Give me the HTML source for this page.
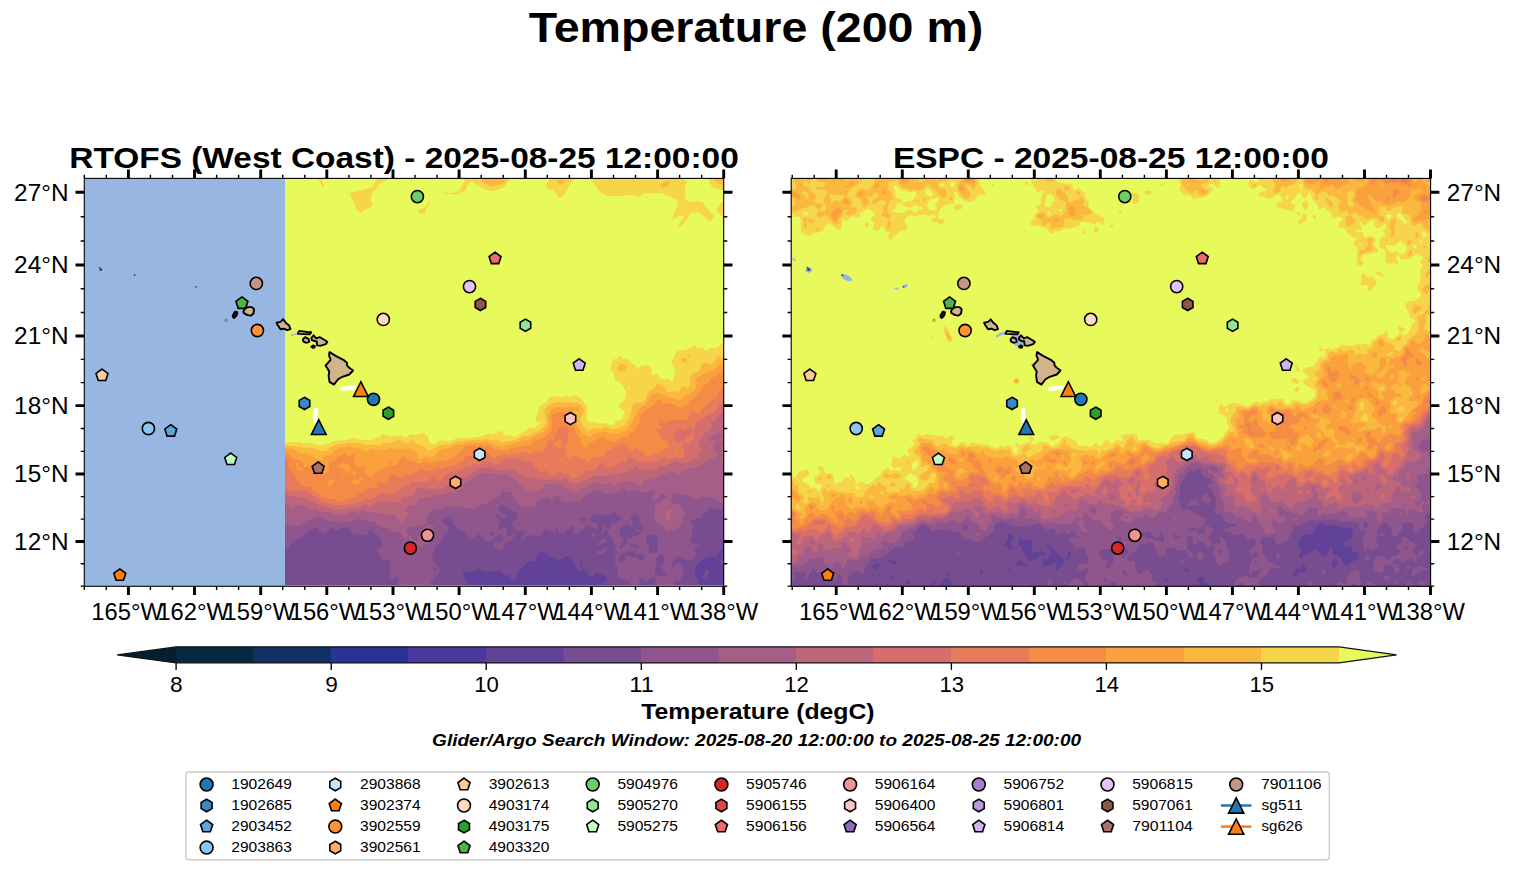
<!DOCTYPE html>
<html><head><meta charset="utf-8"><title>Temperature (200 m)</title>
<style>html,body{margin:0;padding:0;background:#fff;overflow:hidden}svg{display:block}text{font-family:"Liberation Sans",sans-serif}</style></head>
<body>
<svg width="1514" height="889" viewBox="0 0 1514 889" font-family="Liberation Sans, sans-serif">
<rect width="1514" height="889" fill="#fff"/>
<text x="756.0" y="42.1" font-size="42" text-anchor="middle" font-weight="bold" font-style="normal" fill="#000" textLength="454.7" lengthAdjust="spacingAndGlyphs">Temperature (200 m)</text>
<g>
<clipPath id="clipL"><rect x="84.3" y="178.4" width="639.4" height="407.9"/></clipPath>
<g clip-path="url(#clipL)">
<rect x="84.3" y="178.4" width="639.4" height="407.9" fill="#97b6e1"/>
<rect x="285" y="178.4" width="438.70000000000005" height="405.6" fill="#4a389f"/>
<path fill="#624198" d="M285 178.5l439.5 0 0 406.5-439.5 0z"/>
<path fill="#784c90" d="M285 178.5l439.5 0 0 371-3 0.5-1 0.5-0.5 1.5-2 1.5-2.5 3.5-4.5-0.5-6 2-6 4-3 3-0.5 4.5-1 3 0 1.5 1.5 3 2.5 1.5 0 1.5-0.5 3 0.5 1.5-87 0-1-1.5-1.5 1.5-5.5 0-0.5-3.5 3 0 1-2.5-0.5-1.5-3.5-3-3 0.5-3-2-1.5 0-3 3.5-1.5 0.5-1.5-1-3-4.5-3-3-1.5 1-1.5 1.5-1.5 0.5-3.5-3-1-1.5-0.5-3-2.5-5-3.5-2.5-2.5-0.5-2 2-1 0.5-1.5 0-3 2-1.5-0.5-1.5-2-1.5-1-3 0-4.5-3.5-3-1-3-0.5-3 3-0.5 1.5 0 3-1 1.5-3 1-1.5-1-1.5-0.5-2 2-1 1.5-5 3-5 7.5 0.5 3-2.5 2.5-1.5 0.5-1.5-1.5-2-3-2.5-1-3 0-1-0.5-1-1.5-2.5-2-1.5 0-4.5 1-3-1-1.5 0.5-4.5 0.5-1.5-0.5-3-2.5-1.5 0-4.5 1.5-1.5 0.5-4.5 1-1.5 0.5-3-0.5-0.5 1 0.5 3 3 3 0 3 0.5 3-182 0zM580.5 562l-0.5 5 0.5 0.5 1.5-0.5-1-1.5 0-1.5 1 0 0.5-1.5-0.5-1zM722.5 558l1.5 0 0 3 0.5 0.5 0 4-1.5 0-1.5-1.5-1.5-3 0.5-1.5zM706.5 570l2.5 0 0 1.5-1 7.5-1.5 0.5-4.5-2 0-1.5 3-4.5z"/>
<path fill="#8e568c" d="M285 178.5l439.5 0 0 331-9 0-4.5-2-1.5 0-1.5 2.5-1.5 1.5-3 1.5-1 1.5 0 1.5-0.5 1.5-3 1.5-3-0.5-4.5 2-0.5 1.5 0.5 1 2 2 0.5 1.5-2 3 0.5 3-0.5 3-0.5 3-1.5 3 3 2 4.5 0.5 1.5-0.5 1.5 1-3 0.5-3 2.5-0.5 1.5 1.5 3 0.5 3-1.5 2.5-1.5 2-4.5 0.5-1.5-0.5-4.5-0.5-1.5-2-1.5-1-3 1-1.5 1-1.5 3.5-1.5 1.5-0.5 2.5 0.5 1.5 1.5 0.5 0.5-0.5 1-3 1.5-0.5 1.5 0 3.5 2 1 1.5 0 1.5 1.5 1.5 0 1.5-1.5 1.5-0.5 1.5-1 4.5-1.5 1.5-1.5 0.5-3-0.5-2 1.5 2 3-20 0 0-3 1-3-0.5-0.5-1.5-1-3 0-3 2-1.5 2.5-1.5-0.5-3-4.5-1.5 0.5-0.5 1.5-1.5 6-8 0-0.5-3-1.5-1.5-1.5 0-3-1.5-3 0-1.5-1-1-2-1.5-4.5 0-1.5 1-1.5 0-1.5-3-3 0.5-4.5-1.5-3 1.5-1.5 2.5-1.5-0.5-1.5-1-1.5-1.5-1.5-0.5-1.5 0.5-3-1.5-2-0.5-1 0-3-4.5-4.5-1-4.5-1.5 0-2 1.5-1 1.5 0 2-2-0.5 0-1.5 3.5-7.5 2 1.5 1 2.5 1.5 0 1.5-1.5 0.5-1-0.5-1.5 3-2 3 0.5 2-3 2-1.5 0.5-1.5-0.5-1.5-1-1-1.5 0.5-1.5-0.5-1.5-2-1.5-1.5-3 2.5-3 0.5-3 1-4.5-1.5-5 0.5-2.5 1-1 2-2.5 1.5 3.5 4 3 0 1.5 1 0.5 2.5-1 3-1 0-1.5-0.5-3-3-1.5-1-3 1-1.5 1-6 6.5-3 0.5-1.5-0.5-1.5-1 0.5-1.5 1.5-3-2-1.5-1.5 0-3 2.5-3 0.5-0.5 3-2.5 1-3.5-1-1-1.5-0.5 0 0.5-1.5-1.5-1.5-2 1.5 2 1.5 0.5 1.5-2 0.5-7.5-3-3-0.5-3 4.5-1.5 1-1.5 0.5-4.5 0.5-3-1.5-3 1.5-3 0.5-1 3.5-0.5 0-2.5-1.5 0-1.5 2.5-1.5 1-1.5 0-1.5-1-1.5-1.5-0.5-3 1-6-3.5-1-4.5 0.5-1.5 3-3 0.5-1.5 1.5-3-0.5-1.5-2.5-1.5-7-1.5-0.5-1.5-3.5-3-1-1-1.5 0.5-2 2 0 1.5 0.5 2 1.5 1.5 5 2.5 0.5 1.5-1 1.5-3 1-1.5 0-1.5-3-1.5-1-2 1.5 0 1.5 5 3 0 1.5-1.5 1-1 5-1 1.5 2 0.5 1.5-2 4.5-1.5 2 4.5-1.5 3 0.5 1.5 0.5 0.5 3 0.5 3-4 1.5-0.5 0.5 0.5 0.5 1.5-1 2.5-2.5 2-0.5 3-3-0.5-3.5 2-1 1.5-1 4.5-0.5 1-1.5 0.5-5.5-3-2.5-3 0.5-1.5 1.5-1 4.5 1 1.5-0.5 1-1 1-3-0.5-1.5-1.5-2.5-5.5 2.5-2.5 3-5.5 2-3-1-1-1-0.5-3-1-1.5-2-1-3 0.5-1.5 2 0 1 1.5 0.5 2 1.5-0.5 0-2 0-1-1.5-1.5-1-4.5 2.5-1.5-1.5-0.5-3-2.5-3-1.5-1-3-1-1.5 0-2-1-1-3-3-2-0.5-1 0.5-3-1.5-3-1.5-1-3 0.5-3 2.5-1.5 0.5-0.5 2 2 1 2.5 3.5 2 0.5 0.5 1-0.5 3-1.5 1.5-1.5 0.5-1.5 1.5-1.5 7-4.5 2.5-3.5 5-1 3-0.5 3-1 3 1.5 4 2.5 2 4 6-1 3-1 1.5-2 1.5-2.5 4-3 2 0 1.5 0.5 1.5-33 0-0.5-1.5 0-1.5 1.5-2 0-1-0.5-1.5-1-1-1.5 0-1.5 1.5-1.5 2-1.5-0.5-2.5-5 0-1.5 1.5-3 0-1.5-1-1.5 0-1.5 1-1.5 0.5-1.5-1-1.5-1.5-1-3-0.5-3 1-1.5-4-2-1.5-2-4.5 0.5-1.5 0.5-0.5 4-2.5 0.5-3-0.5-1.5-2.5-5-1.5-1.5-3-1-2.5-3-2-1.5-1.5 0-1 1.5-0.5 4-1.5 1-1.5-0.5-4.5-1.5-3 0-4.5-0.5-1.5-2-0.5-2-1-1-3-0.5-4.5 0-4.5 2-4.5-2-1.5 0-7.5 5.5-3.5-1-1-1.5-1.5-3-1.5-0.5-6 1.5-1.5 1-1.5 3.5-3 1-4.5 4-3 0.5-2 1-1 1.5-3 2-1 2.5-2 2.5-3-1zM492 531.5l-1.5 1-0.5 1.5 0.5 1.5 1.5 0.5 1.5-1 1.5-2.5-1.5-1zM582 517l-1.5 0.5-1 1.5 1 1.5 3 1 1.5 0 0.5-1 0.5-1.5-1-1zM631.5 516l-1 1.5 0 1.5 1 1.5 2 1.5 0 1.5-1 3-1 0.5-1.5-0.5-3-3-3 3-3 1-1.5 1.5 0 1 1 2.5-1.5 3 1 1.5 2.5 1.5 0.5 1.5-1.5 4.5-2 1.5 0 1.5 1.5 1 1.5 0 1.5-3.5 3.5-2 0-1.5-1-1.5 0.5-1.5 3-0.5 6-2.5 3 0 1-1.5 0-1.5-1-1.5-1.5 0.5-3-2-0.5-1.5 2 0.5 3 2 3 0 0.5-1 0.5-1.5-0.5-1.5-3.5-3 0.5-4.5-2-4-1.5 0zM649.5 535l-3 1-0.5 1 0.5 1.5 0.5 4.5 1.5 3 0.5 1.5 0 4.5 0.5 1 3-0.5 3 0.5 1.5-1 0.5-1.5 1-3-1.5-3-0.5-1.5 2-3-2-4.5-1-1zM660 554.5l-3.5 3.5-1 1.5 1.5 4.5-0.5 1.5-2 3 1 6.5 4.5 2 6-1.5 1-1 0-1.5-4-2-1-2.5 1-4.5 2-3 0-3-0.5-1-3-2.5zM433.5 568l0 2 1.5 1.5 2-1.5 0-1.5-0.5-1-1.5-0.5zM627 551.5l-1.5 1-4 1-2 1 0 2-1.5 3 0.5 1.5 2.5 1.5 1.5-0.5 2-1 1.5-1.5-1-3 2-2 3 2.5 6 0 1.5 0.5 1.5 2.5 3 1 1.5-1 1-2 0-1.5-2.5-3-1.5-0.5-3 1.5-1.5-0.5-1.5-3-3 0.5zM631.5 544l-0.5 0.5-0.5 1.5 1 1.5 3-0.5 1.5 2 3-0.5 1-1-2.5-2.5zM507 522l1 1.5-1 2-0.5-0.5zM591.5 532.5l1-0.5 3 2 0.5 1.5-0.5 1-1.5 0.5-1.5-1-1-2zM603 538.5l1.5-1.5 2 4.5-2 1-3 0.5-2 1.5-1 1.5-0.5-1.5 1.5-3 0.5-1.5zM488.5 544.5l0.5-0.5 0.5 0.5 0.5 1.5-1 0.5-0.5-0.5zM603 549l1.5-1.5 1.5 0.5 0.5 2.5-2.5 1.5-1 1.5-3 1-2.5-1-1-1.5 0.5-2 3 1 1.5-0.5z"/>
<path fill="#a55e87" d="M285 178.5l439.5 0 0 319-0.5 0.5 0.5 0 0 5-3 0.5-1.5-0.5-4.5-3.5-4.5-2-3 0-4.5-1-1.5 0.5-2 2.5-2.5 0.5-4.5-1.5-3-2-1.5-1-4.5-1-3 0-3-1-1.5 0-3-0.5-1.5 2 0 3-1 1.5-0.5 1.5 1.5 1.5 3 1 4.5 0.5 1.5 0.5 4.5 10-0.5 1.5-2 1.5-0.5 1.5 0 3-2 3-5 6-2 0-1.5-0.5-3 1-1.5 0-3-2.5-3-4-4.5-2.5-2.5-2-0.5-1.5 0-1.5 1.5-7.5-0.5-1.5-1-3 0.5-1.5 1-0.5 6-2 2-2 4-1.5 0-1.5-4.5-3-1.5 0-4.5 6-1.5 0.5-3 1-1-1.5 0-1.5 1.5-3 2-3-2.5-2-6 2.5-3 0.5-9-2.5-3 1-4.5 0-3-3-1.5 0-1.5 2-4.5 2.5-6 0.5-3 0.5-1.5 0-3-1.5-4.5-1.5-3-0.5-3.5 1.5-2.5 2-4.5 1-4.5 5.5-1.5 1-7.5-0.5-3 1.5-6-1-1.5-1-1-1-0.5-3-1.5-0.5-4.5 0.5-1 1.5 0 1.5 0.5 1.5-1 0.5-1-0.5-0.5-1.5-1.5-1.5-3-1-7.5 3.5-1.5 1.5-1 3.5-5 2-3-0.5-4.5 0-3-1-4-3.5-2.5-4.5-2.5-3 0-3.5-1.5-0.5-3 1.5-2.5-0.5-2-2.5-0.5 2.5-2.5 4-3 2-4.5 1.5-3 3.5-3 2-3-1.5-1.5 0.5-1.5 1.5-5 3-2.5 0.5-9-1-3-1.5-9 1-4.5-1.5-1.5 0-6 4-1.5 0-3-0.5-1.5 1-5 4-1.5 1.5 0.5 1.5-1 3 0.5 3-1 0.5-3 0.5-3 1.5-3 0-1.5 0-3 1-4.5 0.5-2 3.5 0 1.5 2 2 4 2.5 2.5 3 2.5 1 1.5-0.5 0.5-0.5-1.5-3 2.5-1.5 1.5 0.5 1 1 0.5 2 1.5 0.5 1-1-3.5-7.5 0-1.5 4-3.5 3-1.5 3 1 2 1-0.5 1.5-1 1.5 0.5 1.5 1.5 1.5-0.5 1.5-2 2.5-1.5 0.5-0.5 1.5 0 3-1 2.5-1.5 0.5-3-0.5-1 0.5-2 2.5-1.5-1-1.5 0.5-0.5 1 0 1.5 1 3-0.5 1-1.5 0.5-1.5-1-3-4.5-3.5-2 0.5-1.5 1.5 0.5 1.5-0.5-1.5-1-1.5 0.5-2-1 2-2.5 0-2.5-1.5 0-1 0.5-0.5 1.5 0.5 1.5-0.5 0.5 0-2-1.5-0.5-0.5-1-2-1.5-1-3-1-1.5-1.5-0.5-3 0.5-7.5-4-9-2-2.5-1.5-2-3-1.5-0.5-4.5 0-2.5-1 0.5-1.5-1-0.5-0.5 0.5 0 1.5-1 0.5-1.5 0-3-2-1.5 0-7.5 2.5-12 1-3-1-1.5-0.5-3 0.5-6-1.5-1.5-1.5-1.5-0.5-4.5-1-9 3-6 3-3 2.5-1.5 0.5-3 0-4.5-1.5-6 1zM288 521.5l-0.5 0.5 0.5 2 0.5-2z"/>
<path fill="#bd667b" d="M285 178.5l439.5 0 0 261.5-3 1.5-1.5-0.5 0-1.5 1.5-1.5 0.5-1.5-1-3-1-0.5-1.5 0-3 1-5 4-1.5 1.5 0 1.5 0.5 0.5 1.5 0 1.5-1 1.5-0.5 1.5 1 1 1.5-3 3-0.5 3 1 2 2.5 2.5 0.5 1.5 0 1.5-10.5 6-9 4.5-1.5 1.5-1.5 0.5-4.5-0.5-4.5 3-3 0-1.5 1-3 3-1.5-0.5-2-2-2.5-1.5-4.5 2-3 0.5-1.5 0.5-3 2-3 0.5-3 2.5-3 0-3 1.5-1.5 0-3-1 0 3.5-0.5 1.5-1 0.5-1.5 0-3-0.5-2-1.5-1-1.5-6-1-4.5 0.5-6 2-3 2-1.5 0.5-1.5-0.5-1.5-2-1.5-0.5-1.5 0.5-3 1.5-1.5 0-3-0.5-4.5-2-1.5 0-6 3.5-3 2-4 1.5-3.5 4-6-1.5-1.5-0.5-4-2-2.5-3-1-0.5-9-1.5-6 0-1.5 0.5-6 4.5-3.5 1.5-2.5 2-3-1.5-1.5-0.5-3 0.5-1.5-1-1.5-2.5-4.5-4-3-3.5-3-1.5-1.5-1.5-4.5-2.5-3 0.5-3-0.5-4.5 0-12-2-5 1.5-4 3.5-10.5 5.5-1.5 1.5-0.5 3-1.5 1.5-4 2-6 1.5-3 0-3 2-6 0.5-4.5 0-6 2.5-3 0-8 2-0.5 1.5 0 1.5-1.5 1.5-3.5 2.5-1.5-1.5-1.5 0.5-4 3-1 1.5 0.5 0.5 3 1.5 0.5 1 0.5 1.5-1 1.5-4.5 6.5-1.5 1-1.5-1-1.5-3-2.5-2-0.5-2-1.5-1-7.5-0.5-3 0.5-3-1.5-3 0-3-1-3 0.5-4.5-0.5-1.5 0-3-2-1.5 0.5-3 2-7.5-1-1.5 0.5-3 2.5-4.5 0.5-4.5-1-3 1-4.5-2.5-4.5-0.5-4.5 0.5-4.5-3.5-1.5-0.5-6 0.5-4.5-3.5-7.5-0.5-1.5 0.5-1.5 2-1.5 1-4-1.5-3.5-3.5zM721.5 447l1.5-1 1.5-0.5 0 19-3-1 0.5-4.5 2-3-2-1.5-0.5-1.5 0.5-4.5zM668 510l3 0 0.5 1.5-1.5 4.5 0.5 3-0.5 1.5-1 0.5-1.5-0.5-1.5-2-0.5-2.5 0-1.5 1.5-3z"/>
<path fill="#d56e6c" d="M285 178.5l439.5 0 0 235-3 0.5-1.5 0.5-3.5 4 0 1.5-1 1-4.5 1 0 1 1 3-0.5 1.5-3.5 4-1.5 0.5-1.5 0-1 1.5-0.5 3-3 3-2 4.5 0.5 1.5 3 3 0.5 1.5-3.5 3-0.5 1.5 0 3-1 1-4.5 0.5-5.5 3-3.5 1-3-0.5-4.5-1.5-1.5 0-6 3.5-3 1-1.5 1-3-1-1.5 0.5-3 3-7.5 1.5-4.5 0-4.5-1.5-4.5-2.5-1.5 0.5-2 2.5-5.5 2.5-3 0-3 1.5-3-0.5-3 2.5-4.5-1.5-4.5 1.5-3 0-3 0.5-4.5 0-3 1-3 2-7.5 2-7.5 3-1.5 0-3-1.5-4.5-4-1.5 0-3 2-1.5 0-6-1.5-4.5 1-10.5-0.5-3-2.5-1.5-0.5-1.5 0-3 1.5-1.5 0-1.5 0-3-2-1.5-0.5-3-1-3.5-3.5-2.5-1.5-1.5-0.5-7.5 1.5-3-0.5-3 0.5-7.5-3-6-0.5-9 3-1.5 1-2.5 3-6.5 4-1.5 0-3-1.5-1.5 0-2.5 0.5-2 6-1.5 2-1.5 1-4.5-1-2 1-2.5 3-1.5 0.5-6 0-3-0.5-3 0-4.5-1-6 0-2 1-1.5 3-1.5 1.5-0.5 1.5-1.5 1.5-3.5 0.5-4.5 0-1.5 1-1.5 3-1.5 1-4.5 0.5-7.5-1-4.5 1-3-1.5-1.5 0-4.5 4-3 1-1.5 0-4.5-0.5-3 0.5-3 1.5-4.5 0-10.5 2-9 0-12-3-11-5.5-4-0.5-1.5-1-1.5-2.5-1.5 0-4.5 0.5-6-2-4.5 0-3-0.5zM617 475.5l1-0.5 1.5 0.5-1.5 1z"/>
<path fill="#e87b59" d="M285 178.5l439.5 0 0 221.5-2.5 2-3.5 4.5-0.5 1.5-4 5.5-3 1-1.5-0.5-1.5 0.5-4.5 4-4.5 1.5-2 1.5-2.5 7.5-1.5 1.5 0.5 3-0.5 3 0.5 1.5-0.5 1.5-4.5 5.5-1.5-2.5-1.5-0.5-1.5 0.5-1.5 1.5-0.5 1.5 0.5 1.5 2 3 0 1.5 0 4.5-0.5 1-1.5 0.5-3 0.5-4.5-0.5-6 2.5-3-2-3-1-3 1-3 4-1.5 0-4.5-0.5-3 1-4.5-1-3 0-6-1-3-3.5-1.5 0-1.5 0.5-3 4.5-1.5 0.5-1.5 0-1.5-0.5-1.5 0-1.5 2-6 3.5-6-0.5-1.5-2-1.5-1-1.5-0.5-1.5 0-2 1.5-1 3-1 1.5-6.5 1.5-3-0.5-1.5 0.5-0.5 1.5-1.5 1.5-5.5 2.5-3 2.5-1.5 0-1.5-0.5-1.5-1.5-1.5-3-1.5-0.5-2 0.5-2.5-1-3-0.5-1.5 0.5-3 2-3 0.5-3.5-1.5-1.5-3-1-0.5-3 1-3-0.5-2-1.5-1-3-1.5 0.5-1.5-1.5-1.5-4-9 0-1.5-0.5-1.5-2-1.5-0.5-3 1-3 0-3-1-4.5 1.5-1.5-0.5-1.5 1-3 3-4.5 1.5-4-3-3.5-1.5-3 1-4.5 2.5-1.5 0.5-4.5 0-3 1.5-4.5 0.5-3 2-9 3-3 0-4.5 2.5-4.5 4.5-1.5 2.5-1 0.5-2 0-4.5-4.5-3 1.5-1.5 2-1.5 1-4.5-0.5-4.5 1.5-1.5 0-3-1-1.5-0.5-4.5 4.5-1.5 0.5-3 0.5-4.5 3-3 3.5-7.5 1-6-2-3 1.5-3.5 3-7 3.5-3-0.5-7.5 3.5-6 1-3 0-10.5 1.5-3 0-9-3-6-0.5-3-2.5-3-3-3-1-6-4-1.5-0.5-3 0.5-6-1-4.5 0.5-3-2-1.5-0.5-1.5 0zM690 428l-4.5 2.5-1.5 0.5-3-2-1.5 0.5-3 2.5-1.5 0.5-1.5 1 0 1.5 1.5 5 1.5 1 3 0.5 3 0 1-0.5 2-3 1.5-1.5 1.5-0.5 2-1 1-3 1.5-1.5-1.5-1.5z"/>
<path fill="#f58c46" d="M285 178.5l439.5 0 0 209-4.5 2-3.5 8-2.5 2-3 1-1.5 1-1.5 3-4.5 2.5-1.5 2-1 3.5-0.5 0.5-1.5 0.5-3 0-1.5-0.5-2.5-2-1 0-1 0.5-0.5 4-1.5 3-1 0.5-4.5 1.5-3-1-3 0.5-3-1-1.5 0.5-3 1-3 2.5-1.5 0.5-1-0.5 0-1.5-0.5-1-1.5-0.5-2 1.5-0.5 1.5 0.5 1.5 0.5 1.5 1.5-0.5 0.5 0.5 0 1.5-0.5 1.5-1.5 0.5-1.5-1-1.5 0-1 2 2.5 3.5 1.5 0 2.5 7 0.5 0 1.5-1 1.5 0.5 3 5-0.5 1.5-7 4-4.5 2-9 0 3 0 0.5 1.5-0.5 1.5-1.5 0.5-1.5 0-1.5-0.5-3-3.5-3-1.5-3-3-1.5-0.5-3 2.5-2 0-2-1.5-1-3-2.5-1-3-0.5-1.5 0-4.5 2.5-3 1-3 2.5-3-0.5-1.5 2.5-1 4-0.5 0.5-10.5 0.5-2.5 2-2 2.5-1.5 0-1-1-6.5-2.5-6-2-2.5 0-2 2-4-2-0.5-1.5 2-4.5-3-1.5 1-3 1-1.5 1.5-1.5 0.5-1.5-1-3 0.5-3 1.5-3 0-1.5-0.5-1.5-1.5-1.5-5-1.5-4 1.5-0.5 1.5 1 1.5-0.5 1.5-2.5 1.5-1 1.5 0.5 3 0 1.5-2 0.5-1.5-0.5-4.5 1.5-1.5 7.5-1.5 1.5-3 1.5-7.5 0.5-4.5 2-1.5-0.5-6-2-2.5 1.5-3.5 1-4.5 0.5-3 1-1.5 0-3-1.5-1.5 0-3 1-4.5 3-3-1-1.5-1-1.5-2.5-1.5-0.5-3 0.5-3 0-3 3.5-3 1-1.5 0-3-2.5-3 0-1.5 0.5-1.5 1.5-1.5 3-1.5 1-4.5 1.5-2.5 2-2 1-4.5 0-3 1.5-4.5 1-3-1-3 0.5-1.5 1-1.5 2-1.5 0.5-4.5-0.5-4.5-2.5-1.5 0.5-1.5 2-7.5 3.5-4.5 0.5-6 2.5-1.5-0.5-2.5-1.5-2-0.5-6 0.5 0 1.5 1 1.5-1.5 3-2 1.5-2 0.5-3-1.5-2.5 1 0 3-1 1.5-2.5 1-3 0-3-1-1.5 1-7.5 5-1.5 0-2 3-2.5 1.5-6 0-5 3-2.5 0.5-6-2.5-1.5-0.5-3 1-1.5-0.5-1.5-1-4.5-0.5-1.5-1-3-3-5-3-4-4-3 0.5-1.5 0-4.5-4-1.5-2-2.5-2.5-1.5-3-3.5-4.5-3-2.5-0.5-2 1.5-4.5-3-4.5-1-0.5zM646.5 446.5l0 1.5 1.5 0 1-1-1-1zM558 439.5l1.5-1.5 1.5 0.5 0.5 1-0.5 1.5 0.5 3-0.5 3-1.5 1-6-2.5-0.5-1.5 2-2.5 1.5 0.5 1.5 0 0.5-1zM675 448.5l1.5 0.5 0.5 1-0.5 1.5-2-1.5zM562.5 457.5l1.5 0.5 0.5 1-0.5 1.5-2 0-1.5-1.5z"/>
<path fill="#faa03c" d="M285 178.5l439.5 0 0 193.5-3 0.5-2.5 1-2.5 1.5-0.5 1.5-0.5 0.5-3 0-1.5 0.5-1 3.5-4.5 3-5 7-2.5 2-3.5 5-1.5 1.5-3 0.5-2 3.5-5.5 4-4.5 0-2.5-2.5-3.5-1.5-6-0.5-3 0.5-1 0-1-3-1-1-4 1-2 4.5-4.5 2-4.5 4-3 1.5-1 1.5-1.5 4.5 1 1.5 0.5 1.5-3.5 3.5-3 5.5-1.5 1.5-3.5 1.5-1.5 3-1 0.5-3-0.5-1.5 0.5-3 1.5-4.5 3-3 0-1.5-0.5-4-1.5-3.5-2.5-1.5-0.5-6 4-3 1-7.5 6-1.5-1.5-1.5-2-0.5-4.5-1-1.5-5-6-0.5-3-1.5-3-2-2-4.5-1.5-1-1-0.5-1.5 0.5-3-0.5-4-1.5-1-4.5 0-6 2-1 1.5-1 3 1.5 4.5-4 10.5-1.5 1.5-6 3.5-7.5 3-4.5 4-10.5 1.5-3 0-7.5 3-3 0.5-7.5-0.5-9-4-1.5 0-3 0.5-4.5-1-3 0.5-4.5-1-1.5 0-6 2-3.5 3-1 2.5-3 1-3 4-1.5 0.5-7.5 2.5-3 0.5-6 0.5-4.5 1-4.5 0-3-1-1.5 0.5-3 1.5-1.5 0-6-3-6-0.5-1.5-3.5-1.5-0.5-4.5 4.5-1.5 4.5-4.5 1-2.5-1 0-3-0.5-1.5-2 1.5 2 3-1 1.5-2 1-6 1-1.5 2-1.5 1-1.5 0.5-3 2.5-4.5 1.5-1.5 0-1.5-2-1.5-1.5-0.5-1.5 1-1.5 0.5-1.5-1-2-1.5-0.5-1.5 0-1.5 2-1.5 0.5-1.5-0.5-1-1-1.5-3 0.5-3-1-1.5 0.5-3-0.5-1.5-1.5-0.5-2 2-2.5 0-3-2.5-1.5-0.5-1.5 2-4.5 2-3 3.5-5.5 1.5 0.5 6-2 4.5-2 1-3-1-1.5 0-1.5 1.5-0.5-1.5-1-0.5-1.5-2.5-4.5-2.5-4.5-0.5-3 1-1.5-4-1.5-2-4.5-2-3 0-2.5-2-2-3.5-4.5-1zM343 462l0.5-0.5 1 0.5 0.5 2.5 1.5 0.5 1.5-1 1.5 0.5 1.5 6.5 1.5 0.5 3 0 2 1-2 1-1.5 3-2-2.5-1-3-3.5 1.5-0.5 1.5 1 1.5-1.5 0.5 0-2-3-5.5-3.5-0.5-2.5-1.5 1.5-1.5 2.5-1.5zM296.5 463.5l0.5-1 1.5 0 0.5 1-0.5 3 5 1.5 0 1.5-5 1-1.5-1-1-4.5zM342 477l3.5 0-2 1.5-1.5 0.5-0.5-0.5zM370 477l0.5-1.5 1.5 0 0.5 1.5 0 1.5-2 0zM353.5 478.5l0.5-1 2 2.5 1 0.5 4.5-3.5 1 1.5-0.5 1.5-3.5 4-1.5 0.5-3-0.5-1.5-1.5-0.5-1 0.5-1.5zM330 480l1.5-1 1.5 0 2 1-0.5 1.5-1.5 1.5-3 2-1.5 2.5-1.5-1.5 0-1.5 1.5-1.5z"/>
<path fill="#fab83f" d="M285 178.5l439.5 0 0 184.5-4.5 1-1.5 2-9 6-7.5 2.5-1.5 1-5 2.5-1 1.5 2.5 3-1 4.5-1.5 3.5-1.5 1.5-1.5 0.5-3 2-3 0-4.5 5.5-1.5 0.5-1.5-0.5-7-2.5-5-1-3-1.5-4.5-2-6 1.5-1.5 1-6 9.5-3 1.5-4.5 4.5-5.5 12-5 7-1.5 1-7.5 2.5-4.5 0-3-0.5-3 0-3-1.5-10 2-3.5 3-3 0.5-5-3.5-3.5-4.5-2.5-4.5-4-3.5-1.5-2.5 0.5-4.5 1-2 1.5-2 3 1.5 1.5-0.5 0.5-1.5-0.5-1.5-1.5-1-1.5 0-1.5 1-3-1.5-1.5 0-9 1-6 0-1.5 0.5-1.5 1-2.5 3.5-1.5 4.5 1 6-1.5 4.5-1 1.5-3.5 3-4.5 2.5-4.5 2-5 3-4 1-3 0-18 6-4.5-0.5-13.5-4-6 0.5-4.5 0.5-4.5-0.5-4.5 0.5-4.5 2-4.5-0.5-1.5 0.5-3 2-3 1-10.5 2-2 1.5-2.5 4-3 2-3 0-3-1.5-4.5 3-1.5 0.5-1.5-0.5-1-4.5-3.5-4-3-1-6-1-6 1-9-1.5-4.5 1.5-6 1-6-1-1.5-1-1.5 0.5-3 2-1.5 0.5-3-1-3-2-1.5-0.5-4.5 0-3-1.5-1.5-0.5-4.5 1.5-3 0-7.5 3-1.5 1-1.5 3-1.5 1-4.5-0.5-1.5 1-1.5 3.5-1.5 0-6-1.5-5-2-2-1.5-0.5-1.5-6 1-7.5-4.5-4.5-0.5-4.5-0.5z"/>
<path fill="#f6d54a" d="M285 178.5l439.5 0 0 179-3 0-3-2-2.5 1.5-0.5 3-1 1.5-2 2-1.5 1-1.5 0-3-2-4.5 1-1 1 0 3-3.5 4.5-4.5 1-1.5 1.5-1 2 0 6-1 4.5-1 1-1.5 0-3-1.5-3 0-1 3.5-2 2.5-1.5 0-1.5-1.5-4.5 1-3 0-1.5-0.5-1.5-4.5-1-1.5-5-2-1.5 0-1.5 3.5-1.5 1.5-3 1-2.5 2-3 7.5-2 2.5-4.5 1.5-3 0-1.5 0.5-1.5 1.5-1.5 4.5-0.5 3-1 4.5-4.5 8-4.5 2-3 1.5-2 0.5-4 0.5-6-2.5-1.5 0-4.5 2-1.5 0-6-1-3 3-1.5 0-1.5-2.5-3-1.5-1-1-2-5.5-1-0.5 2-3 2.5-7.5-0.5-1.5-1-1.5-5-4-1.5 0-3 0.5-4.5-1-4.5 0.5-7.5-0.5-7.5 3-2.5 1.5-1 1.5-1 3 0 1.5 0.5 6 1.5 3-0.5 1.5-1.5 2.5-6 5.5-1.5 1-3 0.5-6 3-6 1-3 2-6 2-9 2-1.5 0-1.5-0.5-3-2-1.5-0.5-3 1-7.5-1.5-9 1-12 0.5-4.5 1-4.5 0.5-6 2.5-4.5 0-7.5 1.5-3 2-4.5 2.5-3-0.5-1.5-1-3-3-7.5-2.5-3-3-1.5-0.5-2 2.5-2.5 0.5-3-0.5-4.5-2.5-1.5 0-3 1-6 2-6 0-1.5 1-1.5 2-7.5-1.5-4.5 1-1.5 0-4.5-2-4.5-1-3 0.5-4.5-0.5-4.5 1.5-7.5 0-1.5 0.5-3 2-3 1-3 3-3 0.5-4.5-0.5-7.5-3-7.5 1-4.5-1.5-3 0-3-1-4.5 0-4.5-0.5zM621 364l-2.5 2-1 1.5 0 1.5 0.5 1 1.5 1 3 0.5 1.5 0 2-1 0.5-1.5-1-5-1.5-0.5zM682.5 358l-1 0.5 0 1.5 0.5 1.5 3.5 1.5 1.5-0.5-0.5-2.5-1-1.5-1.5-0.5zM688.5 355l-0.5 2 0.5 0.5 1.5-0.5 0-2z"/>
<path fill="#e8fa5b" d="M285 178.5l439.5 0 0 168-1-1.5-2-1-1.5 1.5-2 1-2.5 2-4.5-1-2 2-2.5 1-1.5-0.5-3-2.5-1.5 0-1.5 1-1.5 0-1.5-2-1.5-1.5-1.5 0-1.5 3-3 0.5-3 1.5-3 0-5 1-2.5 3-2 4.5-1.5 3 0 1.5 2.5 4.5 1 4.5 0 1.5-1.5 1.5 0.5 3 0 1.5-2 1.5-1.5-0.5-1.5-1.5-4.5 0.5-3-0.5-2-1-1.5-3-1-1-4.5 1.5-1.5-0.5 0-1.5 1.5-3-3-4-3-1.5-1.5 0-4.5 1.5-2 1 0 1.5-1 0-3-4.5-1.5-1-3-0.5-1.5-3.5-1.5-1-4.5 0-0.5-1.5-1-1-1.5 0.5-3 3-3-0.5-1 1-1 3-1 6 0.5 1.5 3 3 0 3 1.5 4.5 4.5 1.5 4.5 6 2 3-2 6 1 1.5 0.5 0-0.5 0-1 1.5-5.5 3-0.5 1.5 1 2 4.5 4 0.5 1.5-1.5 3-0.5 3-1.5 1.5-1.5 0.5-3 0-1 1-1 3-1 0.5-3 0-6-2-4.5 0.5-6-1.5-6-0.5-0.5-1.5-1-6 1-4.5-0.5-3-5.5-7.5-2.5-2-3-1.5-1.5 0-3 1.5-6-1-4.5 1.5-3-1-6-0.5-3 2-2 4-6 3-2.5 3 0 4.5-3 5.5 0 1.5 1.5 3 1.5-0.5 1.5 0 0 1.5-3 2-1.5 2-1.5 0.5-4.5 0-1.5 1-3 2-3 1.5-3 2.5-3 1.5-3 0-6-1.5-3 0.5-1.5-4.5-1.5-0.5-2 1.5-2.5 0.5-3 2-6-0.5-6 2.5-12 1.5-9-0.5-4.5 1-3 1.5-4.5 1-4.5-0.5-4.5 0-1.5 0.5-3 2.5-1.5 1-4-2-1-3-0.5-3-3.5-3-1.5-0.5-3 0.5-6 1.5-3-1-4.5 3-1.5 0.5-3-2-4.5 0.5-3-0.5-6 0.5-6-2-1.5 1 0 2-3 0-6 3-3 0-9-0.5-3-1-3-0.5-9 2-10.5 1-6 2.5-6 2-6-0.5-3-1.5-3-0.5-7.5 0-4.5-1.5-3 1-4.5-0.5-4.5 0.5-1.5-0.5zM627.5 388.5l1-1 0.5 1 0 1.5-1.5 0z"/>
<polygon fill="#f6d54a" points="349.7,193.2 360.6,190.3 372.2,187.4 375.8,181.5 378.0,178.4 388.2,178.4 385.3,181.5 379.4,183.7 375.8,188.8 372.2,193.9 370.7,199.0 372.9,205.5 366.4,209.1 360.6,212.8 356.9,209.9 353.3,201.2 351.1,196.8"/>
<polygon fill="#f6d54a" points="318.4,178.4 322.1,180.1 323.5,184.4 325.0,186.3 322.1,185.9 319.9,182.3"/>
<polygon fill="#f6d54a" points="417.2,210.6 424.5,207.7 428.1,203.3 430.3,201.9 430.3,203.3 426.7,207.7 424.5,213.5 420.1,213.5"/>
<polygon fill="#f6d54a" points="441.2,192.1 452.1,193.2 459.4,190.3 463.0,183.7 465.2,180.8 463.0,178.4 510.8,178.4 507.9,182.3 505.0,185.9 500.1,188.8 491.3,191.7 484.1,188.8 476.8,185.2 472.4,181.5 468.1,183.7 465.9,189.5 459.4,194.6 452.1,194.6 443.4,193.6"/>
<polygon fill="#f6d54a" points="545.0,184.4 551.5,178.4 574.7,178.4 568.9,186.6 563.1,196.8 558.8,197.5 554.4,191.7 551.5,189.5 547.9,189.5"/>
<polygon fill="#f6d54a" points="590.0,178.4 595.1,185.2 599.5,191.7 606.7,196.1 624.2,196.1 628.5,194.6 638.7,196.8 644.5,193.2 661.9,193.2 670.7,196.8 677.9,200.4 677.2,206.2 674.3,212.1 672.1,220.0 677.2,217.1 683.0,215.0 684.5,217.1 679.4,223.0 677.2,228.0 682.3,225.1 686.6,220.0 690.3,213.5 698.3,212.1 704.1,216.4 709.9,222.2 714.2,215.7 710.6,212.1 706.2,207.7 702.6,201.9 698.3,201.2 688.1,201.9 685.2,198.2 685.2,185.2 687.4,181.5 681.5,178.4"/>
<polygon fill="#f6d54a" points="709.2,178.4 723.7,178.4 723.7,190.3 718.6,189.5 712.8,187.4 709.9,183.7"/>
<polygon fill="#f6d54a" points="723.7,201.2 720.1,204.1 716.4,209.1 720.1,214.2 723.7,217.1"/>
<polygon fill="#fab83f" points="478.3,178.4 505.0,178.4 505.0,183.7 498.6,185.2 491.3,186.6 485.5,183.7"/>
<polygon fill="#fab83f" points="556.6,180.1 564.6,180.1 563.8,183.0 560.9,184.9 558.0,182.3"/>
<polygon fill="#fab83f" points="659.8,185.2 666.3,180.8 669.9,181.5 667.7,185.9 663.4,187.8"/>
<polygon fill="#fab83f" points="714.2,178.4 723.7,178.4 723.7,185.2 718.6,183.7 715.0,181.5"/>
<path d="M291.7,335.3L297.6,333.2" stroke="#97b6e1" stroke-width="1.6" stroke-linecap="round"/>
<path d="M303.5,342.8L309.4,341.0" stroke="#97b6e1" stroke-width="1.3" stroke-linecap="round"/>
<path d="M310.5,347.6L314.0,346.0" stroke="#97b6e1" stroke-width="1.3" stroke-linecap="round"/>
<path d="M329.8,351.6L332.0,353.0" stroke="#97b6e1" stroke-width="1.2" stroke-linecap="round"/>
<polygon points="329.5,352.1 335.7,355.9 343.4,359.8 346.9,362.8 347.1,365.6 349.3,367.7 353.1,370.5 349.3,374.5 342.3,376.8 337.9,379.5 333.9,384.6 329.5,381.9 328.6,375.6 329.3,371.4 325.5,365.6 327.9,362.8 330.6,359.8 329.0,355.4" fill="#d2b48c" stroke="#000" stroke-width="1.9" stroke-linejoin="round"/>
<polygon points="311.4,337.9 313.6,335.3 316.2,338.4 319.6,337.2 324.6,340.0 327.3,341.9 325.7,344.2 320.2,345.8 317.1,345.4 316.7,341.2 314.7,341.2 311.8,340.0" fill="#d2b48c" stroke="#000" stroke-width="1.9" stroke-linejoin="round"/>
<polygon points="297.9,333.7 299.3,330.9 304.8,331.6 307.4,332.0 311.2,332.3 309.6,334.4 303.7,334.1 299.3,333.9" fill="#d2b48c" stroke="#000" stroke-width="1.9" stroke-linejoin="round"/>
<polygon points="303.0,339.3 305.2,337.2 308.5,338.8 309.2,341.9 305.9,342.8 303.2,341.2" fill="#d2b48c" stroke="#000" stroke-width="1.9" stroke-linejoin="round"/>
<polygon points="311.4,346.5 313.2,345.4 314.9,346.1 314.5,347.5 312.5,347.7" fill="#d2b48c" stroke="#000" stroke-width="1.9" stroke-linejoin="round"/>
<polygon points="276.6,322.6 280.5,321.9 283.2,319.3 286.0,323.1 288.9,325.2 290.5,329.0 287.1,330.2 283.8,328.7 280.5,329.2 277.7,325.0" fill="#d2b48c" stroke="#000" stroke-width="1.9" stroke-linejoin="round"/>
<polygon points="243.3,311.6 244.8,308.7 247.9,307.1 251.9,307.1 254.1,309.2 253.4,313.5 251.0,315.6 247.5,315.1 243.9,313.2" fill="#d2b48c" stroke="#000" stroke-width="1.9" stroke-linejoin="round"/>
<polygon points="233.1,315.3 235.1,312.0 237.1,312.5 236.4,315.3 234.2,317.7 233.1,316.8" fill="#d2b48c" stroke="#000" stroke-width="2.4" stroke-linejoin="round"/>
<circle cx="100.8" cy="269.4" r="1.5" fill="#333" fill-opacity="0.85"/>
<circle cx="99.6" cy="267.6" r="0.9" fill="#333" fill-opacity="0.85"/>
<circle cx="134.6" cy="275.0" r="0.9" fill="#333" fill-opacity="0.85"/>
<circle cx="195.8" cy="286.8" r="0.9" fill="#333" fill-opacity="0.85"/>
<circle cx="226.2" cy="320.3" r="1.2" fill="none" stroke="#444" stroke-width="0.6"/>
<path d="M340.8,389.2 Q348.0,387.6 356.0,387.8" stroke="#fff" stroke-width="4.2" fill="none"/>
<path d="M316.3,408.3 Q315.0,415 315.6,423" stroke="#fff" stroke-width="4.2" fill="none"/>
<circle cx="373.5" cy="399.3" r="6.1" fill="#1f77b4" stroke="#000" stroke-width="1.6"/>
<polygon points="304.50,397.30 309.78,400.35 309.78,406.45 304.50,409.50 299.22,406.45 299.22,400.35" fill="#3a89c5" stroke="#000" stroke-width="1.6" stroke-linejoin="miter"/>
<polygon points="170.80,424.70 176.79,429.05 174.50,436.10 167.10,436.10 164.81,429.05" fill="#5fa5d9" stroke="#000" stroke-width="1.6" stroke-linejoin="miter"/>
<circle cx="148.4" cy="428.5" r="6.1" fill="#8fc5ee" stroke="#000" stroke-width="1.6"/>
<polygon points="479.60,448.30 484.88,451.35 484.88,457.45 479.60,460.50 474.32,457.45 474.32,451.35" fill="#c3e6fc" stroke="#000" stroke-width="1.6" stroke-linejoin="miter"/>
<polygon points="119.80,568.90 125.79,573.25 123.50,580.30 116.10,580.30 113.81,573.25" fill="#ff7f0e" stroke="#000" stroke-width="1.6" stroke-linejoin="miter"/>
<circle cx="257.4" cy="330.5" r="6.1" fill="#ff9232" stroke="#000" stroke-width="1.6"/>
<polygon points="455.50,476.30 460.78,479.35 460.78,485.45 455.50,488.50 450.22,485.45 450.22,479.35" fill="#ffad66" stroke="#000" stroke-width="1.6" stroke-linejoin="miter"/>
<polygon points="102.00,369.10 107.99,373.45 105.70,380.50 98.30,380.50 96.01,373.45" fill="#ffc999" stroke="#000" stroke-width="1.6" stroke-linejoin="miter"/>
<circle cx="383.3" cy="319.4" r="6.1" fill="#ffdcc3" stroke="#000" stroke-width="1.6"/>
<polygon points="388.35,407.05 393.63,410.10 393.63,416.20 388.35,419.25 383.07,416.20 383.07,410.10" fill="#2ca02c" stroke="#000" stroke-width="1.6" stroke-linejoin="miter"/>
<polygon points="241.90,296.95 247.89,301.30 245.60,308.35 238.20,308.35 235.91,301.30" fill="#49b649" stroke="#000" stroke-width="1.6" stroke-linejoin="miter"/>
<circle cx="417.4" cy="196.6" r="6.1" fill="#6ccd6c" stroke="#000" stroke-width="1.6"/>
<polygon points="525.45,319.15 530.73,322.20 530.73,328.30 525.45,331.35 520.17,328.30 520.17,322.20" fill="#92e692" stroke="#000" stroke-width="1.6" stroke-linejoin="miter"/>
<polygon points="230.75,453.10 236.74,457.45 234.45,464.50 227.05,464.50 224.76,457.45" fill="#c2fcc2" stroke="#000" stroke-width="1.6" stroke-linejoin="miter"/>
<circle cx="410.4" cy="548.1" r="6.1" fill="#d62728" stroke="#000" stroke-width="1.6"/>
<polygon points="495.05,252.20 501.04,256.55 498.75,263.60 491.35,263.60 489.06,256.55" fill="#ea6b6b" stroke="#000" stroke-width="1.6" stroke-linejoin="miter"/>
<circle cx="427.5" cy="535.3" r="6.1" fill="#f29493" stroke="#000" stroke-width="1.6"/>
<polygon points="570.40,412.45 575.68,415.50 575.68,421.60 570.40,424.65 565.12,421.60 565.12,415.50" fill="#fcc3c3" stroke="#000" stroke-width="1.6" stroke-linejoin="miter"/>
<polygon points="579.20,358.80 585.19,363.15 582.90,370.20 575.50,370.20 573.21,363.15" fill="#d2b2f3" stroke="#000" stroke-width="1.6" stroke-linejoin="miter"/>
<circle cx="469.5" cy="286.6" r="6.1" fill="#e4c3fb" stroke="#000" stroke-width="1.6"/>
<polygon points="480.45,298.30 485.73,301.35 485.73,307.45 480.45,310.50 475.17,307.45 475.17,301.35" fill="#8c564b" stroke="#000" stroke-width="1.6" stroke-linejoin="miter"/>
<polygon points="318.15,461.90 324.14,466.25 321.85,473.30 314.45,473.30 312.16,466.25" fill="#a97268" stroke="#000" stroke-width="1.6" stroke-linejoin="miter"/>
<circle cx="256.3" cy="283.4" r="6.1" fill="#c49585" stroke="#000" stroke-width="1.6"/>
<polygon points="318.75,419.75 311.40,434.45 326.10,434.45" fill="#1f77b4" stroke="#000" stroke-width="1.6" stroke-linejoin="miter"/>
<polygon points="360.90,381.75 353.55,396.45 368.25,396.45" fill="#ff7f0e" stroke="#000" stroke-width="1.6" stroke-linejoin="miter"/>
</g>
<rect x="84.3" y="178.4" width="639.4" height="407.9" fill="none" stroke="#000" stroke-width="1.1"/>
<path d="M84.3,178.4v-3.6M84.3,586.3v3.6" stroke="#000" stroke-width="1.4"/>
<path d="M106.3,178.4v-3.6M106.3,586.3v3.6" stroke="#000" stroke-width="1.4"/>
<path d="M128.4,178.4v-8.8M128.4,586.3v8.8" stroke="#000" stroke-width="2.9"/>
<text x="127.1" y="619.7" font-size="23.4" text-anchor="middle" font-weight="normal" font-style="normal" fill="#000" textLength="71.6" lengthAdjust="spacingAndGlyphs">165°W</text>
<path d="M150.4,178.4v-3.6M150.4,586.3v3.6" stroke="#000" stroke-width="1.4"/>
<path d="M172.5,178.4v-3.6M172.5,586.3v3.6" stroke="#000" stroke-width="1.4"/>
<path d="M194.5,178.4v-8.8M194.5,586.3v8.8" stroke="#000" stroke-width="2.9"/>
<text x="193.2" y="619.7" font-size="23.4" text-anchor="middle" font-weight="normal" font-style="normal" fill="#000" textLength="71.6" lengthAdjust="spacingAndGlyphs">162°W</text>
<path d="M216.6,178.4v-3.6M216.6,586.3v3.6" stroke="#000" stroke-width="1.4"/>
<path d="M238.6,178.4v-3.6M238.6,586.3v3.6" stroke="#000" stroke-width="1.4"/>
<path d="M260.7,178.4v-8.8M260.7,586.3v8.8" stroke="#000" stroke-width="2.9"/>
<text x="259.4" y="619.7" font-size="23.4" text-anchor="middle" font-weight="normal" font-style="normal" fill="#000" textLength="71.6" lengthAdjust="spacingAndGlyphs">159°W</text>
<path d="M282.7,178.4v-3.6M282.7,586.3v3.6" stroke="#000" stroke-width="1.4"/>
<path d="M304.8,178.4v-3.6M304.8,586.3v3.6" stroke="#000" stroke-width="1.4"/>
<path d="M326.8,178.4v-8.8M326.8,586.3v8.8" stroke="#000" stroke-width="2.9"/>
<text x="325.5" y="619.7" font-size="23.4" text-anchor="middle" font-weight="normal" font-style="normal" fill="#000" textLength="71.6" lengthAdjust="spacingAndGlyphs">156°W</text>
<path d="M348.9,178.4v-3.6M348.9,586.3v3.6" stroke="#000" stroke-width="1.4"/>
<path d="M370.9,178.4v-3.6M370.9,586.3v3.6" stroke="#000" stroke-width="1.4"/>
<path d="M393.0,178.4v-8.8M393.0,586.3v8.8" stroke="#000" stroke-width="2.9"/>
<text x="391.7" y="619.7" font-size="23.4" text-anchor="middle" font-weight="normal" font-style="normal" fill="#000" textLength="71.6" lengthAdjust="spacingAndGlyphs">153°W</text>
<path d="M415.0,178.4v-3.6M415.0,586.3v3.6" stroke="#000" stroke-width="1.4"/>
<path d="M437.1,178.4v-3.6M437.1,586.3v3.6" stroke="#000" stroke-width="1.4"/>
<path d="M459.1,178.4v-8.8M459.1,586.3v8.8" stroke="#000" stroke-width="2.9"/>
<text x="457.8" y="619.7" font-size="23.4" text-anchor="middle" font-weight="normal" font-style="normal" fill="#000" textLength="71.6" lengthAdjust="spacingAndGlyphs">150°W</text>
<path d="M481.2,178.4v-3.6M481.2,586.3v3.6" stroke="#000" stroke-width="1.4"/>
<path d="M503.2,178.4v-3.6M503.2,586.3v3.6" stroke="#000" stroke-width="1.4"/>
<path d="M525.3,178.4v-8.8M525.3,586.3v8.8" stroke="#000" stroke-width="2.9"/>
<text x="524.0" y="619.7" font-size="23.4" text-anchor="middle" font-weight="normal" font-style="normal" fill="#000" textLength="71.6" lengthAdjust="spacingAndGlyphs">147°W</text>
<path d="M547.3,178.4v-3.6M547.3,586.3v3.6" stroke="#000" stroke-width="1.4"/>
<path d="M569.4,178.4v-3.6M569.4,586.3v3.6" stroke="#000" stroke-width="1.4"/>
<path d="M591.4,178.4v-8.8M591.4,586.3v8.8" stroke="#000" stroke-width="2.9"/>
<text x="590.1" y="619.7" font-size="23.4" text-anchor="middle" font-weight="normal" font-style="normal" fill="#000" textLength="71.6" lengthAdjust="spacingAndGlyphs">144°W</text>
<path d="M613.5,178.4v-3.6M613.5,586.3v3.6" stroke="#000" stroke-width="1.4"/>
<path d="M635.5,178.4v-3.6M635.5,586.3v3.6" stroke="#000" stroke-width="1.4"/>
<path d="M657.6,178.4v-8.8M657.6,586.3v8.8" stroke="#000" stroke-width="2.9"/>
<text x="656.3" y="619.7" font-size="23.4" text-anchor="middle" font-weight="normal" font-style="normal" fill="#000" textLength="71.6" lengthAdjust="spacingAndGlyphs">141°W</text>
<path d="M679.6,178.4v-3.6M679.6,586.3v3.6" stroke="#000" stroke-width="1.4"/>
<path d="M701.7,178.4v-3.6M701.7,586.3v3.6" stroke="#000" stroke-width="1.4"/>
<path d="M723.7,178.4v-8.8M723.7,586.3v8.8" stroke="#000" stroke-width="2.9"/>
<text x="722.4" y="619.7" font-size="23.4" text-anchor="middle" font-weight="normal" font-style="normal" fill="#000" textLength="71.6" lengthAdjust="spacingAndGlyphs">138°W</text>
<path d="M84.3,586.1h-3.6M723.7,586.1h3.6" stroke="#000" stroke-width="1.4"/>
<path d="M84.3,563.8h-3.6M723.7,563.8h3.6" stroke="#000" stroke-width="1.4"/>
<path d="M84.3,541.5h-8.8M723.7,541.5h8.8" stroke="#000" stroke-width="2.9"/>
<text x="68.5" y="549.9" font-size="23.4" text-anchor="end" font-weight="normal" font-style="normal" fill="#000" textLength="54.4" lengthAdjust="spacingAndGlyphs">12°N</text>
<path d="M84.3,519.1h-3.6M723.7,519.1h3.6" stroke="#000" stroke-width="1.4"/>
<path d="M84.3,496.6h-3.6M723.7,496.6h3.6" stroke="#000" stroke-width="1.4"/>
<path d="M84.3,474.0h-8.8M723.7,474.0h8.8" stroke="#000" stroke-width="2.9"/>
<text x="68.5" y="482.4" font-size="23.4" text-anchor="end" font-weight="normal" font-style="normal" fill="#000" textLength="54.4" lengthAdjust="spacingAndGlyphs">15°N</text>
<path d="M84.3,451.4h-3.6M723.7,451.4h3.6" stroke="#000" stroke-width="1.4"/>
<path d="M84.3,428.5h-3.6M723.7,428.5h3.6" stroke="#000" stroke-width="1.4"/>
<path d="M84.3,405.6h-8.8M723.7,405.6h8.8" stroke="#000" stroke-width="2.9"/>
<text x="68.5" y="414.0" font-size="23.4" text-anchor="end" font-weight="normal" font-style="normal" fill="#000" textLength="54.4" lengthAdjust="spacingAndGlyphs">18°N</text>
<path d="M84.3,382.6h-3.6M723.7,382.6h3.6" stroke="#000" stroke-width="1.4"/>
<path d="M84.3,359.4h-3.6M723.7,359.4h3.6" stroke="#000" stroke-width="1.4"/>
<path d="M84.3,336.0h-8.8M723.7,336.0h8.8" stroke="#000" stroke-width="2.9"/>
<text x="68.5" y="344.4" font-size="23.4" text-anchor="end" font-weight="normal" font-style="normal" fill="#000" textLength="54.4" lengthAdjust="spacingAndGlyphs">21°N</text>
<path d="M84.3,312.5h-3.6M723.7,312.5h3.6" stroke="#000" stroke-width="1.4"/>
<path d="M84.3,288.8h-3.6M723.7,288.8h3.6" stroke="#000" stroke-width="1.4"/>
<path d="M84.3,265.0h-8.8M723.7,265.0h8.8" stroke="#000" stroke-width="2.9"/>
<text x="68.5" y="273.4" font-size="23.4" text-anchor="end" font-weight="normal" font-style="normal" fill="#000" textLength="54.4" lengthAdjust="spacingAndGlyphs">24°N</text>
<path d="M84.3,241.0h-3.6M723.7,241.0h3.6" stroke="#000" stroke-width="1.4"/>
<path d="M84.3,216.7h-3.6M723.7,216.7h3.6" stroke="#000" stroke-width="1.4"/>
<path d="M84.3,192.3h-8.8M723.7,192.3h8.8" stroke="#000" stroke-width="2.9"/>
<text x="68.5" y="200.7" font-size="23.4" text-anchor="end" font-weight="normal" font-style="normal" fill="#000" textLength="54.4" lengthAdjust="spacingAndGlyphs">27°N</text>
<text x="404.0" y="167.6" font-size="29.4" text-anchor="middle" font-weight="bold" font-style="normal" fill="#000" textLength="669.5" lengthAdjust="spacingAndGlyphs">RTOFS (West Coast) - 2025-08-25 12:00:00</text>
</g>
<g>
<clipPath id="clipR"><rect x="791.2" y="178.4" width="639.4" height="407.9"/></clipPath>
<g clip-path="url(#clipR)">
<rect x="791.2" y="178.4" width="639.4" height="407.9" fill="#97b6e1"/>
<rect x="791.2" y="178.4" width="639.3" height="407.9" fill="#2a3296"/>
<path fill="#4a389f" d="M791 178.5l640.5 0 0 408-640.5 0z"/>
<path fill="#624198" d="M791 178.5l640.5 0 0 408-640.5 0z"/>
<path fill="#784c90" d="M791 178.5l640.5 0 0 408-99 0-1.5-2.5-1.5 2.5-46.5 0-1.5-2-2 2-70.5 0-1-1.5-4-3 0-3-0.5-1.5-3-1-4 2.5 2 3 0 4.5-246.5 0-1.5-6-3.5-4-0.5 1-4.5 3-1.5 6-7.5 0 2-3 0-2-1.5-0.5-0.5 1-1 2.5-2.5 2-12 0-2-1 0 1-25.5 0-1.5-2-1.5 0-1.5 0.5-1.5 1.5-93 0zM876.5 564l-3.5 1.5-1 1.5 3 2 3.5-0.5 1-1.5 0.5-3zM888.5 559l0 2 4 3 2 0.5 3-0.5 0-1.5-3-1.5-3 0-1.5-1.5zM906.5 580l-1 2 0 1.5 1 0.5 3.5-0.5 0.5-1.5-1-1-1.5-1zM948.5 571.5l-1.5 1.5 0 2.5 1.5-0.5 1.5-2zM980 571l-0.5 2 0.5 1 1.5 0 1.5-1 0-1.5-1.5-1zM999.5 542l-0.5 1 0.5 1 1.5 1 1-0.5zM1008.5 533l-1 1 0.5 4.5-4 6.5-1.5 1 3 0 6 4 1-1-2.5-6 0-1.5 1.5-2 3-1-0.5-1.5-4-3.5zM1020.5 536.5l-2 5-0.5 3 1 1.5 1.5 0 3 6 4 4.5 0.5 4.5 1.5 0.5 4.5-1 3.5-2.5 2-3 3.5 0.5 2-0.5 1.5-1.5-3.5-2-4.5-0.5-1.5 0.5-3 2-1.5-1.5-0.5-3 0.5-7.5-1.5-1.5-7.5 0-2-1.5zM1047.5 543l-1 1.5 0.5 1.5 2 3.5 2 1 0 1.5-2 3 0 3-1.5 2.5-1.5 0-1.5-2-1.5 0-1 1 1 3-0.5 3 2 1 1.5 0 4.5-1.5 4.5-2 1.5 0.5-0.5 5 0.5 2 1.5-1 4.5-4.5 1.5-2.5 0-1.5-1.5-1.5-1-3-3.5-2.5zM1068.5 551.5l-0.5 2-0.5 3-1.5 3 1 0.5 1.5-0.5 2.5-6-1-1.5zM1164.5 578l0 2.5 1.5 2 1.5 0.5 1-1 0-1.5-2.5-2zM1184 568.5l-1 1.5 1 1.5 3 0.5 2.5-0.5 0-1.5-1.5-1.5zM1320.5 524l-5.5 4-0.5 1.5-0.5 3-4 1.5-1.5 1-1.5 0.5-1.5-1-3 0.5-2 5-3 3 0.5 3.5 3 2 1 2-2.5 4 0 2 1 1.5 0.5 0.5 3-3.5 4.5-1.5 6-4 1.5 0.5 1.5 0.5 3 4 4.5 2 1.5-0.5 1-1 1-3 1-4.5 1.5 0 2.5 1.5-1.5 4.5 0.5 1 6 1 2.5 2.5 1 4.5 2.5 1.5 3 1 4.5-3.5 4.5-1.5 3-5-1.5-2.5-1.5-1-1.5 0.5-2 0-1-1.5 0-3-3-2-4.5 0.5-2.5-1.5 1-1.5 4.5-1.5 0-3 3 0.5 1.5-1.5 1-6.5-1-2-3-1.5-7.5 0-4.5-2-6-1-4.5 1.5-4.5-2.5zM872 575l0 1 2 1.5 0.5-1.5-1-1zM890 576.5l-0.5 1 0.5 1 1.5 1 1.5-2-1.5-1.5zM1008.5 569.5l0 2.5 1.5-0.5 1.5-1.5-1.5-1zM1019 560.5l-1.5 0.5-1 1.5-0.5 1.5 1 1.5 6.5 0.5 3.5 2.5 0.5-1.5-1-2.5-5-3.5zM1040 578.5l-0.5 0.5 0.5 0.5 1.5 0 0.5-0.5-0.5-1zM1304 565l-1.5 0.5-1.5 2.5-1.5 1-3-0.5-1.5 0.5-1.5 4-1.5 1.5 4.5 2 1.5-2 3-3 3 1.5 1.5-2.5 0.5-2-0.5-2zM1334 558.5l-2 5.5 0.5 3 1.5 0.5 3-1.5 1-2-1-4.5-1.5-1zM1306 538.5l1-0.5 0.5 2z"/>
<path fill="#8e568c" d="M791 178.5l640.5 0 0 334.5-3 0-3.5 3 0 1.5 2.5 3-0.5 2.5-4.5 5-3 1.5-2 3-4 1-1-1 1.5-7.5-1.5-1.5-2-1-6 0-1.5 1-1 1.5 0.5 3-4.5 7.5-1 1-1.5 0.5-3.5-1.5-0.5-1.5 0-4.5-1.5-3-3.5-3-1.5-0.5-3 1-1.5 1-1.5 3-2.5 1.5-0.5 1.5 2.5 3 0 1.5-1 1-2 5 3 4.5-0.5 1.5-6.5 3-3-2.5-1.5 0.5-1 2-0.5 3-3-9 0.5-3-0.5-4.5 3-4.5-0.5-1.5-1-2 0 0.5-3 0.5-2-2-0.5-1.5 0.5-3-7-2-10.5 0.5-4.5-2-3-0.5-6 1-6-1-6 1.5-3-1.5-3 0.5-9 5-3 1-3-0.5-1.5 0.5-1 2 0 4.5-2.5 3-2.5 5.5-3 0.5-6 3.5-2.5-2-1.5-4.5-2-2-1.5 0-4.5 1.5-3-1-1.5 0-1.5 1.5 0 4.5 2 3-0.5 6 1 1.5 1.5 1.5 3.5 7 3 0.5 2.5 1.5 0.5 1 4.5 0.5 1.5 1.5-0.5 1.5-2.5 0.5-3-1.5-1.5 0-3 3-2 4-4 3-5 3-0.5 1.5 0.5 1.5 4.5 3-18.5 0-0.5-2-1.5-1-3-0.5-1.5 1.5 0 2-3.5 0-0.5-3 2.5-4.5 7-3 2-2 3 3 4.5 0.5 3 1 2.5-4 2.5-3 0-1.5-2-0.5-5.5 2-2 3-1.5-0.5-1.5-1 1-3-0.5-4.5 2-3 1.5-4.5 3.5-0.5 2.5-2.5 0-1.5-2.5-2-1.5 0.5-1.5 1-1.5 2.5-1.5-0.5-0.5-1.5 0.5-4.5 5.5-4.5 0.5-3-1.5-2.5-1.5-0.5-4.5 1-1.5-0.5-1.5-2-1.5-3-3 0-4.5 1.5-1.5 0-7.5-4-4.5-0.5 0.5-1.5 1-0.5 3-0.5 3-1.5 4.5 0 1-2-0.5-1.5-5 0-3-0.5-4-4-2-4-4.5-1.5-1.5-1-1-2.5 1.5-3 0-7.5-4-10.5-1-1-3-0.5-1.5-1.5 1.5-1.5 3.5 0 0.5-1.5-1-4.5-1.5-0.5-4.5 0.5-6-9.5-1.5-0.5-4.5 3-4.5 0.5-2.5 3.5-1 3-3.5 3-0.5 3-2 3 0 1.5 2 4.5-0.5 1.5-2.5 1.5-0.5 1.5 2 3 0.5 4.5 2 4.5 2 0.5 3-2 1.5 0.5 10.5 6.5 5 2 1.5 1.5 0.5 3-1 2-3 2-0.5 2-2.5 1-3 0.5-1.5-2.5-1.5 0-5 1 0 1.5 3.5 2.5 4.5-2.5 1.5 4 6 1 1.5-0.5-0.5-6 2-3 1.5 0.5 1.5 1 1.5 2 3 1-5 6-0.5 1.5 0 1.5 4 5.5 1.5-1 4.5 1 1.5-0.5 1-2-1.5-3 0.5-2 1.5 0 3 3 1.5 3 1 5 2 4.5 0.5 7.5-2 3-1.5 0.5-3 0.5-3 2-1.5 0-3-3-0.5-1.5 0-3-2-3-0.5-3.5 3-2.5-1.5-3-1.5-1.5-1.5 0.5-1.5 1.5-1.5 0.5-1.5-1-1.5-3-7.5-2.5-1 4-2 0.5-1.5-2-0.5-6-1-1-3.5 1-0.5 1.5-0.5 9 0 1 7 6.5 0 1.5-1.5 1.5-2.5 0.5-1.5-0.5 0-3-3-4.5-3-0.5-4.5 1.5-3-4-3 1-4.5-1-1.5 1.5 0.5 3-1 3-5.5 2-1.5-1-1.5-2.5-1.5-4-1-2-2-5.5-1.5 0-7.5 2-3-0.5-1.5 0.5 0 5-1.5 1.5-4.5 1-1.5 4-3-0.5-1.5 3 0.5 1.5 2.5 2 4.5-1 1.5 1.5-1 3.5 0 1.5 4 7.5 6-3 1.5-2 1.5 0.5 4 4.5-0.5 4.5 0.5 1.5 5 3 0.5 3-12.5 0-1.5-1.5-1 1.5-28.5 0 1.5-3-0.5-1-3-1-2 0.5 0.5 4.5-23.5 0 1.5-3-1-1.5-2-1.5 0-1.5 1-6 3-4.5-1.5-1-1.5 0.5-3 2.5-1.5 0-3-0.5-2-1.5 2-4 1.5-0.5 4.5 0 1.5-1 2.5-3.5 0-1.5-3-4.5 0-3-2.5-2.5-1.5-0.5-3 1-4.5-1-1.5-3-3.5-3 0.5-3 1.5-2 4.5 1.5 1.5-1-3.5-6-1-0.5-1.5 0-1.5 4-6-2.5-3 1-3 2-1.5-1-0.5-3-1-1.5-3-1-4.5 2-6.5-5.5-2.5-1-3 0-6 2-6 0-4.5 1-4.5-1-1 0.5 0 1.5-0.5 0.5 0-2-2-1.5-8.5-3.5-6 2-2.5 3 0.5 4.5-1 1-8 5-4 4.5-4.5 1-6-3-4.5 0.5-1.5-1-1.5-2-3-2-3-3.5-3 0.5-7.5-2.5-4.5 0-4.5 1-1.5-0.5-4.5 2-1.5-1-1.5-3-2-1.5-4-1.5-1.5 0-2 1.5-2 3-4.5 3-0.5 1.5 2 3-0.5 3-1.5 0.5-3-0.5-3 2-1.5 0-1.5-2.5 0 2 1 1.5 0 1.5-1 2-1.5 1.5-1.5 0-4.5-1.5-3 2.5-3 1-2 3.5-5.5 3.5-6 2-4.5-1-1.5 1-1.5 3.5-2.5 1.5-1 1.5 0 3-2.5 5-1.5 0.5-4.5-3-6 2-2 3-1.5 3 0.5 3 2 3 0 1.5-3 0-0.5-1.5-4.5-2-1-2.5 0.5-3-1-2.5-1.5-0.5-1 1.5-1 3-2.5 0.5-2.5-0.5 0-1.5 0.5-1.5-0.5-1.5-3.5-0.5-0.5 0.5-0.5 1.5 2 1.5 0.5 1.5-1.5 0.5-1.5 0 0-3.5-3-3-3-1-3 1-1 0-2-4.5-1.5-0.5-2 3.5-3 3 0.5 1.5 0 1.5-1.5 1.5-1.5 0.5-2-0.5 0-1.5 2.5-3-0.5-1.5-10.5-1-1 1 0.5 4.5-1.5 3-2.5 0.5zM965 524.5l-1.5 1.5 0 2 0.5 1.5 1 1 2-1 1-3-1.5-1.5zM1112 548.5l-3 1-6 0-3.5 2.5-0.5 1.5 1.5 4.5 1 1 4.5 0.5 1.5 1.5 0.5 3-3.5 3 3 1 1.5 0 1.5-1 0-1.5 2.5-3 0.5-9 1.5-3-1-1.5zM1118 538l-0.5 0.5 0 1.5 0.5 1 1.5 0.5 2-1.5 0.5-1.5-2.5-1zM1124 548.5l-1 0.5 0 3-1 1.5-0.5 1.5 1 2.5 2-1 1-2.5 1.5 0.5 1-2.5 0-1.5-0.5-1.5zM1140.5 531.5l-1.5 1-0.5 3 0.5 2 1.5 0.5 3-2 1.5 0.5 3 2.5 3-1 3 2.5 4.5-0.5 3 2 1.5 0 1.5-3.5 0-1.5-3-4.5-1.5 0.5 0 2.5-1.5 1.5-1.5 0.5-3-1-1-1-2-3-1.5-1-1.5 0-4.5 2zM1167.5 519l-1.5 1.5 0 1 3-1 1.5-1.5-1.5-1zM1173.5 535l0 2 1.5 2 4.5-0.5 1-1.5-4-2.5-1.5-0.5zM1365.5 522l-2.5 1.5 0 1.5 1 2.5 1.5 1 1.5-1.5 1-2-1-2.5zM1254.5 561l-0.5 1.5 0.5 0.5 1.5 0.5 1.5-0.5 0.5-0.5-2-2zM1185.5 516.5l-0.5 1 0.5 1.5 1.5 0 0-2zM1220 550l-1.5 2 0.5 1.5 1 0.5 2.5-2 0.5-1.5-1.5-1zM1104.5 578.5l-0.5 0.5 0 1.5 0.5 1 1.5 0.5 1.5 0 1-1.5-1-1.5zM1122.5 570.5l0 2 1 2 2.5 1.5 1-1.5-0.5-1.5-2.5-2.5zM1208 492l0.5 0-0.5 3 1 1.5 2.5 3-0.5 1.5-1.5 1.5-1.5 0.5-4.5-1-1.5-2.5 0-1.5 1-3zM1190 501l1.5-1 6 0.5 1.5 2-0.5 3-1 0.5-4.5-1-4.5 1-0.5-0.5 0.5-1.5zM1380 534l2-1 1.5 0.5 2 2-2 1-3-1zM1402.5 537l2 0 3 1 3 3 4.5 2 1 3-3.5 4.5 0.5 1.5 3.5 3 0 1 4.5-7 1.5 1.5 1 1.5-0.5 1.5-1.5 3-4 0-1 1.5 0 5.5-2.5-4-2-1-1.5 0-1 1-2 2-4.5 1-1.5 0-3-3-1.5-0.5-3.5 2-0.5 3 1 0.5 3 0 1.5 1 1 4.5-1 3-1.5 0.5-1.5-1-3-7-3-1-6 1-1 1.5 1 2.5 0 2-1.5 1.5-7.5-1-1.5-2.5 0-2.5 1-6 3-4.5 2-0.5 6 1 3 4 4.5-4.5 4.5-1.5 1.5-1.5 1-1.5 0-1.5-3.5-3 0.5-1.5 1.5-1.5 3-1.5 1-1.5-0.5-3zM1406 547l-1 2 1 1.5 2-1.5-0.5-1.5zM1431 537l0.5-1 0 13-3-3 1-3 0.5-4.5zM1283 550.5l1.5 0 0.5 1.5-2 0zM959 552l1.5 0 1.5 1.5-3 1-2-1zM1199 552l1.5-0.5 2 2 1 1.5-0.5 3-1 1.5-4.5 0.5-1-2 1-4.5zM1277 553.5l1.5 0 1.5 1.5 0 1.5-1.5 3.5-1.5-0.5-1.5-3 0.5-1.5zM1366 555l1-0.5 1.5 1 1 2.5-0.5 1.5-2 1-1.5-1-0.5-1.5zM1181 561l1.5-1.5 1.5 0.5 1 2.5-2.5 1-1.5-0.5-0.5-0.5zM1407.5 565.5l1.5-0.5 0.5 2-3 3-0.5 5-1.5-0.5 0-1.5 1.5-1.5 0-4.5zM1418 567l1.5-1 3 1.5 3 0 1.5 0.5 1 2-1 0.5-4.5-1-9 6-1.5 0.5 0-4.5 1-3 0.5-1zM1321.5 570l2-1 1.5 1 1 1.5-1 2-1.5 0.5-1.5 0-1.5-2.5zM1354.5 570l2-1 1.5 0.5 1.5 2 1 9 1 3-2 3-3 0-1-1.5-2-1-1.5 0-1 2.5-14.5 0 1-3 2.5-2 1.5 0.5 4.5 2 1-2 0-4.5 2.5-4.5zM1060.5 574.5l1 0 0 1.5-0.5 1-1.5 0 0-1zM1383.5 576l1.5-1 4.5 2 0.5 2-0.5 1.5-3 0.5-1.5-0.5zM1320 577.5l0.5-1 1 1 0 1.5-1 0.5-1.5-0.5zM1074 579l2-1 1.5 0.5 5.5 3.5 1 4.5-15 0-1.5-3 2.5-1zM1397 579l0.5 0 0 1.5-1 4.5 1 1.5-2 0 0-1.5-1-3zM1048 580.5l1-1 1.5 0.5 1.5 2-1.5 3-1.5 1-1.5-1 0-1.5zM1420.5 580.5l2 0 3 1.5 0 1.5-1.5 3-5 0-1-3 0.5-1.5zM1308.5 582l1.5-1.5 1.5 0.5 0.5 1 0.5 4.5-6.5 0 0.5-1.5zM1370 582l1.5 0.5 7 4-13.5 0-0.5-1.5 1-1.5zM1407.5 582l4.5 1.5 1 1.5 0 1.5-8.5 0 1.5-3.5zM1023.5 583.5l1.5-0.5 2 3.5-6.5 0zM1063.5 583.5l0.5-1.5 3 1.5-3 0.5zM995 586.5l1.5-1.5 1.5 1.5z"/>
<path fill="#a55e87" d="M791 178.5l640.5 0 0 260.5-1.5-2-3 3-4.5-0.5-1 1.5-2 3.5-0.5 4 0.5 1.5 1.5 1.5 4.5-1 2.5 1 2.5 4.5 0 4.5 1 1 0 7-3 0-1.5 1 0 1.5 1.5 1.5-1 1.5-3.5-0.5-3 1-3 0-1 1 0 1.5 1.5 4.5-0.5 1-3 1-1 1 6 6 1 6-0.5 1.5-2.5 4-3 2 0.5 1.5 2.5 1 1.5-1 0-1.5 1-1.5 2-1.5 1.5 1-0.5 2-2.5 3 2 3 0 1.5-2 1-10.5-3-1.5 0.5-1 1.5-0.5 3.5-1.5 0-0.5-0.5 1.5-3-7-3-4.5-0.5-4.5 2-3 3.5-1.5 0-3-2-1.5 1.5 1 3-1 4-1.5 1-1.5 0.5-1.5-1.5-2-7-2.5-2.5-1.5 0-3 0.5-1.5-1-0.5 1.5 0 4.5-1 1.5-1.5 0.5-3-1-4.5 0.5-7.5-0.5-2.5-1 1.5-3-5-2.5-6 3-4.5 0-4.5 1-4.5-1-3 2-1.5 0.5-1.5-1-0.5-2 1.5-4.5-8.5-1.5-4.5 6-3 2-3 1-3-3-4.5 0-3-1.5-3 0.5-1-0.5-3.5-5-3 0-1.5 0.5 1.5 3 0 4.5 1.5 1.5 1.5 1 3-0.5 1.5 1 0 1.5-2.5 3-3.5 1.5-1.5 0-4.5-3.5-1.5 0-1.5 0.5 0 1.5 2 3-0.5 3 3.5 3-1 1.5-4 0-2 1.5-2 0-2.5-3-1-4.5-3 0.5 1-2-0.5-1.5-3.5-3-1.5-5-1.5-0.5-1.5 1-1 1.5-0.5 4-1.5 1-4.5-2-3-4-1.5 0-4.5 1.5-1.5-0.5 0-3-1.5-1-4.5-2-3 0.5-1.5-1.5-1.5-3.5 1-3-2.5-6-1-6-2-6-4-6-0.5-4.5-1.5-1.5-3.5 0-1-1.5 0-3 1.5-0.5 4.5 4 2.5-0.5 1.5-1.5 0-1.5-1-1.5-3-2-3-0.5-3 0.5-1.5 1.5-1.5 0.5-1.5-0.5-3-3.5-4.5-1.5-1.5 0-7 4-1.5 1.5-2.5 4.5-1 1-3.5 0.5-1 0.5-0.5 8.5-2.5 4.5 0 1.5 1 3 0 1.5-3 3-0.5 1.5 0 4.5-5 6-1.5 3.5-6-0.5-2 1.5-2.5 4-1.5 1.5-6-1.5-1-1-0.5-2-1.5-0.5-3 5-3-1.5-3 0-4.5 5-1.5 1-10-2.5 1-3.5 3-3 0.5-1-0.5-1.5-4.5-2-6 1.5-2.5 2-0.5 1.5 1 3-2 3 0.5 1.5 3 3 0.5 1.5 0 1.5-1.5 2-3-0.5-3-2.5-3-1.5-2.5-5-5 0.5-2.5-0.5-6.5-7.5-1.5-0.5-1.5 1-1.5 4-1.5 1-4.5-2-0.5 1-1.5 3-3.5 3-2 0.5-7.5 0.5-3-1.5-4.5 0.5-4.5-1-4.5 1-10.5-4.5-10.5-0.5-1-1 4-4.5-1.5-3-1.5-1.5-1.5-0.5-1.5 3.5-0.5 4.5-4 3-1.5-0.5-3-2-1.5 0.5-1.5 2-3 0.5-9-2.5-4.5-2-1.5 0.5 0 2 2 3-0.5 1.5-1.5 1-1.5 0.5-3 7-1.5 1-4.5-3.5-3-4.5-6-2-1-1-2-4-1.5-0.5 0 1.5-4.5 4-1.5 1-1.5 0-4.5-2.5-9 3-1.5 0.5-6-2-3.5 3.5-2.5 0.5-7.5-3-3 0-3 1.5-4.5 3.5-4.5 1-7 2.5-1 4.5-2.5 4-7.5 4-2.5-0.5-1-1.5-2.5-1.5-4 1.5-1 1.5 3 4.5 0 1.5-1 0-4.5-1-3 1.5-3 0-3.5 7-1 0.5-1.5-0.5-3-2.5-6 6.5-6-1-3 0.5-1.5 1.5-1.5 5-1.5 1.5-1.5 0-2-5.5-1-1-1.5 0-4 1-1 6-1 0.5-1-3.5-5-1.5-1.5-1.5 0-5-1.5-0.5-3 0.5-3 0-3 1.5-1.5 0-1.5-2-2 4-1 0.5-3 0-1 2.5-2 1.5-1.5 0-4.5-0.5-4.5 2.5zM1089.5 508l-0.5 2 0.5 1.5 1.5 1.5 3 1 2.5-1 0.5-1.5 0-1.5-1.5-1.5-3-1.5-1.5 0zM1125.5 515.5l-1 2 1 1.5 1.5-0.5 1-1-0.5-1.5zM1404.5 504.5l-1 1 0.5 1.5 0.5 0.5 2-2zM1421 461l-0.5 1 0.5 1.5 2.5-1.5-1-1zM1430 498l1.5-1 0 9.5-3-1.5-2-2.5 0.5-1.5zM1401.5 513l1.5 1.5-1.5 1-1.5-0.5-0.5-0.5zM1294.5 519l0.5-1 1.5-0.5 1 1.5-2.5 1.5zM1080.5 520.5l1.5-1 3 2.5 0 1.5-3 3 1.5 1.5 3.5 1.5 0.5 1.5-1 1.5-5.5-1.5-0.5-4.5-3.5-3-0.5-1.5zM1134.5 531l0-0.5 1 2-0.5 1.5-2 0 0-1.5zM977 532.5l1.5 0 1.5 0.5 0.5 1-0.5 1.5-1.5 0.5-1.5-0.5-1.5-1.5zM1088 535.5l2 1.5-2 0.5zM1123 543l1-1.5 1.5 0 1 1.5-0.5 1.5-2 0z"/>
<path fill="#bd667b" d="M791 178.5l640.5 0 0 243.5-3-3-1.5 0.5-3.5 8-1.5 1.5-5.5 2.5-3 0-2 2-0.5 1.5 1.5 3-1 6 1.5 4.5 0.5 1 3 1 4.5 4 0 1.5-1 1.5-4.5 3-0.5 1.5-1.5 0.5-3-1-3 1-1 1-2 4.5-3 1-2 2-1.5 4.5-4.5 1.5-1 1.5 0.5 1.5 1 0.5 6 1 1.5 4.5 1.5 1 1.5 0.5 3-1 1.5 0.5 1.5 2 0.5 1.5-2 2.5-1.5-0.5-1.5-2-3 2.5-1.5-1.5-2-4-2.5-1-1.5 0.5-3 8-0.5 3 0.5 1.5 0 1.5-3 1.5-7.5 1.5-1.5 0.5-1 2.5-2 1-3-0.5-3-3-4.5-0.5-3 1-1.5 1.5-1.5 0.5-7.5-1-4.5 0.5-3-1-7.5 4.5-1.5-1 0-5-1.5-1-1.5 0-3 1.5-3 1-3 1.5-1.5 0-1-3-0.5-3-1.5-1.5-3 0.5-1-0.5 1.5-3 0.5-1.5-0.5-1.5-2.5-3-1-3.5-1.5-1.5-1.5 0.5-0.5 1.5 1.5 4.5 0.5 6-4.5 0.5-3 2-7.5 1.5-3 1.5-1.5 3-1.5 1-3-0.5-3-1.5-1.5-4-1.5-1-6 2-3 0-3-1-1.5-1-0.5-2.5-4-3.5-1.5-0.5-4.5 2.5 0 1.5 2 6 0.5 7.5 0.5 3-1.5 0-4.5-2.5-4.5 0.5-3.5-4-4-2.5-4.5 0-4.5 1-1-1.5 0.5-4.5-1-5-1.5-1-6 1-1.5-1 0-1.5 2-3 0.5-3-5.5-2.5-1.5-2-1.5-4.5 1.5-1 3 1 1.5-1.5-2-4.5 0.5-6-4.5-1-6-2-7.5-0.5-13.5-5-2 1-4 4.5-7.5 5-1.5 1.5-2 4-1 4.5 0 4.5-1.5 4.5-4.5 7.5-6.5 3-1 1.5 2.5 3-1 4.5-0.5 1.5-5.5 2.5-1.5-1 0-1.5-1.5-1-6 0.5-7.5 3.5-4.5-1-3 1.5-1.5-0.5-1.5-1.5-4.5-1.5-2.5-1.5-2-3-3 2-1.5-0.5-4.5-3.5-3 2.5-1.5 0-3-3-3-1.5-1.5 0.5-1.5 4-4.5-1-4 0.5-3.5-3-4.5-1.5-1 1.5-2 9-1.5 1-3 0-3-2.5-1.5 0-3 4.5-4.5 2.5-4.5 1-4.5 1.5-7.5 1-3-0.5-1.5-2.5 1.5-1.5-0.5-4.5-1-0.5-4.5 3.5-2-1.5-1-3-1.5-1-3 0.5-6-5-2 1-2.5 3-0.5 1.5 0.5 3-1.5 2-7.5-0.5-4.5 2-2.5-2-2-0.5-3 1-1.5 0-3-1-4.5 1-3 0-1.5-1.5-1.5-5.5-1.5 0-3 0.5-3-0.5-1.5 2 0 0.5 3 0.5 1 2 3 3-1 3-1.5 0.5-1.5-1-3-5.5-3-2.5-3-0.5-4.5 2.5-3 1-1.5 0-3-1.5-12 9-6-1.5-1.5 0-2 1-2.5 3-9-2-7.5 4-3 0-4.5 2-6 0-1.5 0-4 5-3.5 1-3 0-6 3.5-1.5 0-1.5-1-3-0.5 0 4.5-1.5 1.5-1.5-0.5-4.5-2-6 0-1 1 0 4.5-3 6 0 6-5 2.5-4.5-1-1-1.5-0.5-1.5 3.5-3 0.5-1.5-1-1.5-3-1-3-4-1.5-0.5-1.5 1 0 4.5-1.5 1.5-7.5-1-4.5 2.5-1.5 0-3-1.5-1.5-5-1.5-0.5-2.5 1-1.5 1.5 2.5 3-1 1.5-3.5 2-2-0.5-1-4-1.5-1.5-4.5-1.5-3.5 8.5-4 1.5-1 1.5-1 4.5-5.5 2.5zM812 539.5l-1.5 2 0 1.5 1.5 1.5 1.5 0 1-1.5-0.5-1.5zM1053.5 510.5l-1 1 0.5 1.5 2 0.5 1-0.5 0.5-1.5-1.5-1.5zM1062.5 505l0 0.5 0 1 1.5 0.5 4.5-1.5 1.5 1.5 1-1.5-1-1-3 0-1.5-0.5zM1112 494.5l-3.5 3.5 2 2.5 4.5-4-0.5-1.5zM1254.5 476l-1 2.5 0 1.5 1 1 2-2.5-0.5-1.5zM1355 477.5l-0.5 1 0.5 3 0 0.5 1.5 0.5 1.5-1 0-1.5zM1362.5 476.5l-1 2 0.5 1.5 2 1 1.5 0 1-1-0.5-1.5-2-2zM1367 488.5l-1 0.5-1 1.5 2 1.5 1.5-0.5 1.5-1-0.5-1.5zM1376 485.5l-1 2 0 1.5 1 0.5 1.5 0 3-2 0-1.5-1.5-1-1.5-0.5zM1410.5 451.5l-1.5 1.5 1.5 0.5 1-0.5 0.5-1.5zM1355 491.5l-4 3.5 1.5 4.5 0.5 3 0.5 1 1.5 0.5 7.5-4.5 1-1.5-2.5-3-1-3zM1406 474l1.5-1.5 1.5 0.5 1 1 0.5 1.5-1.5 1-1.5 0.5-1-1.5zM1410 496.5l0.5-1 3 0 2 1 0.5 1.5-1 0.5-4.5 0-0.5-0.5zM1270.5 510l0.5-0.5 2.5 2-0.5 1.5-3.5-1.5zM980 520.5l0-0.5 2 0.5 1.5 1.5-0.5 1.5-1.5 0z"/>
<path fill="#d56e6c" d="M791 178.5l640.5 0 0 234.5-2 1-4 3.5-4.5 8-1.5 1.5-6 0-1.5 0.5-1.5 1.5-2 6 0.5 4.5-1.5 5.5-2 0.5 0.5 1 1.5-1 1.5 3-2 3 0 4.5-1 1.5-4.5 4.5-1 1.5 0.5 1.5-5.5 4.5-2.5 4.5-3.5 1.5-1.5-1-2-3.5-6-4.5-1-3.5-1-1-2 0-3.5 6 1.5 4.5-1 1-1.5 0.5-2.5 0-0.5-1.5 0-1.5-1.5-1.5-9 4-9 2-1.5 1.5 4.5 3 0.5 3-1 1.5-2.5 0.5-1.5-0.5-1-1.5-0.5-3-1.5-1.5-3 0.5-0.5 1 2 4.5-4.5 2-0.5 2.5 0.5 3.5 3.5 2.5 0.5 3-1 1.5-3 1-2-1-1.5-3-2.5-1-4.5 2.5-1.5 2-1.5-0.5-0.5-3 1.5-1.5 2-4 3-2-1.5-2-1.5 0-1.5 1.5-3 0.5-1.5-1-3-4-12-1.5-4.5 4.5-6 0-1-1 1-1.5 0-3-1.5-2.5-1.5-0.5-1.5 0-3.5 1.5-5.5 10-1.5-0.5-1.5-1.5-1.5-3.5-6 3.5-1.5 4-1.5 0.5-1.5 0-1.5-2-1.5-9.5-1.5-1-3 0.5-1.5-0.5-0.5-4.5-2.5-2.5-1.5-0.5-1.5 1.5-3.5 7.5 2 3.5 2.5 1-2.5 1-1.5 2 1 3 4.5 6 1 3-2 1-3-1-3 1.5-1.5-0.5-2-2.5-2.5-5-1.5-1-3-0.5-3-2.5-2 0 1-1.5 1-1 1.5-1.5 2-3.5 0.5-1.5-1-1.5-5-4.5-2.5-3-3 0-1.5-1-0.5-2 1.5-3-1-2-1.5-1-6-0.5-9.5-2.5-0.5-1.5 0.5-3-1-0.5-3 0.5-3 2.5-3 0-1.5-1-0.5-3-1-0.5-7.5 3-6 5-3 0-3-1-4.5-5-1.5 1-1.5 2-2 1.5-1 1.5 1.5 3-0.5 3 0.5 3-1 1.5 0 1.5 1 4.5-1.5 1.5-1.5 0 0 0.5 1.5-0.5 0.5 1.5 2.5 1.5 0.5 1.5 0 1.5-2 1.5-1.5 0-3-1.5-4.5-1-3-2.5-2 0.5-0.5 1.5 3 3-0.5 3-1.5 1.5-6-0.5-1.5 0.5-3.5 6-0.5 3 1 3-4.5 2-1.5 0.5-0.5-1 0-3-1-3.5-1.5 0-3 2-3 5.5-1.5 0.5-1.5-0.5-0.5-1 0.5-3 0-1.5-5-3-0.5-4.5-1.5-3 0-1.5 1-1.5 3-3-0.5-1.5-4-4-1.5-0.5-2.5 3-2 1-1.5-0.5-1.5-2-1.5-1-3 1.5-4.5 5-1.5 3-3 2-1 1.5 1 1.5-0.5 1.5-1 0.5-3 0-3-2-1.5 0-3 2.5-3 0-3 1-3 3-1.5-0.5-7.5-7.5-1.5-1-1.5 0.5-2 2 0 1.5-1 0.5-3.5 2.5-3 6-2.5 2.5-4.5 0-3-1.5-4.5 0-1.5-1-1.5-3-1.5-0.5-1.5 2.5-1 1-2 0-1.5-0.5-3-4-1.5 0-9 4-1.5 0-3-2-1.5 1-2 3 0 1.5 1.5 3-2 1.5-3.5-1.5-3-3.5-1.5-0.5-3 1.5-4 1-2 1.5-1.5 0-0.5-3-4.5-4.5-1-2-1.5-1.5-3-1-3 2-3 0-1.5 1-1.5 2-4.5-2-4.5 2-3-1-1.5 0-1.5 2-2.5 7.5-5 3.5-3 1.5-1.5 0-4.5-0.5-9 1-3-1-6 1-1.5 1-3 3-16.5 3-2 1-2.5 3.5-7.5 2.5-1.5-0.5-2-2.5-2.5-1.5-4.5-1.5-1.5 0-3.5 6-2.5 1.5-1.5-1.5-1.5-3-1.5 0-2.5 4.5-2 2-1.5 0-3-2.5-4.5-1-1.5 1-1.5 3-1.5 1.5-9 4.5-1.5 0-2-1-1-4.5-1.5-3.5-1.5-1.5-1.5 0.5-1.5 1-1.5 3-3 0.5-1.5 1-1.5 3.5-1.5 0-1.5-1-3-4-7.5 2-2.5 1.5-0.5 4.5-1.5 1.5-2.5-1.5-1-1.5 0.5-1.5 2.5-1.5 0.5-1.5-0.5-3-4 0.5-4.5-2.5zM1071.5 490l-0.5 0.5 0.5 3 1.5 0.5 1.5-0.5 3-2.5 3 0 0.5-0.5-2-1.5-3 1zM1130 478.5l-2 3 0.5 1.5 1.5 0.5 4.5-2 1-1.5-1-2.5-1.5 0zM1136 472l-0.5 2 0.5 1.5 1.5 0 1.5-1 0.5-2-2-1.5zM1155.5 466l0.5 2 1 0.5 1.5-0.5 0-1.5zM1178 452.5l0.5 2 1 0.5 1.5-0.5 0-1.5-1.5-1.5zM1190 449.5l-1 0.5 0.5 1.5 2 0.5 1.5-2-1.5-1zM1200.5 452l-1 1 2.5 0.5 1-0.5zM1241 475l0 2 1.5 1 1.5 0 0.5-1-0.5-2-1.5-1zM1269.5 484.5l-1.5 1.5 1.5 0.5 1-0.5zM1283 476.5l-1 0.5-1 1.5 2 0.5 1.5-0.5-0.5-1.5zM1128.5 493l-0.5 2 0.5 1.5 1.5 1 1.5 0 1-1-1-1.5-1.5-1.5zM1137.5 481l-0.5 0.5 0.5 3-1.5 3-1 3 1 5 1.5 0.5 1.5-1 0.5-1.5-1-3 1-4.5 1.5-3-0.5-1.5-1.5-1zM1228.5 475.5l0.5-1 1.5 1 3 4.5 0 3-1.5 1.5-7.5-1.5 0.5-1.5 2.5-1.5zM1380.5 475.5l3-0.5 2 2 1.5 4.5-0.5 2-1.5 1-1.5-1-1.5-4.5-3-2zM1104.5 487.5l1.5-1 1.5 1 0 6-3 1.5-1.5-0.5-0.5-1 0-3zM1162 489l1-0.5 1.5 1.5 0.5 2-0.5 0.5-1.5-1.5zM1290 490.5l2-0.5 0.5 0.5-2 2zM1298 490.5l1.5-0.5 1.5 0.5 1 1.5-1 1.5-1.5 0.5-1.5-1-0.5-1zM1307 490.5l1.5 0 1 1.5-1 2-1.5 0-1.5-2zM1381.5 493.5l0.5-1 1.5 0 2 2.5-0.5 2-1.5 1.5-1.5-1-0.5-1zM1146.5 502.5l1.5-0.5 2 0.5 2.5 1.5-3 0.5-4.5-0.5zM850.5 538.5l2-0.5 1.5 2-1 1.5-2 1-1.5-0.5 0-0.5 0-1.5zM826.5 540l1 0-0.5 3zM791 549l0-1 4.5 3 1 1-1 2-1.5 0-3-2.5z"/>
<path fill="#e87b59" d="M791 178.5l611.5 0 0.5 1.5 1.5 0 1.5-1.5 25.5 0 0 231-3 1-2.5 2-1.5 3-3 3-0.5 3-1.5 2-1.5 0.5-4.5 0.5-6 3-2.5 6 0 1.5 2 3 0 1.5-1 1.5-5 4.5-0.5 1.5 1.5 3 2 3 0.5 1.5-1.5 2-3 1-0.5-3-1-1.5-3-0.5-1.5 0.5-2 3-2.5 7-2.5 3.5-2 0.5-1.5-0.5-1-1.5 0-1.5 2-6 0-1.5-2.5-3.5-1.5-0.5-1.5 5.5-1.5 1.5-4.5 2-4.5 1.5-1 1-1 3-2.5 1.5-6 2-6 3.5-9-3-2.5 0.5-2 1.5-1 9-2 2-1.5 0-0.5-3.5-1-1-6-1.5-6-2.5-3 0-2.5 2 0.5 3-0.5 1.5-3 0-2-1-1-0.5 0-1.5 1-2 3-1 0-1.5-1.5-3-1.5 0-6.5 3-0.5 1.5 2 3 0.5 1.5-3 3.5-1.5 1-1.5-1-3-6-5.5-2-2-1.5-1.5-0.5-6 1-4.5 0-3 1.5-2 2.5-2.5 0.5-3.5-2-0.5-1.5 4.5-4.5 0.5-3-1-1.5-4.5 0.5-3 2.5-1.5 0-3-2.5-1.5 0.5-1.5 2-3 1.5-1.5 1.5 0 3-1.5 2-1-3.5-5-3-1.5 0.5-3 2.5-1.5 0-3-5.5-3 0-0.5-0.5 1-1.5 0-1.5-2-1-2.5-2-2-5-3-1.5-3-2-6 0-6-1-12-6.5-4.5 0.5-4.5 0-4.5 2.5-3 0.5-3 1.5-3 0.5-1.5 0.5-3 3.5-3 0-3 1-3-0.5-1.5 1-1 5-6.5 3-1.5 4.5-2 1.5 0.5 1.5 3 0 1.5 3-4.5 5-1.5 0-1-0.5-1.5-4.5 1-4.5-3-2-3 0-3 1.5-3 4.5-4.5 3-1.5 0.5-1.5-2.5-3 1-4.5-2.5-6 0-10 4-0.5 3.5-3 4.5-1.5 1-4.5-1-1.5-0.5-1.5-2-1.5 0.5-3 3.5-4.5-2-4.5 1.5-4.5-1.5-3 1-4.5-0.5-3 3.5-4.5 2-3.5 0-4-2 0 2 1 6 1.5 3 0 1.5-1 0.5-3-0.5-3-5.5-3-4.5-1.5-1-1.5 0.5-1 3-2 1.5-3-0.5-4.5 1-6 0.5-3-1-3-2-1.5 0-7.5 7.5-1.5-0.5-4.5-5-3-0.5-2.5 0.5-1.5 3-2 1.5-2.5 0-3.5-2.5-1.5-5-1.5-2.5-1.5-0.5-3 0.5-3-0.5-1.5 2.5-1.5 0.5-6-0.5-4.5-2.5-1.5 1-0.5 2 1.5 4.5-1 1-3 0-4.5-3-1.5 0.5-1.5 1-4.5 0-2.5 2 0 1.5 1 1 4.5 2 2.5 3-1 3-2.5 3-2 0.5-4.5-0.5-6 1.5-3-1-3 0.5-4.5-1-1.5 0.5-4.5 1.5-6 4.5-6-0.5-6 2.5-4.5-1-4.5 5-4.5 1-7.5-3-7.5-6.5-7.5-2-1.5 1.5-3 6.5-3 2.5-1.5 1-4.5 0-4.5 1.5-3 4-4.5 2-1.5 2.5-1.5-0.5-1.5-2-1.5-3-0.5-4.5-1-1.5-1.5-0.5-4.5 6.5-1.5 1.5-1.5 0-1.5-0.5-4.5-3.5-3 1-4.5-0.5-4.5 4.5-1-2.5-2-1-3 1.5-1.5 0.5-4.5-1.5 0-15.5 1-0.5-1-1.5zM816.5 520.5l-1.5 0-1 1.5 0 1.5 1 1 4.5-0.5 3 0.5 2-1 0.5-1.5-1-1zM930.5 508.5l-1.5 1.5 0 1.5 1.5 1 1.5-2.5zM972.5 484l-1.5 2 1.5 0.5 1.5-0.5 0.5-1.5zM981.5 479.5l-0.5 0.5 0.5 1 2-1zM1088 480l0 2.5 1.5 0 1.5-1-1.5-1.5zM1275.5 466.5l-0.5 1.5 0.5 1.5 1.5 1.5 1.5-0.5 1.5-3-1.5-1.5zM1322 480l1.5-1 1.5 0 1.5 1 2 3-0.5 1.5-3 2-1.5 0-2-3.5zM1127 487.5l1.5-0.5 3 0.5 0 1.5-1.5 0.5-3-0.5zM1142 487.5l3 0 0.5 1.5-2 1.5-1.5 0.5-0.5-2z"/>
<path fill="#f58c46" d="M791 178.5l599.5 0 0.5 1.5 3 1 2.5-1 1-1.5 2.5 0 1 3 2 1 4.5-1 1.5-3 22.5 0 0 215-3 2.5 0 3.5-3 2.5 0 1.5 3-1.5 1.5 3-1.5 2-5 4-2.5 4.5-4 3-2 3-4.5 2.5-4.5-0.5-1.5 1-0.5 1.5 0 4.5-1.5 4.5 1.5 3-0.5 1.5-3.5 2-4.5 1.5-1 2.5-0.5 4.5-1.5 1.5-3 1-3 0.5-4.5-3.5-1.5-0.5-2 2.5-1 4.5-1 1.5-5 2-6-0.5-1.5 1-1 2-0.5 3-1.5 1.5-3 0-3-3.5-1.5-0.5-3 4-4.5-1.5-4.5 1-3-0.5-0.5 1 0.5 1.5-0.5 1.5-4 2-2 4-7-1.5-3-3-3 1-1.5-0.5-3-3-1.5-0.5-6 1.5-4.5-0.5-4.5 3.5-1.5 1-1.5 0-2.5-4-1-3-1-1.5-1.5-0.5-1.5 0.5 1 3-0.5 1.5-3.5 0.5-3 1.5 0-0.5 1.5-1.5 0-1.5-1.5-3-9-3-3 0.5-3 1-1.5 0-3-1.5-1.5 0.5-3 1.5-4.5 1.5-6-1-1.5 0.5-1.5 3-6 2-0.5-2-4-6-4.5-1 0-0.5-2.5-4.5 0-6-2-1.5-3 0-12 2.5-10.5-4-4.5-2.5-7.5 0-3 0.5-9 4-4.5 1-3 2-3 0-8 2.5-1.5 1.5-1 4.5-6 2-4.5 4-4.5-0.5-7.5 3-6 1.5-1.5-0.5-4-3.5-2-0.5-1.5 0.5-3 4.5-9 3.5-4.5 0-6 5-3-1-4.5-2.5-2 1-2.5 4-6-1-6 1.5-3 2.5-1.5 0.5-6-2-1.5 0-3 3-2.5-2.5-2 0-7.5 7.5-6-1.5-4.5 0.5-2-2-1-2.5-0.5 1-1 3-1.5 0.5-4.5-1.5-1.5 1 0 2 3.5 2.5-2 1-10.5-8-1.5 1-0.5 1.5-1 5.5-1 2-2 1-7.5-4.5-3 0.5-1.5-0.5-4.5-3.5-4.5 2-1.5-2.5 0-3 1.5-1 4.5 1 2 0-0.5-1.5-4.5-6-3-2.5-4.5-0.5-3 0.5-4.5-1-1.5 2 1.5 4.5-3 3-1.5 2.5-1.5 0-4.5-1.5-3 0.5-1 1.5-0.5 3-3 1.5-6 1-4.5-1.5-2 0.5-1.5 3-2.5 3 5 6-0.5 1.5-3 1.5-1.5 0-6-3.5-3 0-3-3-1.5 0-0.5 0.5 0 1.5 3.5 1.5 0.5 1.5-0.5 5-1.5 0-3-2.5-1.5 0.5-1.5 2.5-3-1-1.5 1-1.5 3.5-10.5-0.5-1.5 4.5-1.5 1-1.5 0-4.5-2.5-3-0.5-0.5 1 1 4.5-2 0.5-1.5 0-7.5-1.5-3-2-2-3 1-3-0.5-0.5-1.5-0.5-6 1.5-4.5-1.5-1.5 0-1.5 1-2 6-2.5 2-1.5 0.5-1.5 0-3-4-3 2.5-2.5 0.5 1 1.5-0.5 1.5-3.5 3-2 3-1.5-3-4.5-2-3-3-6-3.5-4.5 0.5-6 0-4 5-5 3-1.5 1-3 0-4.5 2-1.5-0.5-2-1-0.5-1.5 2-4.5-1.5-4.5 2.5-3-0.5-1.5-3-2zM839 516l1.5 2.5 3 1.5 0-1-1.5-3-1.5-1zM953 482l-0.5 1 0.5 2 1.5-0.5 0.5-1.5zM999.5 469.5l-1 1.5 1 1 2-1zM1131.5 459.5l-3 2.5-0.5 1.5 2 2 3-1 2.5-2.5 0-1.5-1-1-1.5-0.5zM1247 424l0.5 3.5 1 2 1.5 0.5 0.5-4-2-2zM1259 433.5l1.5 1 1.5-1-1.5-1zM1280 413l-0.5 1 0.5 1.5 3 3.5 1.5-0.5 1.5-4.5-1.5-1.5zM1337 394l-0.5 2 0.5 1 1.5-0.5 0.5-0.5-0.5-1zM1422.5 197.5l0.5 2 1 0 1.5 0 1-1.5-2.5-1zM1250 430.5l-0.5 1.5 0.5 1.5 3 1.5 2 0zM1349.5 468l1-1.5 1.5 1 1.5 2-1 1.5-2 0-1.5-1.5z"/>
<path fill="#faa03c" d="M791 178.5l174.5 0 0.5 1.5 0.5 0.5 3-0.5 2-1.5 351.5 0 2 4 1.5-0.5 3.5-3.5 40.5 0 1 3-1.5 3 1.5 0.5 3-0.5-0.5-1.5 3.5-4.5 2 0 4 2 3 3.5 1.5 0 1.5-1.5 4.5 1 3-1.5 1.5 0 3 2.5 4.5 0 3 2.5 1.5 0 1-1-1-3 0.5-4.5 20.5 0 0 17-7.5-0.5-3 1-2 2 1 1.5 2.5 2 3 0 4.5-1 1.5 1 0 1.5-1.5 2.5 0.5 1.5 1 1 0 154.5-2.5 2 0 3 0.5 1.5 2 0.5 0 7-1 1.5-1 3 0.5 1.5 1.5 0.5 0 8-3 1-3 2-4.5 11-6 4.5-0.5 1.5 0.5 1.5 1.5 0.5 1 1-4 1.5-1 1.5-0.5 3-1.5 1-6 1-4.5 4 0 1.5 2 3 0 1.5-2 3-1.5 1-1.5 0-6-3-2 0.5-10 8.5-1.5 0.5-1.5-3-6-3 1.5-3-0.5-1.5-2.5-1-2.5 1-1.5 1.5 0 1.5 2 3 0 3 2 3-0.5 3 0.5 2.5 1.5 0.5 1.5-0.5 3-4 2 0 1 1.5-2.5 9-1.5 1.5-2 0.5-4-2-3-3-3.5-1-2.5 4-9.5 7-1.5 0-6-4-1.5 0-1.5 1.5-4.5 1.5-6 3-3 0.5-1-0.5-0.5-1.5 2.5-3-2.5-1-3-2-6 4.5-2 3-4 1-1.5 0.5-4-1.5-3.5-3-2.5 6-2 0.5 0-2 0.5-3-2-1.5-4.5-0.5-4.5 1-1.5 0-1.5-3.5-1.5-1-4.5 1-1.5-0.5-3-3.5-3-1.5-3 1.5-3 0-3.5-2-1-4-6 2-4.5 5 1 1.5 2 1.5 6 0.5 1.5 1-0.5 1.5-1 0.5-6 0-4.5-1-1-1 0.5-3-2.5-1-1.5-2 0-3 1.5-3-1.5-0.5-4 0.5-3.5 1.5-3 0-1-1.5-0.5-2.5-1.5-0.5-9 1.5-6 2-3 0.5-9-3-7.5-5-3-0.5-15 6-9 2-7.5 3-4.5 0.5-6-5-3-1-2 2-1 3-1 1.5-5 2.5-3-0.5-4.5-3-1.5 1 0 1.5 4 1.5 0 1.5-4 3-3 3.5-1.5 0-9-3-3 0-1.5 1.5-1 4 3 3-1.5 1.5-2 0.5-3 0-1.5-1.5-1.5 0-4.5 3.5-3 0.5-0.5 0-0.5-3-2-2.5-3 1-3 3-6 2-4.5 4-3 1-4-1-2-3-1.5-1-1 2.5 0 1.5 2 1.5-1 0.5-1.5-0.5-0.5-1.5-3-1.5-1-1.5 1-3-2-1.5-1.5 0-1 1.5 1.5 3-0.5 1.5-2 1.5-4.5-1-1.5 0-0.5 4-1 1.5-1.5 0-1 1.5 0 1.5-0.5 1.5-1.5 0.5-4.5-1.5-3 0-1.5-4-1.5-1-1 0-2 0-1.5 1-1.5 2.5-1.5 0-1.5-3-1.5-1-1.5 0.5-1 1.5 0.5 1.5-1 2-1.5 0.5-4.5-4-3 0.5-0.5 1 0 3-1 2-1.5 1.5-3 1.5-0.5-0.5 0-4.5-2.5-5.5-4.5 2-2-1-7-7.5 0.5-3-3.5-3-3-7-1-2-2-1-3 1 0-1.5 1.5-1.5 0-1.5-1-1.5-2-1.5-3-1-1 1 0 3-1.5 3 0 1.5 1 1 3 0.5 1 1.5 1 3 4.5 3 1 1.5-0.5 1.5-1 0.5-1.5 0.5-3-2-1.5 1-3.5 3-1 3-1.5 0.5-3 0.5-3 1.5-1.5-0.5-3-2-2-3 0-1.5 1-1.5-0.5-2-4.5-1.5-3.5-2.5-0.5-1.5 1-3-0.5-1.5-2.5-3.5-1.5-1-3 1.5-2.5 3 1.5 3 0 4.5 1 2.5 1.5 1 4.5 0 3 1 1.5 1.5-3 0.5-1.5 1.5-1 4 4 1.5 1.5 1 2 6.5-3.5 1.5-6-1.5-1.5 0.5-4.5 5-1.5 0.5-3-2-1.5 0.5-3 3.5-4.5 1-6 3-2 0-2.5-3.5-1.5 0-2.5 0.5-0.5 1.5 1 1.5 4 3 0.5 1.5 0 3-1 1-1.5 1-6 0.5-4.5-1-1.5 1.5 1.5 3 0.5 1.5-2 1-3-2.5-3.5-1.5-1-1.5 2-4.5 0-1.5-2-0.5-3.5 2-5.5 8.5-3-4.5-6-2.5-3 2.5-1.5 0.5-4.5-2-6 1-0.5 1-1 2.5-3-2-3 0-3 4-1.5 0-3-5-1.5-1-4.5 2-1.5-1-1-2.5 0-1.5 1-1.5-1.5-0.5-2 5 1 1.5 2.5 1.5 1 1.5 0 3 2.5 3 0 1.5-3.5 0.5-1.5-3.5-4.5-2-3-3-4.5 0-2.5 2-2 0-2.5-1.5-2-2-1.5 0-2 2-5 9-2 1-1.5-0.5 0-2-1-1.5-2.5-1.5-1-1.5 1.5-3-0.5-1.5-5.5-3.5 0-13 2.5-1.5 0-1.5-2.5-1zM810.5 505l-1.5 2 1.5 2.5 1.5 0 1.5-2.5-0.5-1.5-1-0.5zM923 446.5l-0.5 2 0.5 1.5 3 1.5 3 4.5 1.5 0.5 1.5-0.5 3.5-1.5 0.5-1.5-1-2-4-1-2-2.5-1.5-0.5zM950 457l-1 0.5-0.5 1.5 0 1.5 0.5 1.5 5.5 2.5 1.5 0 0.5-2.5-2-3zM963.5 451.5l-1.5 0-0.5 1.5 0 1.5 0.5 1 1.5 0 1.5-2.5zM989 459.5l-0.5 1 0 1.5 0.5 1 1.5 0 1-1 0-1.5-1-1zM996.5 465.5l-1.5 5.5 5.5 4.5 0.5 3.5 1.5 0.5 1.5-1 1.5-3 6.5-3-0.5-4.5-1.5-2-1.5 0.5-1.5 2-1.5 1-3-3zM1013 475.5l-1.5 2.5 0 2 1.5 2 1.5 0 2-0.5-0.5-3-1.5-3zM1046 456.5l-0.5 1 0 1.5 6.5 4 1.5 0.5 3-3-0.5-1.5-5.5 0zM1055 452.5l-0.5 0.5 0.5 1.5 1.5 1 1.5 0 1.5-0.5 1.5-2-1.5-1.5zM1064 461.5l0 2 0 0.5 1.5-0.5 0-2zM1083.5 460l0 3 1.5 2 2-1.5 0-1.5-2-2zM1092.5 461l-1.5 2.5 0 1.5 1.5 1 3-2.5 0-1.5-1.5-1zM1113.5 452.5l-3 1.5-2.5 3.5 4-0.5 3-1 1.5-1.5-1.5-2zM1233.5 439l-1.5 2 1.5 1.5 2-1.5zM1253 408.5l-3 3-4.5-0.5-2 1.5 0 3 1 3 0 3-2 3.5-3 0-1.5 1 1.5 2 3.5 1 0.5 1.5-1 1.5 0.5 1.5 2.5 0.5 7.5 4 1.5 0.5 9-1.5 2.5-2 0.5-1.5-3-3.5-4.5-4-1-3-0.5-3-1.5-2.5-3.5 4-2.5 0-1.5-1.5 0-1.5 1.5-2 1.5-1 4.5-0.5 1-1 0.5-1.5-1-3-2-1zM1271 407.5l-1.5 2 0 1.5 1.5 1.5 3.5 1.5 2.5 6-2 4.5 0.5 6-3 1.5-3-0.5-2.5 2 3 1.5 2.5 4.5 7.5-1 6 0 4.5 5.5 1.5 1 3-1 2-3 0.5-3 2-3-0.5-1.5-1-0.5-4.5 0.5 0-3-1.5-2-2-1-0.5-1.5 1-1 4.5-0.5 3-1.5 2-1.5 0-3 2.5-2.5 1.5 0.5 1.5 1.5 2 0.5-0.5-5-1.5-0.5-3 0.5-3-1-1.5 1-1.5 2.5-1.5 1-2-1.5-2-4.5-2-1-12 0.5-1.5 0-3-3zM1308.5 419l-0.5 1 0.5 1 1.5 0.5 0.5-1.5zM1314.5 409l-2 2 0.5 1 1.5 0.5 2.5-1.5 0-1.5zM1322 380.5l-0.5 2 3.5 3.5 1.5 0.5 2-1-5-5.5zM1328 366.5l-1.5 1 0 1.5 1.5 3 0 5.5 4.5 6 5.5-4 0.5-1.5-0.5-4.5 1-3-2-1-3 2.5-1.5 0.5-1.5-2-1.5-3.5zM1350.5 374.5l-0.5 2 0.5 1.5 4 1.5 0.5 5 1.5 1 1.5-0.5 1.5-2.5-1-4.5-5.5-3zM1359.5 395.5l-0.5 0.5 2 0.5 2.5-0.5-1-1zM1382 406l-3.5 5-1.5 3 0.5 1.5 1.5 1 7-4 0.5-4.5-3-2.5zM1386.5 197.5l-1.5 3.5 1.5 0.5 1-0.5 1-3zM1394 188l-1 1 0 3-0.5 3 0 1.5 1.5 1.5 1.5-1.5 0.5-1.5 4.5-3-1-1.5zM1406 348l-1 1.5 1 4.5-5 4.5-0.5 1.5 2.5 4.5 3 3 1-1.5-0.5-4.5 0.5-1.5 3.5-2.5 3.5-0.5 0.5-1.5-1-1.5-2.5-1.5-2-3-1.5-1.5zM1416.5 358.5l-1 1.5 0 3 2.5 2 3.5-0.5 0.5-1.5-1-1.5-3-2.5zM1425.5 211l-1 0.5 0 1.5 1 2 1.5-2 0-1.5zM1259 444.5l-0.5 1 0.5 2 4.5 0.5 1.5-1-1.5-2zM1268 441.5l0 1 3 1 2-1-2-1zM1275.5 451l-1.5 2 0 1 1.5 0.5 3-1.5-1.5-2zM1287.5 445.5l-1 1.5 0.5 1.5 2 2 1.5-0.5 0.5-1.5-0.5-1.5-1.5-1.5zM1298 456l-0.5 1.5 0.5 1.5 1-1.5zM1304 427l0 1.5 1.5 1 1-2-1-1.5zM1325 404.5l-2.5 3.5 0 3 1 2 1.5 0.5 4.5-0.5 2-2 0-1.5-2-4-1.5-1zM1334 392.5l-1 2 0.5 3-1.5 3 0.5 1.5 3-1.5 7.5-1.5 0-1.5-3-5.5-4.5-0.5zM1350.5 404.5l-2 2-0.5 1.5 2.5 2 1.5 0 1-0.5 0.5-1.5-1.5-2.5zM1352 399l-1 1.5 0 1.5 1 1 3-1 0.5-1.5-0.5-2.5zM1358 438.5l-1 2.5 0.5 1.5 0.5 0.5 1.5 0 3-3.5-1.5-1zM1365.5 377l-0.5 1 2 2.5 1.5 0 1-1-0.5-1.5-2-1zM1416.5 377l-1 1-0.5 1.5 1.5 1 2-1-0.5-2zM1325 439l-3 2.5-3 1-1.5 4-1.5 1-1.5 0-0.5 1-1 1.5 0 2 2.5-0.5 2-2.5 3 0 2-0.5 1-1.5 0-3 3-2 1-1-1-2zM1338.5 427l-1 2 1 1.5 6 1.5 1.5 3 1.5 1 4.5-2.5-4-4.5-0.5-1.5-1.5-1-4.5-0.5zM1365.5 387l-0.5 1.5 2 2 1.5-2-0.5-1.5-1-1zM1418 395.5l-0.5 2 0.5 0 1 0 0-1.5zM1347.5 451l-0.5 0.5 0.5 0.5 3-0.5-1.5-0.5zM1367 393l0 1.5 4.5 3.5 1.5 0 1.5 1 1 1.5 0 3 0.5 1.5 1.5 0 3-1.5 0-1.5-2.5-1.5-2.5-3-2.5-0.5-4.5-5zM1282 426l1-1 1.5 0.5 0 2-1.5 0zM1390.5 442.5l0.5-0.5 1 0.5 0 1.5-1 4.5-1.5 1.5-3 0-1.5-1.5-0.5-1.5zM1145 454.5l1.5-0.5 1.5 1 1.5 2.5-0.5 1.5-4 3.5-1.5 1-1.5 0-1.5-1.5 0.5-1.5 1.5-4.5z"/>
<path fill="#fab83f" d="M791 178.5l6 0 0 0.5 1.5 0.5 1.5-1 18.5 0 1 1.5 1.5 0 3.5 0 2-1.5 6 0 0.5 2 1.5 0 3-1.5 4.5 2 1.5-2.5 9.5 0 1 0.5 3.5-0.5 42.5 0 0.5 3 3 3 6-4.5 0.5-1.5 54 0-0.5 3 1.5 1 4.5 0 3 1.5 2-1 0-4.5 305.5 0 1.5 2.5 1.5 0.5 4.5-0.5 1.5-1 0.5-1.5 15.5 0 0.5 3.5 1.5 1.5 1.5 0.5 6 0 4.5-3.5 1.5 2.5-1 4.5 0.5 1.5 0.5 0.5 1.5-0.5 3-2.5 1.5-0.5 1.5 1 1.5-0.5 1.5-2 1.5-0.5 2 3.5 1 1 3 0 4.5-3 6-2.5-0.5-4.5 5 0 1.5 1.5 6 1.5 3-1 3-1.5 1 1 0 1.5-4 5.5-7.5 2-1 1.5 1.5 4.5-2.5 4.5 0.5 1.5 7.5 5 3 3 4.5 2 3.5 0.5 1 2.5 0.5-1-0.5-4.5-3-3-1-4.5-2.5-3 0-1.5 0.5-2 1.5 0.5 3.5 3 2.5 3.5 4.5 0 3 2.5 6 1.5 7.5-4 1.5-0.5 3 2 1.5-0.5 7-6 1-6 4-0.5 3-2 1.5 0.5 3 3.5-6 2.5-2.5 2-0.5 1.5 3 2.5 3.5 2 1 1.5-0.5 3 0.5 3-2.5 4.5-4.5 3-1 1.5 0 1.5 2 1.5 1.5 0 3-2 4.5 0.5 3-1.5 4.5 0 0 117.5-2-0.5-2.5-2-1.5-0.5-0.5 4-1.5 3-2.5 2.5-1.5 1-3-0.5-3-4.5-3 3-1.5 3.5-4.5 1.5-0.5 1-1 6-1 1.5-3.5 1.5-7.5 2-1 1-1 4.5 0.5 3-3 5-4.5 5.5-1.5 1-3-0.5-1.5-3.5 0.5-1.5 4-2 6-5.5-1-7.5-2-1.5-1.5 0-1.5 2-1 4 0 4.5-5 6-3 2-1.5 0-6-3.5 1.5-3 0.5-1.5-3.5-4-1.5-1-3 0-5.5 2-1.5 3 0 1.5 1.5 1.5-0.5 1-1.5-1-3-6.5 0-2.5 1-6-1-1.5-3 0.5-3 0-3 1.5-3-0.5-3 0.5-2 2.5-1 3.5-4.5 1-1.5 1.5-0.5 6 2 3-3 3-3.5 6-0.5 1.5 4 3 1.5 2 3.5 1 0.5 1.5-1 3 2.5 4.5-1 1-3 0.5-3-1-6 4-3 3.5-5.5 1-5 2.5-2.5-1 0-3-2-1.5-1.5 1-1.5 2.5-1.5 0.5-4.5-1-4.5 1-7.5-0.5-4.5-3-1.5 0-3 2.5-1 1.5 0.5 3 0.5 1 3.5 2 1 1.5 0 3-1.5 3.5-1.5 1-1.5-2.5-3-1-2.5-2.5-0.5-1.5 0.5-3-0.5-3.5-6-3.5-3 0-4.5 3-4.5-0.5-4.5 0.5-1 1 0 1.5 1 3 0 1.5-4.5 3 1.5 3-0.5 4.5 2 3 0 4 1.5 2-1.5 1-3-0.5-3-2.5-1.5 0-2 3.5-2.5 1-4.5 5-9 3.5-3-0.5-3-2-6-0.5-9-6.5-3 0.5-4.5 4-4.5 1-6 2.5-9 1-4.5 3.5-6-0.5-9-6.5-1.5 0.5-4 3 0 3-3.5 2.5-3 0-4.5-3-1.5-0.5-4.5 4.5-1.5-0.5-1-1.5-2-4-1.5-0.5-3 3-4.5 1.5-1.5 1.5-3 1.5-3 4-1.5 1-4.5-1.5-3-3-4.5 1-3-2-4.5 4-3 0.5 0 0.5 1.5 0.5 2.5 4 0 4.5-1 2-3 2.5-4.5 4.5-1.5 0.5-1-0.5-1-1.5 0-1.5 2-3 0-2-1.5 0-3 2.5-3-1.5-4.5 0-5-2 0-1.5 1.5-1.5 3.5-2.5 4.5 5 3-1 2-1.5 0.5-3 0.5-1 2-0.5-2.5-4.5-0.5-1.5 1-3-1-1.5-3.5 1.5-3-2.5-3 0-9 1.5-6 3-3 4.5-6 3-3-2-2.5 1.5 0.5 1.5 2 1 1.5 2 3 2 4.5 0 3-4.5 2 1 0 1.5-2 3-10.5 3.5-1 2.5 0.5 3-2.5 1-3 0.5-1.5 0-2-1.5 0-3-1-1.5-6 0-2.5-3 0-1.5 3-1.5 1-1.5-2-4.5-1-1-4.5-0.5-4.5-3-3 2-4.5-0.5-4.5 1-4.5-2-4.5-0.5-3-5-2.5 0.5 0.5 1.5-0.5 1.5-2 0.5-4.5-4.5-3-1-6-0.5-3-1-1.5 0-1.5 2 0 3-1.5 1.5-3 0-7.5-1.5-3-3-1.5 0-3 1-3-2.5-3-2-3-3.5-4.5 0.5-3-1-3 4.5-1 3 2.5 4.5 1.5 6 2 1.5 5.5 1.5 1 1.5 0.5 3.5 3 1.5 4 5.5-1 6 0.5 6-2 2-1.5 1-3-4-1.5 1-3 2-3 5.5-1.5 0.5-3-1-2.5 0.5-0.5 2.5-1.5 1-1.5-0.5-1.5-2.5-3-1-9 1.5-4.5-2-4.5 1-2.5 1.5 0 1.5 2.5 2 3-0.5 1.5 0.5 0.5 1-0.5 1.5-1.5 0.5-3-1.5-1.5 0-3 1.5-4.5 5.5-1.5-0.5-3.5-2.5-2-3-2-1.5-4.5-0.5-1.5 0.5-1 1.5 0 1.5 2 3-1 1.5-3-1.5-4.5 0.5-3-1-1.5 0-3 2-1.5 0.5-1-0.5-3.5-4-1.5-3.5-1-6-2-0.5-10.5 7-3 6.5-4.5 2.5-3 0-4-2-0.5-4.5-1.5-0.5-3-1-3 1-4 5 0.5 4.5-1.5 4.5-2.5 1.5-1.5-1.5 0-1.5 2-1.5-0.5-1.5-6-2.5-4.5-3.5 0-2 1.5-1-1.5-1.5 0-3.5 3 0.5 1.5 1.5 3 0.5 1.5-2 0.5-1.5-0.5-1.5-3.5-3-1-3-1.5-1-3-0.5 0-293 3 0 4.5 3.5 1 0 0.5-1.5-2.5-4.5-6.5-3zM800 183.5l-0.5 1 0.5 2 1.5-0.5zM812 195l-0.5 1.5 0.5 1 1.5-1zM837.5 207.5l-6.5 5.5 1.5 6 2 2.5 1.5 0 1-1 0.5-3 3.5-4.5 0.5-3-1-1.5-1.5-1zM845 186l0 1.5 1.5 0.5 2-2zM852.5 181l-1.5 0.5-1 1.5-1 1.5 0.5 1 3.5-1 0.5-1.5zM860 191.5l-1.5 2 0 1.5 1.5 1 1.5-1 1-1.5 0-1.5-1-0.5zM864.5 200l-0.5 1 0.5 2 1-0.5zM878 182.5l-3 3.5 0 1.5 0 0.5 1.5 0 2-2 0.5-1.5zM884 190l-2 2 0 1.5 0.5 0.5 1.5 0 1.5-2-0.5-1.5zM960.5 184.5l-1.5 1.5 0 2.5 1.5 2 3 1 1.5-1-1-3-2-3zM1001 451l-0.5 0.5 0 1.5 2 0 0.5-1.5zM1041.5 214.5l-1.5 0.5-1 1 1 1.5 1.5 0 2-1.5zM1055 218l-0.5 1 0.5 2.5 4.5-1-1.5-2-1.5-0.5zM1068.5 206l0 2.5 0.5 3-1 3 3.5 1 3-0.5 1-3.5-1-4.5-4.5-1.5zM1128.5 444l1.5 1.5 1-1.5-1-1zM1191.5 179l-0.5 1 0.5 1 3 2 1.5 0.5 1-0.5zM1202 189.5l-0.5 1-0.5 1.5 1 1.5 1.5-0.5 1-1-0.5-1.5zM1374.5 352l-1.5 1-1 2.5 0 1.5 1 0.5 2.5-0.5 2-1.5 0.5-1.5-0.5-2zM1380.5 340.5l-1.5 1.5-0.5 1.5 0.5 1.5 1.5 1.5 1.5 0 2-1.5 0-1.5-2-2.5zM833 493.5l-1.5 1 0 2 1.5 1 1.5 0 1-1 0-1.5zM845 199l-1.5 1 0 2.5 1.5 2 1.5 0.5 2-1 1-1.5-1-1.5zM851 496.5l-1.5 0.5-1.5 2.5 1 4.5 0.5 0.5 1.5 0 1.5-2 0-3.5zM860 500l-0.5 1 0 1.5 0.5 1.5 1.5 0 1.5-1.5-0.5-1.5-1-1zM1413.5 180l1.5-1.5 0.5 0 1 1.5 0 2-1.5 1-1.5-1zM1422 178.5l4.5 0 0 3 0.5 0.5 1.5 0 3-1.5 0 7-6-2.5-3-4.5zM1380 183l0.5-0.5 1.5 0.5 1 3-1 1-1.5-1zM1425 205.5l0.5-1 1.5 1-1.5 1zM1421 348l1.5 0 6 4 3 0.5 0 5-3 1.5-1.5-0.5-1.5-3-6-4 0-2zM1333.5 366l0.5-1.5 1.5 1.5-1.5 1zM1390 366l2.5-1 1.5 0.5 0.5 2-2 0.5-2.5-0.5zM1399 370.5l4-1 7.5 5.5-1.5 1.5-3 0.5-1 5.5 0 1.5 1.5 1.5 4 1.5 1 1.5 1.5 6 0 1.5-1 1-3-1 0 4.5 1.5 1 3-1 3 0.5 1.5 1 0 1.5-1.5 2-4.5 4-3 4.5-2 1.5-1 1.5 0 1.5-4.5 4-3 0.5-1.5-0.5-0.5-1 0-3 1-3-0.5-1.5-6-1-2-2 1.5-3 0-3-1-3 1-1.5 2.5-1.5 2.5-2.5 1.5-0.5 3 1.5 2-1.5-0.5-3-4.5 1-3-4-3-0.5-0.5-1 1-1.5 4-3 1.5 0 1.5 1.5 1.5 0.5 1-0.5-0.5-1.5-2-1.5-0.5-1.5 1-4.5-1-4.5zM1391 375l1.5 0 1.5 1.5 0 1.5-1.5 1.5-1.5-0.5-1-1 0-1.5zM1423.5 376.5l2 0 0.5 1.5-2 2-1.5-0.5 0-1.5zM1361.5 382.5l1-1.5 1 1.5-0.5 3-2 2-1-0.5zM1372 382.5l1-1 3 0 3 2.5 4.5-1.5 1.5 1.5 2 4.5-0.5 1.5-4.5 3-0.5 1.5 3 3 0 1.5-4 0.5-1.5-1.5-1-6.5-2-2.5-3-1.5-2-3.5zM1337 384l1.5-1 1.5 0 1 1 0 1.5-1.5 1.5-2.5 0.5-0.5-0.5zM1422.5 385.5l1.5-1 3 0.5 3 2-0.5 1.5-7 5.5-2-1-1-1.5zM1346.5 393l1-1.5 0.5 1.5-0.5 1zM1347 399l0.5-0.5 1 2-1 2-1.5 0.5-0.5-1 0.5-1.5zM1359 399l8-0.5 4.5 5.5 3.5 5.5 0 1.5-3 3-0.5 1.5 10.5 9.5 3.5 1 1.5 1.5 0 1.5-2 3-1.5 1-1-1-1-4.5-1-1-3 1-3 2.5-7.5-1-1.5 0.5-4.5 2-1.5 0-1-1 0-1.5 5.5-3 1.5-1.5-0.5-1.5-7-1-4.5 1.5-2-0.5-0.5-1.5 3-6 0.5-3 2.5-3 0-1.5-1.5-3zM1333.5 406.5l0.5-1 1.5 0 0.5 2.5-2 0zM1341 411l2-0.5 3.5 2 0 3-2 2.5-3-1-0.5-1.5zM1310.5 415.5l1-1.5 6 1 4.5 3 4.5 0.5 3 1.5 1.5 1.5-0.5 1.5-1 1-3 0-1 5 1 1 4.5-1.5 1.5 0 1.5 1 1 2.5-2 4.5 4 4.5 1 3 3.5 0.5 1.5 1 1.5-1 3-3 3 0 3 1.5 3 3.5 6-1.5 1.5 1.5 1 2-0.5 1.5-3.5-0.5-4.5 3-1-1-0.5-3.5-3-0.5-6 1-2.5-1.5-0.5-1.5-1 1.5-3.5 0.5-1.5 1-1.5 0.5-0.5-2 1.5-3-5-3-0.5-1.5 0-1.5-1-1.5-5 0-1-1.5-0.5-3.5-3-1-1.5-2.5-1.5-1-1.5 0-0.5-1 0.5-1.5 3-2.5 1-2-0.5-1.5-2-0.5-3 0.5-1.5-0.5zM1389.5 424.5l2 1.5 0.5 1.5-1 0.5-2-0.5-0.5-1.5zM1297.5 427.5l0.5-0.5 1.5 0 0.5 2-2 0zM1318 432l1-1 1.5 1.5 2 4-2 2-3 0-1.5-2 0-2.5zM1305.5 435l1.5-1 1.5 1.5 4.5 5 0.5 2-3.5 5-7.5-4.5-2.5 1 1.5 6 0 1.5-2 0-3-2-1-1 0-1.5 3.5-3 0.5-5 1.5-1.5 3-0.5zM1245.5 438l2 0 5 3 2 4.5 0 1.5-1.5 1-3 0.5-2.5-1.5-3.5-6 0-1.5zM1351.5 438l1 0 0.5 1.5-1 0.5-0.5-0.5zM1272.5 447l2 1.5-2 1.5-1.5 0-1-1.5 1-1.5zM1279.5 448.5l0.5-1 1.5 1 6 4 4.5 2 1 1.5-1 1-3 0.5-3 2-1.5 0-2-3.5-1.5-4.5zM1325.5 451.5l2.5-1 1.5 0 1 1 0 1.5-1.5 3-4 1-1-1 0-1.5zM1350.5 454.5l2 0 1 1.5-1 1.5-3.5 2.5-1.5 0-2-2.5 0.5-1.5zM1061 457.5l1.5-1 1.5 0 1 1-1.5 1.5-2.5 1-0.5-1zM958.5 459l0.5-1 1.5 0 2 1 0.5 1.5-1 1.5-1.5 0-1.5-1zM1101.5 462l1.5-1 2 1 0.5 1.5-1 1.5-7.5 4.5-1 0-0.5-1.5 0.5-1.5 2.5-3zM959 468l3-0.5 3 3 3 0.5-1.5 1-3 0.5-6 4.5-1-1.5 0.5-3 0-3zM996 475.5l1 0 0.5 1.5 0 1.5-0.5 1.5-2 1-0.5-1 0.5-3.5zM1037 478.5l1.5-1 2 1 0 1.5-2 1-1-1zM944 484.5l1.5-1 1 1 1 1.5-1 1.5-1 0.5-2-0.5-0.5-1.5z"/>
<path fill="#f6d54a" d="M791 178.5l2.5 0 0 3 2.5 3 0.5 3-1 1.5-1.5 0.5-3-1zM813 178.5l2.5 0 2.5 4 4.5-0.5 3.5 1-0.5 1.5-3 2.5-4.5-0.5-1.5 1 0 1.5 0 0.5 1.5 0.5 3-0.5 4.5 0.5 2.5 2-3.5 6-1 4.5 3 3-1 5-1.5 1-4.5-1-2.5 2.5-0.5 1.5 1 1.5 3.5 1.5 4.5-3 7.5 8.5 4.5 1.5 2-1-0.5-4.5 1-1.5 2.5-3 1-3 1.5-1.5 3-0.5-1.5 5 1.5 1 6-1.5 1.5-1 1.5-3-0.5-1.5-2.5-1.5-3 0 0-1.5 1-3 0-1.5-5-4.5 0-1.5 1-1.5 2-4.5 7-4 1.5-2 3.5-3 1-1.5 13 0-3 7.5-5.5 4-1.5 0.5-3-2.5-4.5 2-2 2-1 3 0.5 1.5 5 3 1.5 7.5 0.5 0.5 3-0.5 2.5-3 0.5-3-2-3 0-1.5 0.5-0.5 3 1.5 1.5-1 1.5-3.5 3-1 1.5 2 0.5 2.5-2 2-3 1-1 1.5 0 3 1 0.5 4.5-3 3-1.5 3 0 1.5 1 1.5 1.5-0.5 1.5-4 3 0 1.5 2 3-3 3 1 1.5 4.5 1.5 1.5 1.5 2.5-3 0-1.5-2.5-1.5-1-1.5 0-3 2.5-9.5 1.5 1 2-2-1.5-1.5 0-4.5-2-0.5-1-1-0.5-1.5 0-7.5 1.5-1 1.5 1 1.5 0 3-1.5 1.5 0.5 2 4 2.5 3 1.5 0.5 3 0 3 2 1.5 0.5 3-1 4.5 1.5 1.5 0 2.5-2 2.5-1.5 2.5-3 1.5-0.5 3 4 4 2.5 5 6.5 1.5 1 1.5 0 1.5-1.5 1-3-0.5-4.5-3.5 0-3-0.5-2-2.5 0-1.5 1-1.5 2.5-2 1.5-0.5 4.5 1 1.5-3 7.5 0 1.5 0.5 1.5-0.5 3.5 0-2 2.5-3 3-0.5 3.5 2 4.5 3.5 4.5 2.5 2 1.5 0 2-0.5 1.5-1.5 0.5-3-5-7.5 1-1.5 2 0 2 1.5 2 3 1.5 0 2.5-4.5 0-6 69 0 0.5 2 1.5 0.5 4.5 0.5 1 0 0.5-3 135.5 0-2 1-4.5-0.5-1 1 1 5 4 5.5 3.5 2 1.5 0.5 1.5-1 1.5-1.5 1.5-0.5 1.5 0.5 1.5 4.5 1.5 1 4.5-1 2.5-1.5 1.5-1.5-1-1.5-8-4.5 2-2.5 4.5-0.5 1.5-1.5 0.5-1.5-2-1-4.5 1.5-1.5 0-5.5-2 77.5 0 0 2 3 4-0.5 3-2 4.5 1 1 5-1 1.5-1.5 1-4.5 4.5 1.5 1.5-0.5 3-2 3.5-0.5 3.5-6 5.5 0 1.5 7.5 1 2.5 1.5 0.5 3 0 3 1.5 2.5 4.5-0.5 3 1 2 1.5 0 0.5-0.5-0.5-3 0-1.5 1.5-1 6-2.5 4.5 4.5 4.5-0.5 4.5 4.5 3.5 1-2 0.5-2 4 2 6.5 1.5 0.5 1.5 0 3-1.5 1.5 0.5 2 3-1 1.5-2.5 1-0.5 2 1 6 1 1 1.5 0.5 1.5-1.5 4.5-1.5 0-3.5-4-4 0.5-1.5 2-2 1.5 0 4.5 3 5.5 2-0.5 1.5 1 1 1-1 3.5-1 3-0.5 4.5 0.5 1 1 1.5 3 0.5 0.5 2.5-0.5 1.5-1.5-1-4-1.5-1-3 0-0.5-1 1-6 0-1.5 1-0.5 5.5 0.5 0.5 1.5-0.5 1.5 0.5 0.5 3 0.5 2-1 1-2 9-2 1.5 1-1.5 4.5 1 1.5 2 1 6 2 0.5 4.5 1 4.5 3 0.5 4.5-3 2.5 1 0.5 3 1 1.5 5 2.5 3 3 0 22-3 1.5-1 4 1 1.5 3 0 0 5.5-3 2-3 4 0 2 0 1.5 1.5 0 1-1.5 1.5-1.5 2-0.5 0 9-6 2-3.5 4.5 0.5 2 4.5 2.5 1 0 0.5-4 1.5 0.5 1.5 1.5 0 10-1.5 1-1 1.5-0.5 4.5-4 3-2 2.5-5 2-0.5 1.5 1.5 3 0 4.5 1 3-4 6-8 5.5-0.5 3.5-4 3-3 5.5-0.5-1-5-1.5-0.5-3-1.5-2-3-2-3 0-4.5-5-1.5-0.5-4.5 4-1.5 1-1 1.5-0.5 3-1.5 1.5-4.5 1 0.5 3.5-0.5 1-0.5 0.5-4 0.5-4.5-1.5-2 1-1 1.5-0.5 0 0-3-0.5-1.5-2-1.5-3 0-4.5 2.5-1.5-0.5-1.5-2-1.5-1-1 1-2 3-4.5-1-3 0.5-1.5 2 0 4.5-1.5 1-4.5 1-2 4-0.5 4.5-2 2-3 1-0.5 1.5 4.5 4.5-0.5 1.5-3.5 4.5 0 1.5 4 4.5-1.5 9-1 1-4.5 1.5-1.5 2-3 1.5-4.5-0.5-3-1.5-3-0.5-2.5 1-2 2.5-6 0.5-1.5 0-2.5-4.5-2-0.5-2 0.5-1 4-1.5-0.5-3-3-1.5 0-3 2.5-1.5 0.5-3-1-4.5 2-3-1.5-1.5-0.5-6 4-3-0.5-5.5-1.5-2 0-1.5 1.5-2 4.5-2.5 3-2 6 0.5 1.5 2 3 2 4.5-0.5 1.5-3.5-0.5-1.5 0.5-7.5 9-6 3.5-4.5 0.5-6-3-7.5-1.5-3-2.5-1.5-3-1.5-1-3 1-5 6-5.5 0-6 1.5-4.5 2.5-5 0.5-2.5 2.5-1.5 0.5-6-1.5-2.5-1.5-3.5-3.5-3-0.5-4.5 1.5-3-1-2.5-2.5-0.5-3-1.5-0.5-4.5 4.5-2.5 6.5-2 2-3-4-3-1-1.5 1-1.5 2.5-1.5 1-3 0-3 2.5-4.5-0.5-1 1-0.5 3-1.5 1.5-0.5-4.5-2.5-1.5-6 0-3 1-4.5-1-4.5 0.5-4.5-2-3-2-3.5-1-1.5-1.5 1-3-0.5-1.5-1.5 0-0.5 1.5-2 4.5-6.5 3-3 0-6-4-3 0.5-0.5 0.5 0.5 3-0.5 1.5-2.5 2.5-6 1.5-4.5 3-1.5 0-3-3.5-1-0.5 5-3 1-1.5-2-3-1.5-0.5-3 2-1 1.5-0.5 1.5 1.5 3-1.5 1.5-1.5 0.5-7.5 1.5-1.5-1.5-1-5-2-1-3 0.5-4.5-1-4.5 2.5-1.5 0-6-2-1.5-2-1.5 0-3 1-6-2-10.5 1.5-4.5-2.5-4.5 2.5-3 0.5-4.5-1.5-4.5-3.5-1.5 0.5-3.5 2-4 0.5-1.5-1-3-4.5-1.5-1-10.5-2-1.5 0.5-1 1.5 0.5 1.5 1.5 1.5 0.5 1.5-1.5 2-5 4 0 1.5 0.5 1.5 4.5 3 1 1.5 1.5 4.5 0.5 5 1.5 0 1.5-1.5 1.5-0.5 2 0 1.5 1.5-0.5 2-1.5 2-7.5 5-0.5 1.5 0 1.5 2 1.5 6 0.5 3-6 1.5-1.5 1.5-0.5 2 1.5 0.5 3-1 5.5-1.5 0.5-3-0.5-1.5 0.5-1.5 3-5 4.5-2.5 0.5-7.5 0-2-2-1.5-4.5-2.5-1.5-3 6.5-3-1.5-1 1 0.5 1.5-1 1.5-4.5-0.5-6 1-1.5-0.5-0.5-1.5 0.5-3-3-1.5-4.5-3.5-1.5 0-1 0.5 0.5 3-1 1-1.5-1-0.5-1.5-1 0-7.5 6-1.5 1.5-1 4.5-2 1-4.5 0-1.5-1-0.5-3-2.5-1-3 0.5-4.5-0.5-6 0-7.5-3-1.5 0-1.5 3-1.5-0.5-1.5-4-1.5 0.5-2 3.5 0.5 3 1.5 3-1 4.5 0.5 3-1 0.5-0.5-0.5 0-1.5-1.5-3-0.5-3-2-1.5-4.5 2-3-1.5-1.5 0-1 1 0.5 3-1 1.5-1.5 1-1.5 0-2-2.5 1.5-3 0-1.5-5.5-4.5-0.5-6-1-1-3-0.5-0.5-1.5-0.5-3-2-2 0-267.5 4.5 1 6-3 4.5-1 6-3 1.5 0.5 4.5 4.5 1.5 0 1.5-2 1-2 0-1.5-7.5-1.5-0.5-1.5 2-3 0-1.5-0.5-1.5-5-4.5-1.5-4-1.5-1-1.5 1-1.5 0-0.5-2-0.5-1.5 1-2 1.5 0 3 3zM816.5 227.5l-1 2 1 1 3-1-0.5-1.5zM819.5 476.5l-1 2 0 1.5 1 1 2-4zM827 476l-1 1 2 1.5 2 0.5 1-0.5 0.5-1.5-1.5-1.5zM884 473.5l-1 2 0 1.5 1 1 1.5 0.5 6-1.5 3 2 1.5 0 4.5-2 0-1.5-1-1.5-3.5-1.5-1.5 0.5-3 2.5-4.5-2.5-1.5-0.5zM888.5 219l-1 3-0.5 6 1.5 1 3-5.5zM909.5 461.5l-2.5 2 1 1.5 1.5-1.5zM917 200l0 1 2 0-0.5-1.5zM923 199.5l0 1.5 1.5 0 2-1.5-2-1zM950 198l-0.5 1.5 0.5 0.5 1.5 0.5 1.5-2.5-1.5-1.5zM1058 187.5l-2 4.5 0 3 5 5.5 3 0.5 2 1.5-0.5 9-2.5 3-0.5 1.5-1.5 1-3-2-3-1-6 4-2-0.5-2.5-5.5-3 0-3 1.5-1.5 1-0.5 1.5 0.5 1.5 1.5 1.5 4.5 1.5-2 3 0.5 1.5 3 0.5 4.5-3 1.5 0 1 5.5 0.5 1 4.5-1 4.5-0.5 3.5-1-0.5-6.5 0.5-1 1-0.5 4.5-0.5 6 2 3 0 3.5-1 0.5-1.5-0.5-1.5 1-1 3 0.5 5.5-2.5-0.5-1.5-5-4.5-3.5-1.5 1.5-4.5-0.5-1.5-2-2-1.5-1-3 3.5-4.5 0.5-1.5 2-2 0-2-1.5 1-3-3-4.5zM1065.5 185.5l-1 0.5-0.5 1.5 0.5 3 1 0.5 4.5-2 0-1.5zM1077.5 191.5l-1.5 2 3 2 1.5-2-1.5-2zM1214 180l0 1.5 1.5 0.5 1-0.5zM1253 184.5l-0.5 1.5 0.5 0.5 1.5 0 1.5-0.5 0-1.5zM1326.5 198.5l-1 1 0 1.5 4 6 1.5 0.5 1.5-0.5 1-1.5-1-3-4.5-4.5zM1358 347.5l0 1.5 1.5 0 1.5-1-1.5-1zM1368.5 238l-1 2 1 4.5-4.5 5.5-3 0.5-1.5 1-0.5 2 0.5 2 1.5-0.5 3-3 4.5-0.5 3-1 1.5-1.5 0-1.5-1.5-3 1-4.5-1-1.5zM1386.5 239l-1 1 1 1.5 1.5 0 0-2zM1394 218l-3.5 4-1 3 1.5 4.5 0 6 0 1 1.5 1 1.5-1.5 1-2-0.5-6 2-6-1-3zM1398.5 337l-1.5 2 0 1.5 1.5 0.5 3-2 0-1.5-1.5-1zM1407.5 240.5l-1 1 0 1.5 1 1 1.5 0.5 2.5-1.5 1-1.5-2-1zM1413.5 305l-0.5 4-1 1.5 0.5 1.5 1 1.5 1.5 0.5 3-3 3-1.5 1-2-2.5-1.5-4.5-1zM1416.5 232l-1.5 2 0 1.5 1.5 2.5 1.5 0 1.5-2.5-1.5-3zM1424 245.5l-0.5 2 0.5 1 1.5-0.5 0.5-2zM804.5 217.5l-1.5 1.5 1 3-0.5 4.5 1 1 1.5 0.5 1-1.5-1-4.5 1.5-3zM807.5 490.5l0.5 1.5 1 0.5 3-0.5 2-1.5zM809 218.5l-1 0.5 0.5 1.5 2 2 1.5 0.5 1.5-1 0-1.5-1.5-1.5-1.5-0.5zM827 484.5l-0.5 1.5 0.5 1 2 0.5 0.5-1.5-1-1.5zM891.5 482.5l-2 2-1 1.5 4.5 0.5 2-0.5 0.5-1.5-1-2zM1410.5 250l-3 5 1.5 1 2.5-1 0.5-4.5zM846.5 180l1-1.5 1 0-0.5 2-0.5 1-1 0zM919.5 178.5l5.5 0-2 3-1.5 0.5-4.5-0.5-3 1.5 0-1.5 1.5-1.5 1.5 1 1.5 0zM934 178.5l6.5 0-1 1-3 1-1.5-0.5zM1188 183l1 0 0 1.5-2 1.5-1 0zM1350.5 190.5l1.5-0.5 2 3.5 0 1.5-2.5 4.5 0.5 1.5 2 3 0 1.5-2 1.5-3-0.5-2-5.5 0.5-3 0-4.5zM802.5 192l0.5-1.5 4.5 2 1 5.5 0 1.5-1 0-4.5-5-0.5-1zM1337 192l1.5-1 1.5 0.5 0.5 0.5-2 0.5zM829.5 193.5l0.5-0.5 3 2 3-0.5 7.5 0.5 1 1.5-4 4.5-1.5 1-4.5-2-3 3-1-0.5 0.5-3-2-3zM791 199.5l0-1.5 1.5 0 2 1.5 0.5 4.5-1 2-3-0.5zM1408.5 208.5l1.5 0 0.5 1.5-2 0zM1426.5 315l5-1 0 7.5-0.5 1 0.5 2 0 7-3 0-5-3 2.5-6 0-4.5-1-1.5 0.5-1zM1390 352.5l2.5-1.5 1 1.5-0.5 1.5-1.5 1.5-2 0.5-3-0.5 0-1.5zM1370 369l1.5 0 0 1 0 0.5-1.5 1 0-1zM1380.5 387l2.5 0 1 1.5-1 1.5-2.5 0-0.5-1.5zM1395 400.5l2 0 0.5 1.5-0.5 1.5-3 2.5-1-1-0.5-1.5 0.5-1.5zM1360.5 402l2 0 1.5 1.5-0.5 6-1 1.5-1.5-0.5-0.5-1-1-6zM1401.5 406.5l1.5 0 1 1.5 0 1.5-2.5 2.5-1.5 0-2-1-0.5-1.5 1-2zM1363.5 414l0.5-1 1.5 0.5 2.5 2 0.5 3.5-1.5 2-4.5-0.5-1.5-1 0-1zM1399.5 418.5l0.5-1.5 1.5 0.5 0.5 2.5-2 1-1-1zM1133.5 447l1-1 1.5 2 0 2-1.5 0.5-1.5-0.5-0.5-1.5zM1072.5 454.5l0.5-1 1.5 0 0.5 1-0.5 1.5-1.5 0zM1026 465l4 0 1 1.5-1.5 3-1.5 0-2-1.5-1-1.5zM880.5 492l2-0.5 2 0.5-2 2-1.5 0.5zM871.5 495l1.5 0 0.5 1.5-0.5 1.5-1 0.5-2.5-0.5 0-1.5zM795.5 505.5l1.5-1.5 1.5 0.5 2 4-2 1-1.5-0.5-1.5-2z"/>
<path fill="#e8fa5b" d="M979 178.5l8.5 0 0 1 1.5 1 1.5-0.5 1-1.5 39.5 0 0.5 3 5.5 10.5 1.5 0.5 4.5-2.5 1 0.5 0.5 1.5-3 3-1 6 0.5 3-1 1-3 0-1 2 2 3 0 1.5-3.5 3-1 1.5 1.5 3-2.5 1-1.5 1.5 0 3.5 1.5 0.5 4.5 0 4.5 1.5 4.5 1 1.5 0.5 1.5 3.5 1.5 1.5 1.5 0 3-2.5 1.5 0 3 0.5 4.5-3 6 0 6-1.5 3.5-2 1-3 1.5-0.5 6 1 6 2 1.5-0.5 1.5-2 1.5 0 4.5 3 1 0-0.5-3 1-1.5 0.5-1.5-1.5-1.5-8-3.5-6-6.5-1.5-3.5 1-3-3.5-3-1-1.5 0.5-3-1-1.5-3.5-3-1.5-1-1.5 0-3 2-3-5.5-4.5-1-7.5-0.5-3-2-1-2.5 124 0-0.5 1.5 1.5 4.5 0 1.5-1.5 3 1 1.5 4 5 3-1 3 1 1.5 1 1.5 3 3-1.5 4.5 0 6-2 3-2 4.5-5-6-3 3-2.5 3 1 2 1.5 0 1.5 1 0.5 2.5-0.5 0.5-6-0.5-1.5-1.5-1.5 41 0 0 3-1.5 0.5-3 0-4.5-2.5-1.5 3.5 1.5 4.5 1.5 1.5 4.5-1 3-3 1.5-0.5 3 3.5 2.5 1 0 1.5-5.5 1.5-1.5 1.5-0.5 1.5 2 1.5 4.5 0.5 3 1.5 4.5-0.5 1.5-0.5 2.5-2.5 2-0.5 1.5 0 1.5 2 1 3-0.5 1.5-5 1.5-0.5 3 0.5 1 7.5 3 6 1.5 3-1 1.5-4 2-0.5-5-1-1-2 0.5-1.5 4-3 1.5-4.5 2.5-1 1.5 1 1.5 3.5 3 2 3-5.5 1.5-1 2.5 7 5.5 6 1 4.5 6-3 1.5 3 4.5 3 1.5 5 1.5 0.5 4.5-2 3 0.5 1 2-0.5 1.5-3.5 2-0.5 2.5 0.5 1.5 1.5 1 4.5 1 1.5 0.5 2 5 2.5 1.5 1.5 1.5 4.5 1.5-3 4.5 0 1.5 3.5 3 0.5 1.5-0.5 6 0.5 4.5-1 3 0.5 1.5 1 1 3 1 1.5-1 1-2.5-2.5-3 0-1.5 3-3.5 4.5 0 4.5-2 3 0.5 2-1-0.5-3-2.5-3-1-1.5 1.5-4.5-1-2.5-1.5-1-3-0.5-1.5 0-3 1.5-1.5-0.5-1.5-4.5-1.5-1-1 1-2 0-2.5-1.5 1-1.5 1.5 0 3 1 1.5-0.5-3-7 0-1.5 4.5 4 1.5-0.5 5.5-4.5 2-0.5 1 0.5 0.5 1.5-0.5 3 0.5 1.5 1.5 1 1.5 0.5 3-0.5 3-3 1.5-0.5 1 1 0 3-1 1-2 0.5-0.5 1.5 3 3 0 1.5-5 2-1.5 5.5 0.5 4.5 4.5 1.5 1 1.5 1 4.5-1 6 1.5 2 1.5 0.5 4.5-0.5 4.5 1 1 0 0-3-2.5-3 1.5-2.5 1.5-0.5 1.5 1.5 0 1.5 1.5 1.5 1.5 0 7.5-1 4.5-4 7.5 2 0.5 1.5-1 1.5-2 1.5 0 1.5 2.5 3 0 1.5-2.5 3 0 1.5 1.5 3-2 6 1 3-3 1.5 0 1.5 0 3 3.5 4.5 0 1.5-3 3.5-4.5 2-4.5 0.5-2.5 1.5-1.5 1.5 1.5 4.5 3 4.5 0.5 4.5 3.5 1 2 2-1 1.5-2.5 1.5-2.5 7.5-3 3-2 0.5-2-0.5-1-1.5-1.5 0-3 2.5-3 3-1.5 1-3.5-2-1-1.5 0-4.5-1.5-1-1.5 1-1.5 2.5-4.5 1-4 4-4.5 1.5 0.5 3-1 2-4.5-2-4.5 1-3-0.5-7.5 2-7.5-1-9 4-3 0.5-3-1.5-1.5 0-1.5 1.5 0.5 6-1 1.5-4 0-1.5 1-3 4-1.5 3.5-1.5 1-7.5 1-2 1.5-1 1.5 0 1.5 5 3 0.5 3-1 1.5-3 0-1.5 1.5 3.5 4.5 8.5 4.5 1 1.5-1 6-7.5 5-3 0.5-4.5-2-6-1-2 0.5-2 3-2 0.5-1.5-0.5-3-5-6 1-4.5-1-2 0.5-3.5 3-3.5-0.5-3 2-1.5 0-1.5-2-1.5-0.5-9 5.5-13.5-4-4.5 1.5-2.5 2.5 0 1.5 2 1.5 0 1.5-1 1-1.5 0-0.5-1 0.5-4.5-6-3-1 3-0.5 6 1.5 1.5 3 1 4 3.5-0.5 4.5 2 3 0.5 1.5-6 9-7.5 6-5.5 0-5-3.5-7.5-0.5-2-2 0-3-2.5-1.5-12 2.5-6 0.5-4.5 3-2 4.5-2.5 1.5-4.5-1-4.5 0.5-7.5-3.5-10.5 0-1-0.5-0.5-3-1-1.5-2-1-3-0.5-9 1.5-1 1.5 0.5 1.5 1 1.5-0.5 1.5-1.5 0.5-1.5-1.5-3 0-3 1.5-1.5 3-1.5-0.5 0-1.5-1.5-1.5-3-1-1.5 0.5-1.5 2-1.5 3.5-1.5 0-4.5-3-1.5 0.5-1 2-2 1-6-1-6 0.5-1.5-1-1.5-4-1.5-1-3-1-4.5-2.5-3 0-2.5 1.5-2 4-1.5 1.5-3 1-1.5 2-1.5 0-4.5-4-1.5-0.5-6 0-4.5 2.5-4.5-0.5-1-1.5 2.5-1.5 1.5-1.5-0.5-1.5-2.5-2-1.5 0.5-0.5 1.5 0.5 4.5-3 0-6 3-3-2-1.5 0-0.5 0.5-0.5 1.5 3 3 0.5 3-1 1.5-3 0.5-1.5-2-0.5-4.5-2.5-1.5-1.5-0.5-4.5 2-3-1.5-4.5 2.5-4.5-1-4.5-2.5-3 0-9-1-3-1.5-1.5 0-0.5 2-2.5 1-1.5-1-0.5-1.5-5.5-0.5-2.5 3.5-2 0.5-2.5-0.5-2-1.5 0-1.5 3-4.5-1-1.5-2-1-2.5 1-2 2-1.5 0-1.5-2-1.5-0.5-3 0.5-6-2-3 0.5-3-1-1.5 0-3 2-4.5-2.5-3 4.5-2 1.5-0.5 1.5 1 3-0.5 1.5-5 3-1 1.5 0 1.5 2.5 3-1 1.5-1 0.5-3-1.5-1.5 0.5-3 2.5-1.5 0.5-3-1-3-1.5-1.5 9 0.5 1.5 2 1.5 0.5 1.5-3 1-1.5-0.5-1.5-2-3 0.5-1.5 1-3.5 4.5-1.5 3-4 1-2.5 3.5-3.5 2.5-3 0-3-2.5-1.5 0-4.5 2.5-2.5-4-0.5-3-3-3-2 3-4.5 1.5-2.5 3.5-6 1.5-1.5 1-0.5-7.5-2.5-3.5-6-0.5-1-0.5-1-1.5 0.5-1.5-1.5-2.5-3-1-1.5 0.5-1 1.5 3 3 0.5 1.5-1 1.5-5 3 0 4.5 2 2 1.5 1 3 0 1.5 1.5-1.5 2.5-3 3.5 0-1.5-1.5-2-1.5-0.5-4.5-0.5-3-4-5.5-2 0-1.5 1-1.5 5-3 1-1.5-0.5-3-1-1.5-7.5 1.5-1.5 1.5-3 4.5-1.5 0-3-4 0-260.5 2 2 1 3 4.5-1 1.5 1 1 4.5-0.5 4.5 1 6 2.5 1.5 5 1.5 2 0 2.5-3 3 0.5 6-2 3-5 3-3 1.5 0.5 4.5 3 2.5 3 4 0 1.5-7.5-0.5-1.5 0-2 1.5 0 1.5 2 1.5 0.5 6-4.5 4.5 1 2 0 2.5-1.5-2-1.5 0-1.5 6.5-3.5 3-0.5 4 2.5 1.5 1.5 0.5 1.5-3.5 3-0.5 1.5 3 4.5-1 4.5 0.5 1.5 4.5 1.5 1.5-1 1.5-3.5 1.5-0.5 1.5 0.5 0.5 3 1 1.5 5 1.5-2.5 3 0 1.5 0.5 2 1.5 1 1.5-0.5 3-3.5 3-1.5 3-4 1.5 0 1.5 1 1.5-0.5 2.5-4.5-2.5-3-0.5-3 3.5-5 4.5 0 3 0.5 9-1.5 4.5 1.5 4.5-2 2.5 2-0.5 1.5-3.5 1-0.5 2 2 1 3 0.5 3 2.5 1.5 0 1.5-1 2-1.5 0.5-1.5-1-1-1.5-0.5-3 0.5-1-0.5-1-1.5 1-3 1-4.5 2.5-3 5-2.5 6.5-0.5 2-7.5-1.5-3 0.5-1.5 1.5 0 3 4.5 6 5 4.5 0.5 5-1 3-4.5 1-1 6-1 1-1-1-2.5-4.5-5zM992 183l-0.5 1.5 0.5 1.5 1.5-0.5 0.5-1zM1026.5 181l-1.5 1 0 1 0.5 1.5 1 1 2-1-0.5-1.5zM1053.5 434.5l-4.5 2 0 1.5 1.5 1.5 3 1.5 5.5-3 0-1.5-1-1-1.5-0.5zM1083.5 229l-0.5 3.5 0 1.5 0.5 0.5 1.5-1 0.5-4-0.5-0.5zM1095.5 226.5l-1.5 3 0 2 1.5 1.5 1.5-0.5 1.5-1.5-1-3zM1112 224.5l-1 0.5-1.5 1.5 1 1.5 1.5-0.5 1.5-1-0.5-1.5zM1217 400l-0.5 0.5 0 1.5 0.5 0.5 1.5-0.5zM1292 379l-0.5 0.5 0 1.5 5 3 1.5-0.5 1-1 0-1.5-4-3-1.5 0zM1295 364l-0.5 0.5 0.5 1.5 1.5 1.5-0.5 3 0.5 0.5 3-0.5 0.5-1.5-2-1.5-1.5-3zM1296.5 213l1.5 2 2.5-0.5-0.5-1.5-2-1zM1305.5 200l-3.5 4 0.5 1.5 1.5 3.5 1.5 0.5 2-1 1-4.5-1-3zM1311.5 211l0 0.5 0 1.5 1.5-1.5zM1319 347.5l0 2 0 0.5 1.5 1 2.5 0 0.5-1.5-3-2zM1361 274.5l0.5 4.5-1 4.5 0 1.5 6.5 0 1 1.5-0.5 3 1 1 3 0 2.5-4 3-3-2.5-4.5-3-3-1.5 0.5-1.5 1-1.5-0.5-1.5-2.5-1.5-1zM1376 272.5l0 0.5 1.5 1.5 3 1.5 1.5 1.5 2-1.5-3.5-3.5-1.5-1-1.5 0zM1376 230.5l-1 2 1 0.5 2-0.5zM1398.5 326l-0.5 2.5 2 4 1.5 0 4-2.5-1-1.5zM1401.5 310l-0.5 2 0.5 0.5 0.5-0.5zM866 222.5l-1 2.5 1 2 1.5 0.5 1-1 0-3-1-1zM954.5 205.5l0 3 1.5 2 4.5-1 2.5-2.5-0.5-1.5-2-1-3 0zM1025 230l-0.5 1 0.5 1.5 1.5-1.5zM1295 388l-0.5 0.5-0.5 1.5 2.5 2 1.5-0.5 1.5-1.5 0-1.5-1.5-1.5-1.5 0zM1304 212.5l-2 2 0.5 3-1 1.5-2 0.5-1 1-0.5 1.5 1.5 1.5 2 0 4.5-3 1-1.5-0.5-3zM1313 214.5l-0.5 1.5 0.5 2 1.5 0.5 1.5-1 1-1.5zM1033 178.5l5.5 0-3 2-1.5 0zM950.5 183l1-1.5 1.5 0 1.5 1.5 0.5 1.5-0.5 2.5-3 0-1.5-2.5zM940.5 184.5l2-1.5 2 1.5-0.5 1.5-1.5 0.5-2-0.5zM1299.5 184.5l0-0.5 1.5-0.5 0.5 1 1 4.5-1.5 1.5zM893.5 186l1-1 1.5 0.5 6 5 4.5 0.5 3 1.5 4.5-1 1.5 0.5 1.5 3-5.5 6-5 0.5-3 1.5-0.5-0.5-1-3.5-1.5-1-3 0.5-1.5-2-1-1.5 0-4.5-1.5-3zM927 189l0.5-0.5 1.5 0.5 4.5 4.5-3 3.5-4-2-1-1.5-0.5-3zM1047 195l3.5-1.5 1.5 1 3 5-3 3-0.5 3-1 1.5-1.5 0.5-3-1-1-1 0-1.5 1-6zM1286 196.5l0-1.5 1.5 0.5 1.5 2.5-1.5 1.5-1.5 0zM935.5 198l1-1 1.5 0.5 1 2-3.5 4.5 1.5 4.5-0.5 1.5-1.5 0.5-6-0.5-2-4.5 1-3 2.5-4 3 0.5zM882 202.5l1 0-0.5 1.5-2.5 0zM897.5 202.5l4.5 0.5 1.5 2.5 6 2.5 1.5-0.5 3-2 1.5-0.5 3 1.5 3 0 1 2-1 1-3 0.5-3 3-1.5-0.5-4.5-3-4.5 2.5-6 1.5-6-2-1.5-1.5 0-0.5 3 0 1.5-0.5 0.5-5zM1059 210l2-1 1.5 1-1.5 1.5-1.5 0zM1048.5 211.5l0.5-0.5 1.5 2-1.5 2-1.5-2zM803 213l1.5-1.5 1.5 0 3 1.5 0 1.5-3 0.5-1.5-0.5zM1398.5 213l1.5 0.5 6.5 7 1 1.5-0.5 1.5-2.5 0-1.5-1-5-5-1.5-3zM1387.5 214.5l2-0.5 1.5 0.5 0.5 1.5-2 3-1.5 1-1.5-2.5 0-1.5zM1422 232.5l2-0.5 3.5 3.5-3.5 2-1.5-0.5zM1421 240l0.5 0 1 1.5-1.5 2.5-1-1 0-1.5zM1399 241.5l1-1 1.5 1 5.5 6-0.5 3-2 3-1.5 0.5-3 0-3-2.5-1.5-0.5-4.5 1.5-1.5-0.5-1.5-2.5-2-2 0-1.5 0.5-0.5 3-0.5 3 1 3-1 1.5-1zM1430 241.5l1.5 0.5 0 1-1.5 0.5-1.5-0.5 0-0.5zM1360.5 244.5l0.5-1.5 0.5 1.5-0.5 1.5-0.5 0zM1412.5 246l1-1 1.5 0 2 1 0 1.5-2 1-1.5-1zM1312 378l1.5 0 1.5 1.5-2 0zM914 462l1.5-1.5 1.5 0 1.5 1.5 0.5 1.5-2 4.5-3 1.5-1.5-0.5-1-2.5 1-3zM895.5 468l2-1 1.5 0 2.5 2.5-0.5 1.5-2 0-4-1.5zM908.5 474l1-1 1.5 0 2.5 2.5 2 0.5 1.5 1 1.5 6-0.5 1.5-2.5 3-1.5 0.5-1.5-0.5 0-4.5-8.5-4.5zM849 478.5l0.5-1 2.5 1-2.5 1.5zM856.5 486l0.5-1 1.5 1 1.5 3-1.5 0.5-1.5-0.5-1.5-1.5z"/>
<polygon points="1011.5,334 1019,333.6 1024,338.5 1022.5,345 1016,346.5 1011,341" fill="#97b6e1"/>
<path d="M996.9,336.2Q1000,333.4 1004.2,333.2" stroke="#97b6e1" stroke-width="2.3" fill="none" stroke-linecap="round"/>
<path d="M1036.5,352.5l2.5,2.5M1032.5,363l-1,3" stroke="#97b6e1" stroke-width="1.2" fill="none"/>
<path d="M999.2,335.3L1005.1,333.2" stroke="#97b6e1" stroke-width="1.6" stroke-linecap="round"/>
<path d="M1011.0,342.8L1016.9,341.0" stroke="#97b6e1" stroke-width="1.3" stroke-linecap="round"/>
<path d="M1018.0,347.6L1021.5,346.0" stroke="#97b6e1" stroke-width="1.3" stroke-linecap="round"/>
<path d="M1037.3,351.6L1039.5,353.0" stroke="#97b6e1" stroke-width="1.2" stroke-linecap="round"/>
<polygon points="1037.0,352.1 1043.1,355.9 1050.8,359.8 1054.3,362.8 1054.6,365.6 1056.8,367.7 1060.5,370.5 1056.8,374.5 1049.7,376.8 1045.3,379.5 1041.4,384.6 1037.0,381.9 1036.1,375.6 1036.7,371.4 1033.0,365.6 1035.4,362.8 1038.1,359.8 1036.5,355.4" fill="#d2b48c" stroke="#000" stroke-width="1.9" stroke-linejoin="round"/>
<polygon points="1018.9,337.9 1021.1,335.3 1023.8,338.4 1027.1,337.2 1032.1,340.0 1034.8,341.9 1033.2,344.2 1027.7,345.8 1024.6,345.4 1024.2,341.2 1022.2,341.2 1019.4,340.0" fill="#d2b48c" stroke="#000" stroke-width="1.9" stroke-linejoin="round"/>
<polygon points="1005.5,333.7 1006.8,330.9 1012.3,331.6 1015.0,332.0 1018.7,332.3 1017.2,334.4 1011.2,334.1 1006.8,333.9" fill="#d2b48c" stroke="#000" stroke-width="1.9" stroke-linejoin="round"/>
<polygon points="1010.5,339.3 1012.8,337.2 1016.1,338.8 1016.7,341.9 1013.4,342.8 1010.8,341.2" fill="#d2b48c" stroke="#000" stroke-width="1.9" stroke-linejoin="round"/>
<polygon points="1018.9,346.5 1020.7,345.4 1022.4,346.1 1022.0,347.5 1020.0,347.7" fill="#d2b48c" stroke="#000" stroke-width="1.9" stroke-linejoin="round"/>
<polygon points="984.1,322.6 988.1,321.9 990.7,319.3 993.6,323.1 996.5,325.2 998.0,329.0 994.7,330.2 991.4,328.7 988.1,329.2 985.2,325.0" fill="#d2b48c" stroke="#000" stroke-width="1.9" stroke-linejoin="round"/>
<polygon points="950.9,311.6 952.4,308.7 955.5,307.1 959.5,307.1 961.7,309.2 961.0,313.5 958.6,315.6 955.1,315.1 951.6,313.2" fill="#d2b48c" stroke="#000" stroke-width="1.9" stroke-linejoin="round"/>
<polygon points="940.8,315.3 942.8,312.0 944.7,312.5 944.1,315.3 941.9,317.7 940.8,316.8" fill="#d2b48c" stroke="#000" stroke-width="2.4" stroke-linejoin="round"/>
<ellipse cx="808.9" cy="270" rx="3.4" ry="2.8" fill="#97b6e1"/>
<ellipse cx="846.4" cy="277.6" rx="6.2" ry="2.6" transform="rotate(28 846.4 277.6)" fill="#97b6e1"/>
<ellipse cx="905.3" cy="286" rx="2.8" ry="1.6" transform="rotate(-20 905.3 286)" fill="#97b6e1"/>
<ellipse cx="896.3" cy="288.4" rx="2.2" ry="0.9" fill="#97b6e1"/>
<ellipse cx="794" cy="259.5" rx="2" ry="1" transform="rotate(35 794 259.5)" fill="#97b6e1"/>
<polygon points="943.5,326 946,327 949.3,332 952,337 952.6,341.3 948.5,341.8 945.8,337 943.8,331" fill="#f6d54a"/>
<polygon points="945.5,330 948.5,334 951,338.5 950.5,340.5 948.3,339.5 946.3,335" fill="#fab83f"/>
<path d="M929.5,333.5L933.5,339" stroke="#f6d54a" stroke-width="1"/>
<polygon points="1131.5,193 1136,192.4 1139.5,195 1139,201 1135.5,204.4 1132,203 1133.5,198" fill="#f6d54a"/>
<polygon points="1144,191.5 1148,190.3 1151.7,191.5 1151,194.6 1146,194.4" fill="#f6d54a"/>
<polygon points="1118,212 1121,211 1122.3,213 1119.5,214.2" fill="#f6d54a"/>
<polygon points="1160.5,184.5 1163,183.8 1164,185.5 1161.5,186.2" fill="#f6d54a"/>
<circle cx="1016.5" cy="381" r="3" fill="#f6d54a"/><circle cx="1016.5" cy="381" r="1.7" fill="#faa03c"/>
<circle cx="808.7" cy="269.4" r="1.5" fill="#333" fill-opacity="0.85"/>
<circle cx="807.5" cy="267.6" r="0.9" fill="#333" fill-opacity="0.85"/>
<circle cx="842.4" cy="275.0" r="0.9" fill="#333" fill-opacity="0.85"/>
<circle cx="903.5" cy="286.8" r="0.9" fill="#333" fill-opacity="0.85"/>
<circle cx="933.9" cy="320.3" r="1.2" fill="none" stroke="#444" stroke-width="0.6"/>
<path d="M1048.3,389.2 Q1055.5,387.6 1063.4,387.8" stroke="#fff" stroke-width="4.2" fill="none"/>
<path d="M1023.8,408.3 Q1022.5,415 1023.1,423" stroke="#fff" stroke-width="4.2" fill="none"/>
<circle cx="1080.9" cy="399.3" r="6.1" fill="#1f77b4" stroke="#000" stroke-width="1.6"/>
<polygon points="1012.03,397.30 1017.31,400.35 1017.31,406.45 1012.03,409.50 1006.74,406.45 1006.74,400.35" fill="#3a89c5" stroke="#000" stroke-width="1.6" stroke-linejoin="miter"/>
<polygon points="878.56,424.70 884.55,429.05 882.26,436.10 874.86,436.10 872.57,429.05" fill="#5fa5d9" stroke="#000" stroke-width="1.6" stroke-linejoin="miter"/>
<circle cx="856.2" cy="428.5" r="6.1" fill="#8fc5ee" stroke="#000" stroke-width="1.6"/>
<polygon points="1186.82,448.30 1192.11,451.35 1192.11,457.45 1186.82,460.50 1181.54,457.45 1181.54,451.35" fill="#c3e6fc" stroke="#000" stroke-width="1.6" stroke-linejoin="miter"/>
<polygon points="827.65,568.90 833.64,573.25 831.35,580.30 823.95,580.30 821.66,573.25" fill="#ff7f0e" stroke="#000" stroke-width="1.6" stroke-linejoin="miter"/>
<circle cx="965.1" cy="330.5" r="6.1" fill="#ff9232" stroke="#000" stroke-width="1.6"/>
<polygon points="1162.77,476.30 1168.05,479.35 1168.05,485.45 1162.77,488.50 1157.48,485.45 1157.48,479.35" fill="#ffad66" stroke="#000" stroke-width="1.6" stroke-linejoin="miter"/>
<polygon points="809.88,369.10 815.87,373.45 813.58,380.50 806.18,380.50 803.89,373.45" fill="#ffc999" stroke="#000" stroke-width="1.6" stroke-linejoin="miter"/>
<circle cx="1090.7" cy="319.4" r="6.1" fill="#ffdcc3" stroke="#000" stroke-width="1.6"/>
<polygon points="1095.73,407.05 1101.01,410.10 1101.01,416.20 1095.73,419.25 1090.45,416.20 1090.45,410.10" fill="#2ca02c" stroke="#000" stroke-width="1.6" stroke-linejoin="miter"/>
<polygon points="949.54,296.95 955.53,301.30 953.24,308.35 945.83,308.35 943.54,301.30" fill="#49b649" stroke="#000" stroke-width="1.6" stroke-linejoin="miter"/>
<circle cx="1124.8" cy="196.6" r="6.1" fill="#6ccd6c" stroke="#000" stroke-width="1.6"/>
<polygon points="1232.59,319.15 1237.88,322.20 1237.88,328.30 1232.59,331.35 1227.31,328.30 1227.31,322.20" fill="#92e692" stroke="#000" stroke-width="1.6" stroke-linejoin="miter"/>
<polygon points="938.41,453.10 944.40,457.45 942.11,464.50 934.70,464.50 932.41,457.45" fill="#c2fcc2" stroke="#000" stroke-width="1.6" stroke-linejoin="miter"/>
<circle cx="1117.7" cy="548.1" r="6.1" fill="#d62728" stroke="#000" stroke-width="1.6"/>
<polygon points="1202.25,252.20 1208.24,256.55 1205.95,263.60 1198.54,263.60 1196.26,256.55" fill="#ea6b6b" stroke="#000" stroke-width="1.6" stroke-linejoin="miter"/>
<circle cx="1134.8" cy="535.3" r="6.1" fill="#f29493" stroke="#000" stroke-width="1.6"/>
<polygon points="1277.47,412.45 1282.75,415.50 1282.75,421.60 1277.47,424.65 1272.18,421.60 1272.18,415.50" fill="#fcc3c3" stroke="#000" stroke-width="1.6" stroke-linejoin="miter"/>
<polygon points="1286.25,358.80 1292.24,363.15 1289.95,370.20 1282.55,370.20 1280.26,363.15" fill="#d2b2f3" stroke="#000" stroke-width="1.6" stroke-linejoin="miter"/>
<circle cx="1176.7" cy="286.6" r="6.1" fill="#e4c3fb" stroke="#000" stroke-width="1.6"/>
<polygon points="1187.67,298.30 1192.96,301.35 1192.96,307.45 1187.67,310.50 1182.39,307.45 1182.39,301.35" fill="#8c564b" stroke="#000" stroke-width="1.6" stroke-linejoin="miter"/>
<polygon points="1025.65,461.90 1031.65,466.25 1029.36,473.30 1021.95,473.30 1019.66,466.25" fill="#a97268" stroke="#000" stroke-width="1.6" stroke-linejoin="miter"/>
<circle cx="963.9" cy="283.4" r="6.1" fill="#c49585" stroke="#000" stroke-width="1.6"/>
<polygon points="1026.25,419.75 1018.90,434.45 1033.60,434.45" fill="#1f77b4" stroke="#000" stroke-width="1.6" stroke-linejoin="miter"/>
<polygon points="1068.33,381.75 1060.98,396.45 1075.68,396.45" fill="#ff7f0e" stroke="#000" stroke-width="1.6" stroke-linejoin="miter"/>
</g>
<rect x="791.2" y="178.4" width="639.4" height="407.9" fill="none" stroke="#000" stroke-width="1.1"/>
<path d="M792.2,178.4v-3.6M792.2,586.3v3.6" stroke="#000" stroke-width="1.4"/>
<path d="M814.2,178.4v-3.6M814.2,586.3v3.6" stroke="#000" stroke-width="1.4"/>
<path d="M836.2,178.4v-8.8M836.2,586.3v8.8" stroke="#000" stroke-width="2.9"/>
<text x="834.9" y="619.7" font-size="23.4" text-anchor="middle" font-weight="normal" font-style="normal" fill="#000" textLength="71.6" lengthAdjust="spacingAndGlyphs">165°W</text>
<path d="M858.2,178.4v-3.6M858.2,586.3v3.6" stroke="#000" stroke-width="1.4"/>
<path d="M880.2,178.4v-3.6M880.2,586.3v3.6" stroke="#000" stroke-width="1.4"/>
<path d="M902.3,178.4v-8.8M902.3,586.3v8.8" stroke="#000" stroke-width="2.9"/>
<text x="901.0" y="619.7" font-size="23.4" text-anchor="middle" font-weight="normal" font-style="normal" fill="#000" textLength="71.6" lengthAdjust="spacingAndGlyphs">162°W</text>
<path d="M924.3,178.4v-3.6M924.3,586.3v3.6" stroke="#000" stroke-width="1.4"/>
<path d="M946.3,178.4v-3.6M946.3,586.3v3.6" stroke="#000" stroke-width="1.4"/>
<path d="M968.3,178.4v-8.8M968.3,586.3v8.8" stroke="#000" stroke-width="2.9"/>
<text x="967.0" y="619.7" font-size="23.4" text-anchor="middle" font-weight="normal" font-style="normal" fill="#000" textLength="71.6" lengthAdjust="spacingAndGlyphs">159°W</text>
<path d="M990.3,178.4v-3.6M990.3,586.3v3.6" stroke="#000" stroke-width="1.4"/>
<path d="M1012.3,178.4v-3.6M1012.3,586.3v3.6" stroke="#000" stroke-width="1.4"/>
<path d="M1034.3,178.4v-8.8M1034.3,586.3v8.8" stroke="#000" stroke-width="2.9"/>
<text x="1033.0" y="619.7" font-size="23.4" text-anchor="middle" font-weight="normal" font-style="normal" fill="#000" textLength="71.6" lengthAdjust="spacingAndGlyphs">156°W</text>
<path d="M1056.3,178.4v-3.6M1056.3,586.3v3.6" stroke="#000" stroke-width="1.4"/>
<path d="M1078.3,178.4v-3.6M1078.3,586.3v3.6" stroke="#000" stroke-width="1.4"/>
<path d="M1100.3,178.4v-8.8M1100.3,586.3v8.8" stroke="#000" stroke-width="2.9"/>
<text x="1099.0" y="619.7" font-size="23.4" text-anchor="middle" font-weight="normal" font-style="normal" fill="#000" textLength="71.6" lengthAdjust="spacingAndGlyphs">153°W</text>
<path d="M1122.4,178.4v-3.6M1122.4,586.3v3.6" stroke="#000" stroke-width="1.4"/>
<path d="M1144.4,178.4v-3.6M1144.4,586.3v3.6" stroke="#000" stroke-width="1.4"/>
<path d="M1166.4,178.4v-8.8M1166.4,586.3v8.8" stroke="#000" stroke-width="2.9"/>
<text x="1165.1" y="619.7" font-size="23.4" text-anchor="middle" font-weight="normal" font-style="normal" fill="#000" textLength="71.6" lengthAdjust="spacingAndGlyphs">150°W</text>
<path d="M1188.4,178.4v-3.6M1188.4,586.3v3.6" stroke="#000" stroke-width="1.4"/>
<path d="M1210.4,178.4v-3.6M1210.4,586.3v3.6" stroke="#000" stroke-width="1.4"/>
<path d="M1232.4,178.4v-8.8M1232.4,586.3v8.8" stroke="#000" stroke-width="2.9"/>
<text x="1231.1" y="619.7" font-size="23.4" text-anchor="middle" font-weight="normal" font-style="normal" fill="#000" textLength="71.6" lengthAdjust="spacingAndGlyphs">147°W</text>
<path d="M1254.4,178.4v-3.6M1254.4,586.3v3.6" stroke="#000" stroke-width="1.4"/>
<path d="M1276.4,178.4v-3.6M1276.4,586.3v3.6" stroke="#000" stroke-width="1.4"/>
<path d="M1298.4,178.4v-8.8M1298.4,586.3v8.8" stroke="#000" stroke-width="2.9"/>
<text x="1297.1" y="619.7" font-size="23.4" text-anchor="middle" font-weight="normal" font-style="normal" fill="#000" textLength="71.6" lengthAdjust="spacingAndGlyphs">144°W</text>
<path d="M1320.5,178.4v-3.6M1320.5,586.3v3.6" stroke="#000" stroke-width="1.4"/>
<path d="M1342.5,178.4v-3.6M1342.5,586.3v3.6" stroke="#000" stroke-width="1.4"/>
<path d="M1364.5,178.4v-8.8M1364.5,586.3v8.8" stroke="#000" stroke-width="2.9"/>
<text x="1363.2" y="619.7" font-size="23.4" text-anchor="middle" font-weight="normal" font-style="normal" fill="#000" textLength="71.6" lengthAdjust="spacingAndGlyphs">141°W</text>
<path d="M1386.5,178.4v-3.6M1386.5,586.3v3.6" stroke="#000" stroke-width="1.4"/>
<path d="M1408.5,178.4v-3.6M1408.5,586.3v3.6" stroke="#000" stroke-width="1.4"/>
<path d="M1430.5,178.4v-8.8M1430.5,586.3v8.8" stroke="#000" stroke-width="2.9"/>
<text x="1429.2" y="619.7" font-size="23.4" text-anchor="middle" font-weight="normal" font-style="normal" fill="#000" textLength="71.6" lengthAdjust="spacingAndGlyphs">138°W</text>
<path d="M791.2,586.1h-3.6M1430.6,586.1h3.6" stroke="#000" stroke-width="1.4"/>
<path d="M791.2,563.8h-3.6M1430.6,563.8h3.6" stroke="#000" stroke-width="1.4"/>
<path d="M791.2,541.5h-8.8M1430.6,541.5h8.8" stroke="#000" stroke-width="2.9"/>
<text x="1446.8" y="549.9" font-size="23.4" text-anchor="start" font-weight="normal" font-style="normal" fill="#000" textLength="54.4" lengthAdjust="spacingAndGlyphs">12°N</text>
<path d="M791.2,519.1h-3.6M1430.6,519.1h3.6" stroke="#000" stroke-width="1.4"/>
<path d="M791.2,496.6h-3.6M1430.6,496.6h3.6" stroke="#000" stroke-width="1.4"/>
<path d="M791.2,474.0h-8.8M1430.6,474.0h8.8" stroke="#000" stroke-width="2.9"/>
<text x="1446.8" y="482.4" font-size="23.4" text-anchor="start" font-weight="normal" font-style="normal" fill="#000" textLength="54.4" lengthAdjust="spacingAndGlyphs">15°N</text>
<path d="M791.2,451.4h-3.6M1430.6,451.4h3.6" stroke="#000" stroke-width="1.4"/>
<path d="M791.2,428.5h-3.6M1430.6,428.5h3.6" stroke="#000" stroke-width="1.4"/>
<path d="M791.2,405.6h-8.8M1430.6,405.6h8.8" stroke="#000" stroke-width="2.9"/>
<text x="1446.8" y="414.0" font-size="23.4" text-anchor="start" font-weight="normal" font-style="normal" fill="#000" textLength="54.4" lengthAdjust="spacingAndGlyphs">18°N</text>
<path d="M791.2,382.6h-3.6M1430.6,382.6h3.6" stroke="#000" stroke-width="1.4"/>
<path d="M791.2,359.4h-3.6M1430.6,359.4h3.6" stroke="#000" stroke-width="1.4"/>
<path d="M791.2,336.0h-8.8M1430.6,336.0h8.8" stroke="#000" stroke-width="2.9"/>
<text x="1446.8" y="344.4" font-size="23.4" text-anchor="start" font-weight="normal" font-style="normal" fill="#000" textLength="54.4" lengthAdjust="spacingAndGlyphs">21°N</text>
<path d="M791.2,312.5h-3.6M1430.6,312.5h3.6" stroke="#000" stroke-width="1.4"/>
<path d="M791.2,288.8h-3.6M1430.6,288.8h3.6" stroke="#000" stroke-width="1.4"/>
<path d="M791.2,265.0h-8.8M1430.6,265.0h8.8" stroke="#000" stroke-width="2.9"/>
<text x="1446.8" y="273.4" font-size="23.4" text-anchor="start" font-weight="normal" font-style="normal" fill="#000" textLength="54.4" lengthAdjust="spacingAndGlyphs">24°N</text>
<path d="M791.2,241.0h-3.6M1430.6,241.0h3.6" stroke="#000" stroke-width="1.4"/>
<path d="M791.2,216.7h-3.6M1430.6,216.7h3.6" stroke="#000" stroke-width="1.4"/>
<path d="M791.2,192.3h-8.8M1430.6,192.3h8.8" stroke="#000" stroke-width="2.9"/>
<text x="1446.8" y="200.7" font-size="23.4" text-anchor="start" font-weight="normal" font-style="normal" fill="#000" textLength="54.4" lengthAdjust="spacingAndGlyphs">27°N</text>
<text x="1110.9" y="167.6" font-size="29.4" text-anchor="middle" font-weight="bold" font-style="normal" fill="#000" textLength="436.0" lengthAdjust="spacingAndGlyphs">ESPC - 2025-08-25 12:00:00</text>
</g>
<rect x="175.80" y="646.9" width="78.13" height="16.0" fill="#062840"/>
<rect x="253.33" y="646.9" width="78.13" height="16.0" fill="#0f3168"/>
<rect x="330.85" y="646.9" width="78.13" height="16.0" fill="#2a3296"/>
<rect x="408.38" y="646.9" width="78.13" height="16.0" fill="#4a389f"/>
<rect x="485.91" y="646.9" width="78.13" height="16.0" fill="#624198"/>
<rect x="563.43" y="646.9" width="78.13" height="16.0" fill="#784c90"/>
<rect x="640.96" y="646.9" width="78.13" height="16.0" fill="#8e568c"/>
<rect x="718.49" y="646.9" width="78.13" height="16.0" fill="#a55e87"/>
<rect x="796.01" y="646.9" width="78.13" height="16.0" fill="#bd667b"/>
<rect x="873.54" y="646.9" width="78.13" height="16.0" fill="#d56e6c"/>
<rect x="951.07" y="646.9" width="78.13" height="16.0" fill="#e87b59"/>
<rect x="1028.59" y="646.9" width="78.13" height="16.0" fill="#f58c46"/>
<rect x="1106.12" y="646.9" width="78.13" height="16.0" fill="#faa03c"/>
<rect x="1183.65" y="646.9" width="78.13" height="16.0" fill="#fab83f"/>
<rect x="1261.17" y="646.9" width="78.13" height="16.0" fill="#f6d54a"/>
<polygon points="176.1,646.9 117.2,654.9 176.1,662.9" fill="#04202e"/>
<polygon points="1339.0,646.9 1396.6,654.9 1339.0,662.9" fill="#e8fa5b"/>
<polygon points="117.2,654.9 176.1,646.9 1339.0,646.9 1396.6,654.9 1339.0,662.9 176.1,662.9" fill="none" stroke="#111" stroke-width="1.1" stroke-linejoin="miter"/>
<path d="M176.1,662.9v7.0" stroke="#000" stroke-width="1.35"/>
<text x="176.4" y="692.0" font-size="22.2" text-anchor="middle" font-weight="normal" font-style="normal" fill="#000" textLength="12.6" lengthAdjust="spacingAndGlyphs">8</text>
<path d="M331.2,662.9v7.0" stroke="#000" stroke-width="1.35"/>
<text x="331.5" y="692.0" font-size="22.2" text-anchor="middle" font-weight="normal" font-style="normal" fill="#000" textLength="12.6" lengthAdjust="spacingAndGlyphs">9</text>
<path d="M486.2,662.9v7.0" stroke="#000" stroke-width="1.35"/>
<text x="486.5" y="692.0" font-size="22.2" text-anchor="middle" font-weight="normal" font-style="normal" fill="#000" textLength="24.6" lengthAdjust="spacingAndGlyphs">10</text>
<path d="M641.3,662.9v7.0" stroke="#000" stroke-width="1.35"/>
<text x="641.6" y="692.0" font-size="22.2" text-anchor="middle" font-weight="normal" font-style="normal" fill="#000" textLength="24.6" lengthAdjust="spacingAndGlyphs">11</text>
<path d="M796.3,662.9v7.0" stroke="#000" stroke-width="1.35"/>
<text x="796.6" y="692.0" font-size="22.2" text-anchor="middle" font-weight="normal" font-style="normal" fill="#000" textLength="24.6" lengthAdjust="spacingAndGlyphs">12</text>
<path d="M951.4,662.9v7.0" stroke="#000" stroke-width="1.35"/>
<text x="951.7" y="692.0" font-size="22.2" text-anchor="middle" font-weight="normal" font-style="normal" fill="#000" textLength="24.6" lengthAdjust="spacingAndGlyphs">13</text>
<path d="M1106.4,662.9v7.0" stroke="#000" stroke-width="1.35"/>
<text x="1106.7" y="692.0" font-size="22.2" text-anchor="middle" font-weight="normal" font-style="normal" fill="#000" textLength="24.6" lengthAdjust="spacingAndGlyphs">14</text>
<path d="M1261.5,662.9v7.0" stroke="#000" stroke-width="1.35"/>
<text x="1261.8" y="692.0" font-size="22.2" text-anchor="middle" font-weight="normal" font-style="normal" fill="#000" textLength="24.6" lengthAdjust="spacingAndGlyphs">15</text>
<text x="757.9" y="719.2" font-size="21.8" text-anchor="middle" font-weight="bold" font-style="normal" fill="#000" textLength="233.5" lengthAdjust="spacingAndGlyphs">Temperature (degC)</text>
<text x="756.6" y="746.1" font-size="16.2" text-anchor="middle" font-weight="bold" font-style="italic" fill="#000" textLength="649.0" lengthAdjust="spacingAndGlyphs">Glider/Argo Search Window: 2025-08-20 12:00:00 to 2025-08-25 12:00:00</text>
<rect x="185.8" y="772.0" width="1143.6" height="87.7" rx="3.2" ry="3.2" fill="#fff" stroke="#cccccc" stroke-width="1.4"/>
<circle cx="206.6" cy="784.5" r="6.45" fill="#1f77b4" stroke="#000" stroke-width="1.6"/>
<text x="231.3" y="789.1" font-size="14.2" text-anchor="start" font-weight="normal" font-style="normal" fill="#000" textLength="60.6" lengthAdjust="spacingAndGlyphs">1902649</text>
<polygon points="206.60,799.20 212.06,802.35 212.06,808.65 206.60,811.80 201.14,808.65 201.14,802.35" fill="#3a89c5" stroke="#000" stroke-width="1.6" stroke-linejoin="miter"/>
<text x="231.3" y="810.1" font-size="14.2" text-anchor="start" font-weight="normal" font-style="normal" fill="#000" textLength="60.6" lengthAdjust="spacingAndGlyphs">1902685</text>
<polygon points="206.60,820.20 212.69,824.62 210.36,831.78 202.84,831.78 200.51,824.62" fill="#5fa5d9" stroke="#000" stroke-width="1.6" stroke-linejoin="miter"/>
<text x="231.3" y="831.2" font-size="14.2" text-anchor="start" font-weight="normal" font-style="normal" fill="#000" textLength="60.6" lengthAdjust="spacingAndGlyphs">2903452</text>
<circle cx="206.6" cy="847.6" r="6.45" fill="#8fc5ee" stroke="#000" stroke-width="1.6"/>
<text x="231.3" y="852.2" font-size="14.2" text-anchor="start" font-weight="normal" font-style="normal" fill="#000" textLength="60.6" lengthAdjust="spacingAndGlyphs">2903863</text>
<polygon points="335.30,778.20 340.76,781.35 340.76,787.65 335.30,790.80 329.84,787.65 329.84,781.35" fill="#c3e6fc" stroke="#000" stroke-width="1.6" stroke-linejoin="miter"/>
<text x="360.0" y="789.1" font-size="14.2" text-anchor="start" font-weight="normal" font-style="normal" fill="#000" textLength="60.6" lengthAdjust="spacingAndGlyphs">2903868</text>
<polygon points="335.30,799.10 341.39,803.52 339.06,810.68 331.54,810.68 329.21,803.52" fill="#ff7f0e" stroke="#000" stroke-width="1.6" stroke-linejoin="miter"/>
<text x="360.0" y="810.1" font-size="14.2" text-anchor="start" font-weight="normal" font-style="normal" fill="#000" textLength="60.6" lengthAdjust="spacingAndGlyphs">3902374</text>
<circle cx="335.3" cy="826.6" r="6.45" fill="#ff9232" stroke="#000" stroke-width="1.6"/>
<text x="360.0" y="831.2" font-size="14.2" text-anchor="start" font-weight="normal" font-style="normal" fill="#000" textLength="60.6" lengthAdjust="spacingAndGlyphs">3902559</text>
<polygon points="335.30,841.30 340.76,844.45 340.76,850.75 335.30,853.90 329.84,850.75 329.84,844.45" fill="#ffad66" stroke="#000" stroke-width="1.6" stroke-linejoin="miter"/>
<text x="360.0" y="852.2" font-size="14.2" text-anchor="start" font-weight="normal" font-style="normal" fill="#000" textLength="60.6" lengthAdjust="spacingAndGlyphs">3902561</text>
<polygon points="464.00,778.10 470.09,782.52 467.76,789.68 460.24,789.68 457.91,782.52" fill="#ffc999" stroke="#000" stroke-width="1.6" stroke-linejoin="miter"/>
<text x="488.7" y="789.1" font-size="14.2" text-anchor="start" font-weight="normal" font-style="normal" fill="#000" textLength="60.6" lengthAdjust="spacingAndGlyphs">3902613</text>
<circle cx="464.0" cy="805.5" r="6.45" fill="#ffdcc3" stroke="#000" stroke-width="1.6"/>
<text x="488.7" y="810.1" font-size="14.2" text-anchor="start" font-weight="normal" font-style="normal" fill="#000" textLength="60.6" lengthAdjust="spacingAndGlyphs">4903174</text>
<polygon points="464.00,820.30 469.46,823.45 469.46,829.75 464.00,832.90 458.54,829.75 458.54,823.45" fill="#2ca02c" stroke="#000" stroke-width="1.6" stroke-linejoin="miter"/>
<text x="488.7" y="831.2" font-size="14.2" text-anchor="start" font-weight="normal" font-style="normal" fill="#000" textLength="60.6" lengthAdjust="spacingAndGlyphs">4903175</text>
<polygon points="464.00,841.20 470.09,845.62 467.76,852.78 460.24,852.78 457.91,845.62" fill="#49b649" stroke="#000" stroke-width="1.6" stroke-linejoin="miter"/>
<text x="488.7" y="852.2" font-size="14.2" text-anchor="start" font-weight="normal" font-style="normal" fill="#000" textLength="60.6" lengthAdjust="spacingAndGlyphs">4903320</text>
<circle cx="592.7" cy="784.5" r="6.45" fill="#6ccd6c" stroke="#000" stroke-width="1.6"/>
<text x="617.4" y="789.1" font-size="14.2" text-anchor="start" font-weight="normal" font-style="normal" fill="#000" textLength="60.6" lengthAdjust="spacingAndGlyphs">5904976</text>
<polygon points="592.70,799.20 598.16,802.35 598.16,808.65 592.70,811.80 587.24,808.65 587.24,802.35" fill="#92e692" stroke="#000" stroke-width="1.6" stroke-linejoin="miter"/>
<text x="617.4" y="810.1" font-size="14.2" text-anchor="start" font-weight="normal" font-style="normal" fill="#000" textLength="60.6" lengthAdjust="spacingAndGlyphs">5905270</text>
<polygon points="592.70,820.20 598.79,824.62 596.46,831.78 588.94,831.78 586.61,824.62" fill="#c2fcc2" stroke="#000" stroke-width="1.6" stroke-linejoin="miter"/>
<text x="617.4" y="831.2" font-size="14.2" text-anchor="start" font-weight="normal" font-style="normal" fill="#000" textLength="60.6" lengthAdjust="spacingAndGlyphs">5905275</text>
<circle cx="721.4" cy="784.5" r="6.45" fill="#d62728" stroke="#000" stroke-width="1.6"/>
<text x="746.1" y="789.1" font-size="14.2" text-anchor="start" font-weight="normal" font-style="normal" fill="#000" textLength="60.6" lengthAdjust="spacingAndGlyphs">5905746</text>
<polygon points="721.40,799.20 726.86,802.35 726.86,808.65 721.40,811.80 715.94,808.65 715.94,802.35" fill="#de4647" stroke="#000" stroke-width="1.6" stroke-linejoin="miter"/>
<text x="746.1" y="810.1" font-size="14.2" text-anchor="start" font-weight="normal" font-style="normal" fill="#000" textLength="60.6" lengthAdjust="spacingAndGlyphs">5906155</text>
<polygon points="721.40,820.20 727.49,824.62 725.16,831.78 717.64,831.78 715.31,824.62" fill="#ea6b6b" stroke="#000" stroke-width="1.6" stroke-linejoin="miter"/>
<text x="746.1" y="831.2" font-size="14.2" text-anchor="start" font-weight="normal" font-style="normal" fill="#000" textLength="60.6" lengthAdjust="spacingAndGlyphs">5906156</text>
<circle cx="850.1" cy="784.5" r="6.45" fill="#f29493" stroke="#000" stroke-width="1.6"/>
<text x="874.8" y="789.1" font-size="14.2" text-anchor="start" font-weight="normal" font-style="normal" fill="#000" textLength="60.6" lengthAdjust="spacingAndGlyphs">5906164</text>
<polygon points="850.10,799.20 855.56,802.35 855.56,808.65 850.10,811.80 844.64,808.65 844.64,802.35" fill="#fcc3c3" stroke="#000" stroke-width="1.6" stroke-linejoin="miter"/>
<text x="874.8" y="810.1" font-size="14.2" text-anchor="start" font-weight="normal" font-style="normal" fill="#000" textLength="60.6" lengthAdjust="spacingAndGlyphs">5906400</text>
<polygon points="850.10,820.20 856.19,824.62 853.86,831.78 846.34,831.78 844.01,824.62" fill="#9467bd" stroke="#000" stroke-width="1.6" stroke-linejoin="miter"/>
<text x="874.8" y="831.2" font-size="14.2" text-anchor="start" font-weight="normal" font-style="normal" fill="#000" textLength="60.6" lengthAdjust="spacingAndGlyphs">5906564</text>
<circle cx="978.8" cy="784.5" r="6.45" fill="#a67dcf" stroke="#000" stroke-width="1.6"/>
<text x="1003.5" y="789.1" font-size="14.2" text-anchor="start" font-weight="normal" font-style="normal" fill="#000" textLength="60.6" lengthAdjust="spacingAndGlyphs">5906752</text>
<polygon points="978.80,799.20 984.26,802.35 984.26,808.65 978.80,811.80 973.34,808.65 973.34,802.35" fill="#bd99e2" stroke="#000" stroke-width="1.6" stroke-linejoin="miter"/>
<text x="1003.5" y="810.1" font-size="14.2" text-anchor="start" font-weight="normal" font-style="normal" fill="#000" textLength="60.6" lengthAdjust="spacingAndGlyphs">5906801</text>
<polygon points="978.80,820.20 984.89,824.62 982.56,831.78 975.04,831.78 972.71,824.62" fill="#d2b2f3" stroke="#000" stroke-width="1.6" stroke-linejoin="miter"/>
<text x="1003.5" y="831.2" font-size="14.2" text-anchor="start" font-weight="normal" font-style="normal" fill="#000" textLength="60.6" lengthAdjust="spacingAndGlyphs">5906814</text>
<circle cx="1107.5" cy="784.5" r="6.45" fill="#e4c3fb" stroke="#000" stroke-width="1.6"/>
<text x="1132.2" y="789.1" font-size="14.2" text-anchor="start" font-weight="normal" font-style="normal" fill="#000" textLength="60.6" lengthAdjust="spacingAndGlyphs">5906815</text>
<polygon points="1107.50,799.20 1112.96,802.35 1112.96,808.65 1107.50,811.80 1102.04,808.65 1102.04,802.35" fill="#8c564b" stroke="#000" stroke-width="1.6" stroke-linejoin="miter"/>
<text x="1132.2" y="810.1" font-size="14.2" text-anchor="start" font-weight="normal" font-style="normal" fill="#000" textLength="60.6" lengthAdjust="spacingAndGlyphs">5907061</text>
<polygon points="1107.50,820.20 1113.59,824.62 1111.26,831.78 1103.74,831.78 1101.41,824.62" fill="#a97268" stroke="#000" stroke-width="1.6" stroke-linejoin="miter"/>
<text x="1132.2" y="831.2" font-size="14.2" text-anchor="start" font-weight="normal" font-style="normal" fill="#000" textLength="60.6" lengthAdjust="spacingAndGlyphs">7901104</text>
<circle cx="1236.2" cy="784.5" r="6.45" fill="#c49585" stroke="#000" stroke-width="1.6"/>
<text x="1260.9" y="789.1" font-size="14.2" text-anchor="start" font-weight="normal" font-style="normal" fill="#000" textLength="60.6" lengthAdjust="spacingAndGlyphs">7901106</text>
<path d="M1220.9,805.5h30.6" stroke="#1f77b4" stroke-width="2.5"/>
<polygon points="1236.20,797.90 1228.60,813.10 1243.80,813.10" fill="#1f77b4" stroke="#000" stroke-width="1.6" stroke-linejoin="miter"/>
<text x="1261.6" y="810.1" font-size="14.2" text-anchor="start" font-weight="normal" font-style="normal" fill="#000" textLength="41.0" lengthAdjust="spacingAndGlyphs">sg511</text>
<path d="M1220.9,826.6h30.6" stroke="#ff7f0e" stroke-width="2.5"/>
<polygon points="1236.20,819.00 1228.60,834.20 1243.80,834.20" fill="#ff7f0e" stroke="#000" stroke-width="1.6" stroke-linejoin="miter"/>
<text x="1261.6" y="831.2" font-size="14.2" text-anchor="start" font-weight="normal" font-style="normal" fill="#000" textLength="41.0" lengthAdjust="spacingAndGlyphs">sg626</text>
</svg>
</body></html>
